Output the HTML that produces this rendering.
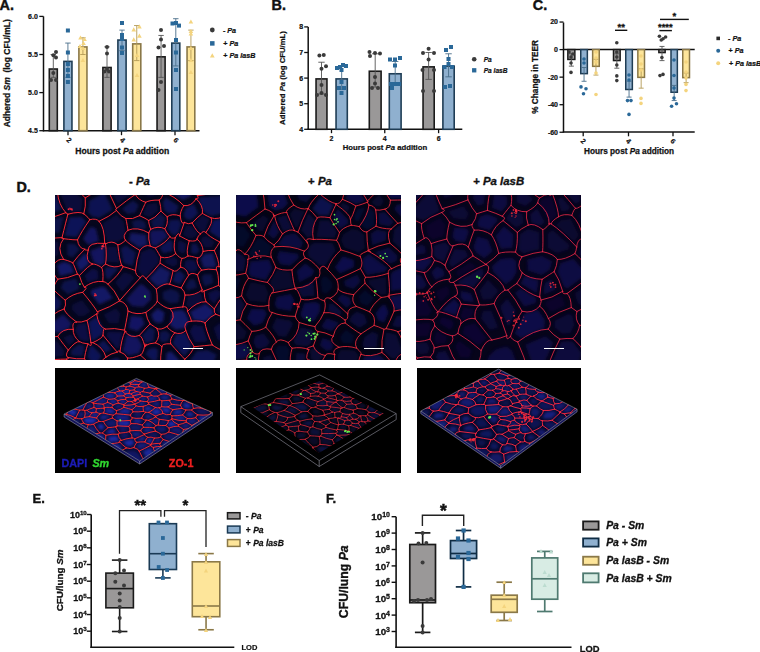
<!DOCTYPE html>
<html><head><meta charset="utf-8"><style>
html,body{margin:0;padding:0;background:#fff;}
svg{display:block;font-family:"Liberation Sans", sans-serif;filter:blur(0.3px);}
</style></head><body>
<svg width="760" height="652" viewBox="0 0 760 652">
<defs><filter id="blur" x="-10%" y="-10%" width="120%" height="120%"><feGaussianBlur stdDeviation="1.6"/></filter><filter id="blur2" x="-20%" y="-20%" width="140%" height="140%"><feGaussianBlur stdDeviation="0.7"/></filter></defs>
<rect width="760" height="652" fill="#fff"/>
<line x1="43.50" y1="16.40" x2="43.50" y2="131.30" stroke="#111" stroke-width="1.5"/>
<line x1="42.80" y1="130.80" x2="199.50" y2="130.80" stroke="#111" stroke-width="1.5"/>
<line x1="39.30" y1="16.40" x2="43.50" y2="16.40" stroke="#111" stroke-width="1.3"/>
<text x="37.80" y="18.90" font-size="7" text-anchor="end" font-weight="bold" fill="#111" stroke="#111" stroke-width="0.21" style="" >6.0</text>
<line x1="39.30" y1="54.50" x2="43.50" y2="54.50" stroke="#111" stroke-width="1.3"/>
<text x="37.80" y="57.00" font-size="7" text-anchor="end" font-weight="bold" fill="#111" stroke="#111" stroke-width="0.21" style="" >5.5</text>
<line x1="39.30" y1="92.60" x2="43.50" y2="92.60" stroke="#111" stroke-width="1.3"/>
<text x="37.80" y="95.10" font-size="7" text-anchor="end" font-weight="bold" fill="#111" stroke="#111" stroke-width="0.21" style="" >5.0</text>
<line x1="39.30" y1="130.70" x2="43.50" y2="130.70" stroke="#111" stroke-width="1.3"/>
<text x="37.80" y="133.20" font-size="7" text-anchor="end" font-weight="bold" fill="#111" stroke="#111" stroke-width="0.21" style="" >4.5</text>
<line x1="68.00" y1="130.80" x2="68.00" y2="135.20" stroke="#111" stroke-width="1.3"/>
<text x="67.50" y="142.00" font-size="7" text-anchor="middle" font-weight="bold" fill="#111" stroke="#111" stroke-width="0.21" transform="rotate(45 67.5 142.0)" style="" >2</text>
<line x1="121.50" y1="130.80" x2="121.50" y2="135.20" stroke="#111" stroke-width="1.3"/>
<text x="121.00" y="142.00" font-size="7" text-anchor="middle" font-weight="bold" fill="#111" stroke="#111" stroke-width="0.21" transform="rotate(45 121.0 142.0)" style="" >4</text>
<line x1="175.00" y1="130.80" x2="175.00" y2="135.20" stroke="#111" stroke-width="1.3"/>
<text x="174.50" y="142.00" font-size="7" text-anchor="middle" font-weight="bold" fill="#111" stroke="#111" stroke-width="0.21" transform="rotate(45 174.5 142.0)" style="" >6</text>
<text x="75.20" y="153.80" font-size="8.6" text-anchor="start" font-weight="bold" fill="#111" stroke="#111" stroke-width="0.26" style="" >Hours post <tspan font-style="italic">Pa</tspan> addition</text>
<text x="10.40" y="73.30" font-size="8.5" text-anchor="middle" font-weight="bold" fill="#111" stroke="#111" stroke-width="0.26" transform="rotate(-90 10.4 73.3)" style="white-space:pre" >Adhered <tspan font-style="italic">Sm</tspan>  (log CFU/mL)</text>
<rect x="49.30" y="69.02" width="8.00" height="61.68" fill="#9a9898" stroke="#1a1a1a" stroke-width="1.6"/>
<line x1="53.30" y1="54.50" x2="53.30" y2="77.36" stroke="#555" stroke-width="0.9"/>
<line x1="50.60" y1="54.50" x2="56.00" y2="54.50" stroke="#555" stroke-width="0.9"/>
<line x1="50.60" y1="77.36" x2="56.00" y2="77.36" stroke="#555" stroke-width="0.9"/>
<circle cx="53.40" cy="55.20" r="2.0" fill="#3a3a3a"/>
<circle cx="56.00" cy="51.90" r="2.0" fill="#3a3a3a"/>
<circle cx="56.00" cy="57.50" r="2.0" fill="#3a3a3a"/>
<circle cx="53.30" cy="73.00" r="2.0" fill="#3a3a3a"/>
<circle cx="51.00" cy="80.00" r="2.0" fill="#3a3a3a"/>
<circle cx="56.00" cy="80.00" r="2.0" fill="#3a3a3a"/>
<rect x="63.90" y="61.40" width="8.05" height="69.30" fill="#8fb0cf" stroke="#1f3d55" stroke-width="1.6"/>
<line x1="67.92" y1="43.07" x2="67.92" y2="77.36" stroke="#4a6e8a" stroke-width="0.9"/>
<line x1="65.22" y1="43.07" x2="70.62" y2="43.07" stroke="#4a6e8a" stroke-width="0.9"/>
<line x1="65.22" y1="77.36" x2="70.62" y2="77.36" stroke="#4a6e8a" stroke-width="0.9"/>
<rect x="65.90" y="28.50" width="4.0" height="4.0" fill="#2a6898"/>
<rect x="65.90" y="50.50" width="4.0" height="4.0" fill="#2a6898"/>
<rect x="65.90" y="62.00" width="4.0" height="4.0" fill="#2a6898"/>
<rect x="65.90" y="68.00" width="4.0" height="4.0" fill="#2a6898"/>
<rect x="65.90" y="74.00" width="4.0" height="4.0" fill="#2a6898"/>
<rect x="65.90" y="80.00" width="4.0" height="4.0" fill="#2a6898"/>
<rect x="78.90" y="46.92" width="8.05" height="83.78" fill="#fde59a" stroke="#8a7848" stroke-width="1.6"/>
<line x1="82.92" y1="37.74" x2="82.92" y2="54.50" stroke="#b39a55" stroke-width="0.9"/>
<line x1="80.22" y1="37.74" x2="85.62" y2="37.74" stroke="#b39a55" stroke-width="0.9"/>
<line x1="80.22" y1="54.50" x2="85.62" y2="54.50" stroke="#b39a55" stroke-width="0.9"/>
<polygon points="80.50,35.43 82.80,39.57 78.20,39.57" fill="#f4d47e" opacity="1"/>
<polygon points="84.50,36.93 86.80,41.07 82.20,41.07" fill="#f4d47e" opacity="1"/>
<polygon points="83.50,40.93 85.80,45.07 81.20,45.07" fill="#f4d47e" opacity="1"/>
<polygon points="80.00,43.93 82.30,48.07 77.70,48.07" fill="#f4d47e" opacity="1"/>
<polygon points="83.00,45.93 85.30,50.07 80.70,50.07" fill="#f4d47e" opacity="1"/>
<polygon points="82.90,57.93 85.20,62.07 80.60,62.07" fill="#f4d47e" opacity="1"/>
<rect x="102.90" y="67.49" width="8.20" height="63.21" fill="#9a9898" stroke="#1a1a1a" stroke-width="1.6"/>
<line x1="107.00" y1="46.88" x2="107.00" y2="77.36" stroke="#555" stroke-width="0.9"/>
<line x1="104.30" y1="46.88" x2="109.70" y2="46.88" stroke="#555" stroke-width="0.9"/>
<line x1="104.30" y1="77.36" x2="109.70" y2="77.36" stroke="#555" stroke-width="0.9"/>
<circle cx="107.00" cy="47.00" r="2.0" fill="#3a3a3a"/>
<circle cx="107.00" cy="53.50" r="2.0" fill="#3a3a3a"/>
<circle cx="107.00" cy="69.00" r="2.0" fill="#3a3a3a"/>
<circle cx="104.50" cy="71.50" r="2.0" fill="#3a3a3a"/>
<circle cx="109.00" cy="71.50" r="2.0" fill="#3a3a3a"/>
<rect x="117.90" y="40.06" width="8.20" height="90.64" fill="#8fb0cf" stroke="#1f3d55" stroke-width="1.6"/>
<line x1="122.00" y1="30.12" x2="122.00" y2="50.69" stroke="#4a6e8a" stroke-width="0.9"/>
<line x1="119.30" y1="30.12" x2="124.70" y2="30.12" stroke="#4a6e8a" stroke-width="0.9"/>
<line x1="119.30" y1="50.69" x2="124.70" y2="50.69" stroke="#4a6e8a" stroke-width="0.9"/>
<rect x="120.00" y="21.00" width="4.0" height="4.0" fill="#2a6898"/>
<rect x="120.00" y="33.00" width="4.0" height="4.0" fill="#2a6898"/>
<rect x="120.00" y="37.00" width="4.0" height="4.0" fill="#2a6898"/>
<rect x="120.00" y="45.50" width="4.0" height="4.0" fill="#2a6898"/>
<rect x="120.00" y="51.00" width="4.0" height="4.0" fill="#2a6898"/>
<rect x="132.70" y="43.87" width="8.10" height="86.83" fill="#fde59a" stroke="#8a7848" stroke-width="1.6"/>
<line x1="136.75" y1="25.54" x2="136.75" y2="60.60" stroke="#b39a55" stroke-width="0.9"/>
<line x1="134.05" y1="25.54" x2="139.45" y2="25.54" stroke="#b39a55" stroke-width="0.9"/>
<line x1="134.05" y1="60.60" x2="139.45" y2="60.60" stroke="#b39a55" stroke-width="0.9"/>
<polygon points="133.75,27.33 136.05,31.47 131.45,31.47" fill="#f4d47e" opacity="1"/>
<polygon points="139.40,24.33 141.70,28.47 137.10,28.47" fill="#f4d47e" opacity="1"/>
<polygon points="139.40,33.53 141.70,37.67 137.10,37.67" fill="#f4d47e" opacity="1"/>
<polygon points="133.75,37.33 136.05,41.47 131.45,41.47" fill="#f4d47e" opacity="1"/>
<polygon points="137.00,52.93 139.30,57.07 134.70,57.07" fill="#f4d47e" opacity="1"/>
<polygon points="137.00,72.93 139.30,77.07 134.70,77.07" fill="#f4d47e" opacity="1"/>
<rect x="157.05" y="56.82" width="8.05" height="73.88" fill="#9a9898" stroke="#1a1a1a" stroke-width="1.6"/>
<line x1="161.07" y1="35.45" x2="161.07" y2="77.36" stroke="#555" stroke-width="0.9"/>
<line x1="158.38" y1="35.45" x2="163.77" y2="35.45" stroke="#555" stroke-width="0.9"/>
<line x1="158.38" y1="77.36" x2="163.77" y2="77.36" stroke="#555" stroke-width="0.9"/>
<circle cx="161.00" cy="30.00" r="2.0" fill="#3a3a3a"/>
<circle cx="161.00" cy="39.40" r="2.0" fill="#3a3a3a"/>
<circle cx="158.50" cy="47.50" r="2.0" fill="#3a3a3a"/>
<circle cx="164.00" cy="46.00" r="2.0" fill="#3a3a3a"/>
<circle cx="161.00" cy="82.00" r="2.0" fill="#3a3a3a"/>
<circle cx="158.50" cy="90.00" r="2.0" fill="#3a3a3a"/>
<rect x="171.80" y="43.11" width="8.00" height="87.59" fill="#8fb0cf" stroke="#1f3d55" stroke-width="1.6"/>
<line x1="175.80" y1="18.69" x2="175.80" y2="65.93" stroke="#4a6e8a" stroke-width="0.9"/>
<line x1="173.10" y1="18.69" x2="178.50" y2="18.69" stroke="#4a6e8a" stroke-width="0.9"/>
<line x1="173.10" y1="65.93" x2="178.50" y2="65.93" stroke="#4a6e8a" stroke-width="0.9"/>
<rect x="170.50" y="21.50" width="4.0" height="4.0" fill="#2a6898"/>
<rect x="174.00" y="21.00" width="4.0" height="4.0" fill="#2a6898"/>
<rect x="177.00" y="23.60" width="4.0" height="4.0" fill="#2a6898"/>
<rect x="174.00" y="38.00" width="4.0" height="4.0" fill="#2a6898"/>
<rect x="174.00" y="50.50" width="4.0" height="4.0" fill="#2a6898"/>
<rect x="174.00" y="68.00" width="4.0" height="4.0" fill="#2a6898"/>
<rect x="174.00" y="87.00" width="4.0" height="4.0" fill="#2a6898"/>
<rect x="187.05" y="46.92" width="7.75" height="83.78" fill="#fde59a" stroke="#8a7848" stroke-width="1.6"/>
<line x1="190.93" y1="30.12" x2="190.93" y2="60.60" stroke="#b39a55" stroke-width="0.9"/>
<line x1="188.23" y1="30.12" x2="193.62" y2="30.12" stroke="#b39a55" stroke-width="0.9"/>
<line x1="188.23" y1="60.60" x2="193.62" y2="60.60" stroke="#b39a55" stroke-width="0.9"/>
<polygon points="190.90,19.43 193.20,23.57 188.60,23.57" fill="#f4d47e" opacity="1"/>
<polygon points="190.90,28.93 193.20,33.07 188.60,33.07" fill="#f4d47e" opacity="1"/>
<polygon points="190.90,31.43 193.20,35.57 188.60,35.57" fill="#f4d47e" opacity="1"/>
<polygon points="190.90,45.93 193.20,50.07 188.60,50.07" fill="#f4d47e" opacity="1"/>
<polygon points="190.90,57.93 193.20,62.07 188.60,62.07" fill="#f4d47e" opacity="1"/>
<polygon points="190.90,69.93 193.20,74.07 188.60,74.07" fill="#f4d47e" opacity="1"/>
<circle cx="212.30" cy="30.00" r="2.4" fill="#3a3a3a"/>
<text x="222.90" y="32.60" font-size="7.2" text-anchor="start" font-weight="bold" fill="#111" stroke="#111" stroke-width="0.22" style="" >- <tspan font-style="italic">Pa</tspan></text>
<rect x="210.05" y="41.15" width="4.5" height="4.5" fill="#2a6898"/>
<text x="223.30" y="46.00" font-size="7.2" text-anchor="start" font-weight="bold" fill="#111" stroke="#111" stroke-width="0.22" style="" >+ <tspan font-style="italic">Pa</tspan></text>
<polygon points="212.30,53.14 214.70,57.46 209.90,57.46" fill="#f4d47e" opacity="1"/>
<text x="223.30" y="58.00" font-size="7.2" text-anchor="start" font-weight="bold" fill="#111" stroke="#111" stroke-width="0.22" style="" >+ <tspan font-style="italic">Pa lasB</tspan></text>
<text x="-0.50" y="10.20" font-size="14.4" text-anchor="start" font-weight="bold" fill="#111" stroke="#111" stroke-width="0.43" style="" >A.</text>
<line x1="308.20" y1="26.90" x2="308.20" y2="129.70" stroke="#111" stroke-width="1.5"/>
<line x1="307.50" y1="129.20" x2="462.30" y2="129.20" stroke="#111" stroke-width="1.5"/>
<line x1="304.20" y1="26.90" x2="308.20" y2="26.90" stroke="#111" stroke-width="1.3"/>
<text x="303.20" y="29.30" font-size="7" text-anchor="end" font-weight="bold" fill="#111" stroke="#111" stroke-width="0.21" style="" >8</text>
<line x1="304.20" y1="52.50" x2="308.20" y2="52.50" stroke="#111" stroke-width="1.3"/>
<text x="303.20" y="54.90" font-size="7" text-anchor="end" font-weight="bold" fill="#111" stroke="#111" stroke-width="0.21" style="" >7</text>
<line x1="304.20" y1="78.10" x2="308.20" y2="78.10" stroke="#111" stroke-width="1.3"/>
<text x="303.20" y="80.50" font-size="7" text-anchor="end" font-weight="bold" fill="#111" stroke="#111" stroke-width="0.21" style="" >6</text>
<line x1="304.20" y1="103.70" x2="308.20" y2="103.70" stroke="#111" stroke-width="1.3"/>
<text x="303.20" y="106.10" font-size="7" text-anchor="end" font-weight="bold" fill="#111" stroke="#111" stroke-width="0.21" style="" >5</text>
<line x1="304.20" y1="129.30" x2="308.20" y2="129.30" stroke="#111" stroke-width="1.3"/>
<text x="303.20" y="131.70" font-size="7" text-anchor="end" font-weight="bold" fill="#111" stroke="#111" stroke-width="0.21" style="" >4</text>
<line x1="331.50" y1="129.20" x2="331.50" y2="133.20" stroke="#111" stroke-width="1.3"/>
<text x="331.50" y="140.50" font-size="7" text-anchor="middle" font-weight="bold" fill="#111" stroke="#111" stroke-width="0.21" style="" >2</text>
<line x1="384.75" y1="129.20" x2="384.75" y2="133.20" stroke="#111" stroke-width="1.3"/>
<text x="384.75" y="140.50" font-size="7" text-anchor="middle" font-weight="bold" fill="#111" stroke="#111" stroke-width="0.21" style="" >4</text>
<line x1="438.60" y1="129.20" x2="438.60" y2="133.20" stroke="#111" stroke-width="1.3"/>
<text x="438.60" y="140.50" font-size="7" text-anchor="middle" font-weight="bold" fill="#111" stroke="#111" stroke-width="0.21" style="" >6</text>
<text x="342.70" y="150.00" font-size="7.73" text-anchor="start" font-weight="bold" fill="#111" stroke="#111" stroke-width="0.23" style="" >Hours post <tspan font-style="italic">Pa</tspan> addition</text>
<text x="285.20" y="78.00" font-size="7.76" text-anchor="middle" font-weight="bold" fill="#111" stroke="#111" stroke-width="0.23" transform="rotate(-90 285.2 78)" style="" >Adhered <tspan font-style="italic">Pa</tspan> (log CFU/mL)</text>
<rect x="316.05" y="78.90" width="10.90" height="50.40" fill="#9a9898" stroke="#1a1a1a" stroke-width="1.6"/>
<line x1="321.50" y1="62.23" x2="321.50" y2="93.97" stroke="#555" stroke-width="0.9"/>
<line x1="318.30" y1="62.23" x2="324.70" y2="62.23" stroke="#555" stroke-width="0.9"/>
<line x1="318.30" y1="93.97" x2="324.70" y2="93.97" stroke="#555" stroke-width="0.9"/>
<circle cx="319.40" cy="55.60" r="2.0" fill="#3a3a3a"/>
<circle cx="323.75" cy="55.00" r="2.0" fill="#3a3a3a"/>
<circle cx="326.00" cy="66.25" r="2.0" fill="#3a3a3a"/>
<circle cx="321.50" cy="68.75" r="2.0" fill="#3a3a3a"/>
<circle cx="321.50" cy="85.00" r="2.0" fill="#3a3a3a"/>
<circle cx="321.50" cy="93.00" r="2.0" fill="#3a3a3a"/>
<circle cx="317.00" cy="95.00" r="2.0" fill="#3a3a3a"/>
<circle cx="326.00" cy="95.00" r="2.0" fill="#3a3a3a"/>
<rect x="336.05" y="78.90" width="11.25" height="50.40" fill="#8fb0cf" stroke="#1f3d55" stroke-width="1.6"/>
<line x1="341.68" y1="66.58" x2="341.68" y2="89.62" stroke="#4a6e8a" stroke-width="0.9"/>
<line x1="338.48" y1="66.58" x2="344.88" y2="66.58" stroke="#4a6e8a" stroke-width="0.9"/>
<line x1="338.48" y1="89.62" x2="344.88" y2="89.62" stroke="#4a6e8a" stroke-width="0.9"/>
<rect x="335.00" y="66.00" width="4.0" height="4.0" fill="#2a6898"/>
<rect x="338.00" y="65.00" width="4.0" height="4.0" fill="#2a6898"/>
<rect x="341.00" y="63.00" width="4.0" height="4.0" fill="#2a6898"/>
<rect x="344.00" y="64.00" width="4.0" height="4.0" fill="#2a6898"/>
<rect x="339.50" y="68.00" width="4.0" height="4.0" fill="#2a6898"/>
<rect x="339.50" y="80.00" width="4.0" height="4.0" fill="#2a6898"/>
<rect x="337.00" y="86.00" width="4.0" height="4.0" fill="#2a6898"/>
<rect x="342.00" y="86.00" width="4.0" height="4.0" fill="#2a6898"/>
<rect x="339.50" y="91.00" width="4.0" height="4.0" fill="#2a6898"/>
<rect x="369.30" y="71.22" width="11.80" height="58.08" fill="#9a9898" stroke="#1a1a1a" stroke-width="1.6"/>
<line x1="375.20" y1="53.78" x2="375.20" y2="87.06" stroke="#555" stroke-width="0.9"/>
<line x1="372.00" y1="53.78" x2="378.40" y2="53.78" stroke="#555" stroke-width="0.9"/>
<line x1="372.00" y1="87.06" x2="378.40" y2="87.06" stroke="#555" stroke-width="0.9"/>
<circle cx="369.50" cy="52.00" r="2.0" fill="#3a3a3a"/>
<circle cx="375.00" cy="53.00" r="2.0" fill="#3a3a3a"/>
<circle cx="380.00" cy="53.50" r="2.0" fill="#3a3a3a"/>
<circle cx="370.00" cy="56.00" r="2.0" fill="#3a3a3a"/>
<circle cx="375.00" cy="77.00" r="2.0" fill="#3a3a3a"/>
<circle cx="375.00" cy="83.50" r="2.0" fill="#3a3a3a"/>
<circle cx="372.00" cy="88.00" r="2.0" fill="#3a3a3a"/>
<circle cx="378.00" cy="88.00" r="2.0" fill="#3a3a3a"/>
<rect x="389.30" y="73.78" width="11.80" height="55.52" fill="#8fb0cf" stroke="#1f3d55" stroke-width="1.6"/>
<line x1="395.20" y1="61.46" x2="395.20" y2="84.50" stroke="#4a6e8a" stroke-width="0.9"/>
<line x1="392.00" y1="61.46" x2="398.40" y2="61.46" stroke="#4a6e8a" stroke-width="0.9"/>
<line x1="392.00" y1="84.50" x2="398.40" y2="84.50" stroke="#4a6e8a" stroke-width="0.9"/>
<rect x="388.00" y="57.50" width="4.0" height="4.0" fill="#2a6898"/>
<rect x="393.00" y="57.50" width="4.0" height="4.0" fill="#2a6898"/>
<rect x="398.00" y="56.00" width="4.0" height="4.0" fill="#2a6898"/>
<rect x="393.00" y="63.50" width="4.0" height="4.0" fill="#2a6898"/>
<rect x="389.00" y="82.00" width="4.0" height="4.0" fill="#2a6898"/>
<rect x="393.00" y="82.00" width="4.0" height="4.0" fill="#2a6898"/>
<rect x="397.00" y="82.00" width="4.0" height="4.0" fill="#2a6898"/>
<rect x="390.00" y="86.00" width="4.0" height="4.0" fill="#2a6898"/>
<rect x="423.05" y="66.87" width="11.15" height="62.43" fill="#9a9898" stroke="#1a1a1a" stroke-width="1.6"/>
<line x1="428.62" y1="52.50" x2="428.62" y2="79.38" stroke="#555" stroke-width="0.9"/>
<line x1="425.43" y1="52.50" x2="431.82" y2="52.50" stroke="#555" stroke-width="0.9"/>
<line x1="425.43" y1="79.38" x2="431.82" y2="79.38" stroke="#555" stroke-width="0.9"/>
<circle cx="428.60" cy="48.70" r="2.0" fill="#3a3a3a"/>
<circle cx="423.00" cy="53.00" r="2.0" fill="#3a3a3a"/>
<circle cx="434.00" cy="53.00" r="2.0" fill="#3a3a3a"/>
<circle cx="428.60" cy="59.50" r="2.0" fill="#3a3a3a"/>
<circle cx="422.50" cy="70.00" r="2.0" fill="#3a3a3a"/>
<circle cx="434.00" cy="70.00" r="2.0" fill="#3a3a3a"/>
<circle cx="423.00" cy="91.00" r="2.0" fill="#3a3a3a"/>
<circle cx="434.00" cy="91.00" r="2.0" fill="#3a3a3a"/>
<rect x="442.90" y="66.10" width="11.30" height="63.20" fill="#8fb0cf" stroke="#1f3d55" stroke-width="1.6"/>
<line x1="448.55" y1="53.78" x2="448.55" y2="76.82" stroke="#4a6e8a" stroke-width="0.9"/>
<line x1="445.35" y1="53.78" x2="451.75" y2="53.78" stroke="#4a6e8a" stroke-width="0.9"/>
<line x1="445.35" y1="76.82" x2="451.75" y2="76.82" stroke="#4a6e8a" stroke-width="0.9"/>
<rect x="444.00" y="48.00" width="4.0" height="4.0" fill="#2a6898"/>
<rect x="449.00" y="45.00" width="4.0" height="4.0" fill="#2a6898"/>
<rect x="446.50" y="57.00" width="4.0" height="4.0" fill="#2a6898"/>
<rect x="446.50" y="62.00" width="4.0" height="4.0" fill="#2a6898"/>
<rect x="442.50" y="65.00" width="4.0" height="4.0" fill="#2a6898"/>
<rect x="450.00" y="65.00" width="4.0" height="4.0" fill="#2a6898"/>
<rect x="443.00" y="85.00" width="4.0" height="4.0" fill="#2a6898"/>
<rect x="448.00" y="84.00" width="4.0" height="4.0" fill="#2a6898"/>
<circle cx="474.20" cy="59.20" r="2.3" fill="#3a3a3a"/>
<text x="483.70" y="61.60" font-size="6.6" text-anchor="start" font-weight="bold" fill="#111" stroke="#111" stroke-width="0.20" style="" ><tspan font-style="italic">Pa</tspan></text>
<rect x="472.05" y="68.15" width="4.3" height="4.3" fill="#2a6898"/>
<text x="483.70" y="72.70" font-size="6.6" text-anchor="start" font-weight="bold" fill="#111" stroke="#111" stroke-width="0.20" style="" ><tspan font-style="italic">Pa lasB</tspan></text>
<text x="271.60" y="10.20" font-size="14.4" text-anchor="start" font-weight="bold" fill="#111" stroke="#111" stroke-width="0.43" style="" >B.</text>
<line x1="563.50" y1="22.50" x2="563.50" y2="132.50" stroke="#111" stroke-width="1.5"/>
<line x1="562.80" y1="132.00" x2="694.70" y2="132.00" stroke="#111" stroke-width="1.5"/>
<line x1="563.50" y1="49.60" x2="694.70" y2="49.60" stroke="#111" stroke-width="1.5"/>
<line x1="559.50" y1="22.05" x2="563.50" y2="22.05" stroke="#111" stroke-width="1.3"/>
<text x="558.00" y="24.45" font-size="7" text-anchor="end" font-weight="bold" fill="#111" stroke="#111" stroke-width="0.21" style="" >20</text>
<line x1="559.50" y1="49.60" x2="563.50" y2="49.60" stroke="#111" stroke-width="1.3"/>
<text x="558.00" y="52.00" font-size="7" text-anchor="end" font-weight="bold" fill="#111" stroke="#111" stroke-width="0.21" style="" >0</text>
<line x1="559.50" y1="77.15" x2="563.50" y2="77.15" stroke="#111" stroke-width="1.3"/>
<text x="558.00" y="79.55" font-size="7" text-anchor="end" font-weight="bold" fill="#111" stroke="#111" stroke-width="0.21" style="" >-20</text>
<line x1="559.50" y1="104.70" x2="563.50" y2="104.70" stroke="#111" stroke-width="1.3"/>
<text x="558.00" y="107.10" font-size="7" text-anchor="end" font-weight="bold" fill="#111" stroke="#111" stroke-width="0.21" style="" >-40</text>
<line x1="559.50" y1="132.25" x2="563.50" y2="132.25" stroke="#111" stroke-width="1.3"/>
<text x="558.00" y="134.65" font-size="7" text-anchor="end" font-weight="bold" fill="#111" stroke="#111" stroke-width="0.21" style="" >-60</text>
<line x1="583.20" y1="132.00" x2="583.20" y2="136.30" stroke="#111" stroke-width="1.3"/>
<text x="581.70" y="143.00" font-size="7" text-anchor="middle" font-weight="bold" fill="#111" stroke="#111" stroke-width="0.21" transform="rotate(45 581.7 143.0)" style="" >2</text>
<line x1="628.50" y1="132.00" x2="628.50" y2="136.30" stroke="#111" stroke-width="1.3"/>
<text x="627.00" y="143.00" font-size="7" text-anchor="middle" font-weight="bold" fill="#111" stroke="#111" stroke-width="0.21" transform="rotate(45 627.0 143.0)" style="" >4</text>
<line x1="673.00" y1="132.00" x2="673.00" y2="136.30" stroke="#111" stroke-width="1.3"/>
<text x="671.50" y="143.00" font-size="7" text-anchor="middle" font-weight="bold" fill="#111" stroke="#111" stroke-width="0.21" transform="rotate(45 671.5 143.0)" style="" >6</text>
<text x="584.00" y="154.20" font-size="8.24" text-anchor="start" font-weight="bold" fill="#111" stroke="#111" stroke-width="0.25" style="" >Hours post <tspan font-style="italic">Pa</tspan> addition</text>
<text x="538.30" y="76.90" font-size="8.24" text-anchor="middle" font-weight="bold" fill="#111" stroke="#111" stroke-width="0.25" transform="rotate(-90 538.3 76.9)" style="" >% Change in TEER</text>
<rect x="567.85" y="49.60" width="7.00" height="9.86" fill="#9a9898" stroke="#1a1a1a" stroke-width="1.5"/>
<line x1="571.35" y1="53.73" x2="571.35" y2="66.13" stroke="#555" stroke-width="0.9"/>
<line x1="568.85" y1="53.73" x2="573.85" y2="53.73" stroke="#555" stroke-width="0.9"/>
<line x1="568.85" y1="66.13" x2="573.85" y2="66.13" stroke="#555" stroke-width="0.9"/>
<circle cx="569.00" cy="52.00" r="1.8" fill="#3a3a3a"/>
<circle cx="573.00" cy="54.00" r="1.8" fill="#3a3a3a"/>
<circle cx="571.00" cy="57.00" r="1.8" fill="#3a3a3a"/>
<circle cx="571.00" cy="63.00" r="1.8" fill="#3a3a3a"/>
<circle cx="571.00" cy="72.40" r="1.8" fill="#3a3a3a"/>
<rect x="580.75" y="49.60" width="6.60" height="24.04" fill="#8fb0cf" stroke="#1f3d55" stroke-width="1.5"/>
<line x1="584.05" y1="67.51" x2="584.05" y2="81.28" stroke="#4a6e8a" stroke-width="0.9"/>
<line x1="581.55" y1="67.51" x2="586.55" y2="67.51" stroke="#4a6e8a" stroke-width="0.9"/>
<line x1="581.55" y1="81.28" x2="586.55" y2="81.28" stroke="#4a6e8a" stroke-width="0.9"/>
<circle cx="584.00" cy="59.00" r="1.8" fill="#2a6898"/>
<circle cx="584.00" cy="63.00" r="1.8" fill="#2a6898"/>
<circle cx="581.00" cy="86.90" r="1.8" fill="#2a6898"/>
<circle cx="586.00" cy="88.75" r="1.8" fill="#2a6898"/>
<circle cx="583.50" cy="93.75" r="1.8" fill="#2a6898"/>
<rect x="592.65" y="49.60" width="6.60" height="16.74" fill="#fde59a" stroke="#8a7848" stroke-width="1.5"/>
<line x1="595.95" y1="59.24" x2="595.95" y2="75.08" stroke="#b39a55" stroke-width="0.9"/>
<line x1="593.45" y1="59.24" x2="598.45" y2="59.24" stroke="#b39a55" stroke-width="0.9"/>
<line x1="593.45" y1="75.08" x2="598.45" y2="75.08" stroke="#b39a55" stroke-width="0.9"/>
<circle cx="596.00" cy="52.00" r="1.8" fill="#f4d47e"/>
<circle cx="596.00" cy="58.00" r="1.8" fill="#f4d47e"/>
<circle cx="596.00" cy="62.00" r="1.8" fill="#f4d47e"/>
<circle cx="596.00" cy="73.00" r="1.8" fill="#f4d47e"/>
<circle cx="596.00" cy="94.50" r="1.8" fill="#f4d47e"/>
<rect x="613.50" y="49.60" width="6.65" height="10.96" fill="#9a9898" stroke="#1a1a1a" stroke-width="1.5"/>
<line x1="616.83" y1="53.73" x2="616.83" y2="68.20" stroke="#555" stroke-width="0.9"/>
<line x1="614.33" y1="53.73" x2="619.33" y2="53.73" stroke="#555" stroke-width="0.9"/>
<line x1="614.33" y1="68.20" x2="619.33" y2="68.20" stroke="#555" stroke-width="0.9"/>
<circle cx="616.80" cy="42.75" r="1.8" fill="#3a3a3a"/>
<circle cx="616.80" cy="52.00" r="1.8" fill="#3a3a3a"/>
<circle cx="616.80" cy="57.00" r="1.8" fill="#3a3a3a"/>
<circle cx="616.80" cy="65.00" r="1.8" fill="#3a3a3a"/>
<circle cx="616.80" cy="75.90" r="1.8" fill="#3a3a3a"/>
<circle cx="616.80" cy="80.60" r="1.8" fill="#3a3a3a"/>
<rect x="625.75" y="49.60" width="6.60" height="39.89" fill="#8fb0cf" stroke="#1f3d55" stroke-width="1.5"/>
<line x1="629.05" y1="81.28" x2="629.05" y2="97.12" stroke="#4a6e8a" stroke-width="0.9"/>
<line x1="626.55" y1="81.28" x2="631.55" y2="81.28" stroke="#4a6e8a" stroke-width="0.9"/>
<line x1="626.55" y1="97.12" x2="631.55" y2="97.12" stroke="#4a6e8a" stroke-width="0.9"/>
<circle cx="629.00" cy="75.00" r="1.8" fill="#2a6898"/>
<circle cx="629.00" cy="80.00" r="1.8" fill="#2a6898"/>
<circle cx="627.50" cy="100.60" r="1.8" fill="#2a6898"/>
<circle cx="631.00" cy="100.60" r="1.8" fill="#2a6898"/>
<circle cx="629.00" cy="114.40" r="1.8" fill="#2a6898"/>
<rect x="637.85" y="49.60" width="6.65" height="27.76" fill="#fde59a" stroke="#8a7848" stroke-width="1.5"/>
<line x1="641.17" y1="68.89" x2="641.17" y2="88.17" stroke="#b39a55" stroke-width="0.9"/>
<line x1="638.67" y1="68.89" x2="643.67" y2="68.89" stroke="#b39a55" stroke-width="0.9"/>
<line x1="638.67" y1="88.17" x2="643.67" y2="88.17" stroke="#b39a55" stroke-width="0.9"/>
<circle cx="641.00" cy="56.00" r="1.8" fill="#f4d47e"/>
<circle cx="641.00" cy="64.00" r="1.8" fill="#f4d47e"/>
<circle cx="641.00" cy="70.00" r="1.8" fill="#f4d47e"/>
<circle cx="641.00" cy="98.40" r="1.8" fill="#f4d47e"/>
<circle cx="641.00" cy="103.40" r="1.8" fill="#f4d47e"/>
<rect x="658.85" y="49.60" width="6.30" height="2.97" fill="#9a9898" stroke="#1a1a1a" stroke-width="1.5"/>
<line x1="662.00" y1="46.43" x2="662.00" y2="60.62" stroke="#555" stroke-width="0.9"/>
<line x1="659.50" y1="46.43" x2="664.50" y2="46.43" stroke="#555" stroke-width="0.9"/>
<line x1="659.50" y1="60.62" x2="664.50" y2="60.62" stroke="#555" stroke-width="0.9"/>
<circle cx="659.40" cy="36.25" r="1.8" fill="#3a3a3a"/>
<circle cx="663.10" cy="38.75" r="1.8" fill="#3a3a3a"/>
<circle cx="665.60" cy="37.00" r="1.8" fill="#3a3a3a"/>
<circle cx="661.25" cy="40.00" r="1.8" fill="#3a3a3a"/>
<circle cx="661.90" cy="57.50" r="1.8" fill="#3a3a3a"/>
<circle cx="660.00" cy="75.60" r="1.8" fill="#3a3a3a"/>
<circle cx="663.00" cy="74.40" r="1.8" fill="#3a3a3a"/>
<rect x="671.00" y="49.60" width="6.35" height="42.64" fill="#8fb0cf" stroke="#1f3d55" stroke-width="1.5"/>
<line x1="674.17" y1="85.41" x2="674.17" y2="100.57" stroke="#4a6e8a" stroke-width="0.9"/>
<line x1="671.67" y1="85.41" x2="676.67" y2="85.41" stroke="#4a6e8a" stroke-width="0.9"/>
<line x1="671.67" y1="100.57" x2="676.67" y2="100.57" stroke="#4a6e8a" stroke-width="0.9"/>
<circle cx="674.00" cy="60.00" r="1.8" fill="#2a6898"/>
<circle cx="674.00" cy="75.50" r="1.8" fill="#2a6898"/>
<circle cx="674.00" cy="88.00" r="1.8" fill="#2a6898"/>
<circle cx="674.00" cy="98.10" r="1.8" fill="#2a6898"/>
<circle cx="676.50" cy="103.75" r="1.8" fill="#2a6898"/>
<circle cx="671.60" cy="106.25" r="1.8" fill="#2a6898"/>
<rect x="682.75" y="49.60" width="6.75" height="28.04" fill="#fde59a" stroke="#8a7848" stroke-width="1.5"/>
<line x1="686.12" y1="73.02" x2="686.12" y2="82.66" stroke="#b39a55" stroke-width="0.9"/>
<line x1="683.62" y1="73.02" x2="688.62" y2="73.02" stroke="#b39a55" stroke-width="0.9"/>
<line x1="683.62" y1="82.66" x2="688.62" y2="82.66" stroke="#b39a55" stroke-width="0.9"/>
<circle cx="686.00" cy="62.00" r="1.8" fill="#f4d47e"/>
<circle cx="686.00" cy="72.00" r="1.8" fill="#f4d47e"/>
<circle cx="686.00" cy="78.00" r="1.8" fill="#f4d47e"/>
<circle cx="686.00" cy="84.40" r="1.8" fill="#f4d47e"/>
<circle cx="686.00" cy="90.60" r="1.8" fill="#f4d47e"/>
<text x="621.20" y="29.50" font-size="9.5" text-anchor="middle" font-weight="bold" fill="#111" stroke="#111" stroke-width="0.28" style="" >**</text>
<line x1="615.00" y1="30.30" x2="627.30" y2="30.30" stroke="#111" stroke-width="1.4"/>
<text x="665.30" y="30.00" font-size="9.3" text-anchor="middle" font-weight="bold" fill="#111" stroke="#111" stroke-width="0.28" style="" >****</text>
<line x1="659.40" y1="30.60" x2="671.90" y2="30.60" stroke="#111" stroke-width="1.4"/>
<text x="674.40" y="18.80" font-size="9.5" text-anchor="middle" font-weight="bold" fill="#111" stroke="#111" stroke-width="0.28" style="" >*</text>
<line x1="660.00" y1="19.40" x2="688.80" y2="19.40" stroke="#111" stroke-width="1.4"/>
<rect x="716.40" y="36.60" width="3.6" height="3.6" fill="#2a2a2a"/>
<text x="728.00" y="40.80" font-size="7.2" text-anchor="start" font-weight="bold" fill="#111" stroke="#111" stroke-width="0.22" style="" >- <tspan font-style="italic">Pa</tspan></text>
<circle cx="718.20" cy="50.65" r="2.0" fill="#2a6898"/>
<text x="728.50" y="53.10" font-size="7.2" text-anchor="start" font-weight="bold" fill="#111" stroke="#111" stroke-width="0.22" style="" >+ <tspan font-style="italic">Pa</tspan></text>
<circle cx="718.20" cy="63.30" r="2.0" fill="#f4d47e"/>
<text x="729.00" y="65.70" font-size="7.2" text-anchor="start" font-weight="bold" fill="#111" stroke="#111" stroke-width="0.22" style="" >+ <tspan font-style="italic">Pa lasB</tspan></text>
<text x="532.80" y="10.20" font-size="14.4" text-anchor="start" font-weight="bold" fill="#111" stroke="#111" stroke-width="0.43" style="" >C.</text>
<text x="16.40" y="192.40" font-size="14.4" text-anchor="start" font-weight="bold" fill="#111" stroke="#111" stroke-width="0.43" style="" >D.</text>
<text x="139.50" y="184.60" font-size="11.4" text-anchor="middle" font-weight="bold" fill="#111" stroke="#111" stroke-width="0.34" style="" >- <tspan font-style="italic">Pa</tspan></text>
<text x="320.00" y="184.60" font-size="11.4" text-anchor="middle" font-weight="bold" fill="#111" stroke="#111" stroke-width="0.34" style="" >+ <tspan font-style="italic">Pa</tspan></text>
<text x="498.70" y="184.60" font-size="11.4" text-anchor="middle" font-weight="bold" fill="#111" stroke="#111" stroke-width="0.34" style="" >+ <tspan font-style="italic">Pa lasB</tspan></text>
<clipPath id="clip55"><rect x="55" y="195" width="165" height="165"/></clipPath>
<g clip-path="url(#clip55)"><rect x="55" y="195" width="165" height="165" fill="#05061c"/>
<g filter="url(#blur)"><polygon points="140.6,376.6 131.2,377.3 132.0,362.8 139.3,361.1 146.5,367.5" fill="#1e26a8" opacity="0.38"/><polygon points="64.1,362.0 50.3,362.9 56.5,374.2 59.9,373.5 64.6,364.9" fill="#1e26a8" opacity="0.53"/><polygon points="90.1,251.0 103.9,245.4 104.5,245.8 104.5,262.6 101.2,265.5 93.8,262.6" fill="#1e26a8" opacity="0.48"/><polygon points="203.5,267.7 200.5,258.8 204.7,254.0 212.8,253.3 216.2,265.2 214.3,267.4" fill="#1e26a8" opacity="0.49"/><polygon points="141.9,88.2 184.1,68.8 150.7,170.9 139.5,171.2 131.5,164.6" fill="#1e26a8" opacity="0.20"/><polygon points="185.7,286.4 187.8,290.3 197.0,287.5 194.5,279.4 189.7,279.6" fill="#1e26a8" opacity="0.32"/><polygon points="105.4,352.3 98.4,344.5 103.8,340.6 111.4,349.6" fill="#1e26a8" opacity="0.41"/><polygon points="84.6,275.4 92.4,268.6 97.7,270.6 98.5,278.9 87.5,282.3" fill="#1e26a8" opacity="0.29"/><polygon points="58.4,254.7 58.4,242.3 57.5,241.6 40.8,240.8 40.3,241.1 46.5,255.6 52.6,257.7" fill="#1e26a8" opacity="0.23"/><polygon points="64.9,235.1 69.4,217.4 81.5,217.1 86.1,221.5 76.7,236.8 66.1,236.0" fill="#1e26a8" opacity="0.43"/><polygon points="197.7,233.5 195.1,237.2 189.5,238.4 182.7,235.0 186.1,225.4 191.7,225.7" fill="#1e26a8" opacity="0.20"/><polygon points="253.2,335.1 250.0,321.9 257.5,301.3 259.3,299.8 338.3,313.0 271.1,340.8" fill="#1e26a8" opacity="0.44"/><polygon points="144.9,229.2 133.4,227.7 132.2,221.3 139.9,219.6 145.0,222.3 146.0,227.2" fill="#1e26a8" opacity="0.33"/><polygon points="155.1,195.5 157.3,191.6 157.4,189.8 150.9,184.7 144.0,184.9 143.0,192.7 148.3,196.6" fill="#1e26a8" opacity="0.22"/><polygon points="163.0,342.5 159.3,340.3 160.0,331.9 166.0,330.8 170.4,334.5 168.1,340.8" fill="#1e26a8" opacity="0.34"/><polygon points="158.0,389.8 165.7,373.8 171.9,375.0 163.7,399.1" fill="#1e26a8" opacity="0.51"/><polygon points="9.5,296.1 -9.7,286.2 -82.8,275.2 -107.0,336.8 5.3,309.0" fill="#1e26a8" opacity="0.20"/><polygon points="110.1,181.7 109.5,186.9 117.6,203.9 132.4,192.8 134.1,180.8 126.5,174.5" fill="#1e26a8" opacity="0.21"/><polygon points="168.8,364.6 165.8,363.1 166.6,353.1 171.3,351.5 178.7,359.7 178.0,364.5 173.8,365.5" fill="#1e26a8" opacity="0.54"/><polygon points="152.5,227.4 151.0,220.7 160.4,213.5 165.1,217.9 163.3,227.0" fill="#1e26a8" opacity="0.31"/><polygon points="213.2,283.0 211.9,274.4 203.9,274.6 201.7,277.3 204.2,285.5 205.3,286.1" fill="#1e26a8" opacity="0.33"/><polygon points="144.5,324.0 137.8,331.1 129.0,328.6 128.6,327.8 130.9,316.1 141.8,316.9" fill="#1e26a8" opacity="0.51"/><polygon points="63.8,355.1 62.9,356.2 49.4,357.1 43.2,354.4 52.2,340.4 57.2,341.5 64.0,350.3" fill="#1e26a8" opacity="0.22"/><polygon points="184.3,356.2 192.0,346.0 185.1,332.7 176.0,334.5 172.7,343.6" fill="#1e26a8" opacity="0.41"/><polygon points="69.0,345.2 63.2,337.8 71.6,333.9 74.9,340.6" fill="#1e26a8" opacity="0.23"/><polygon points="59.9,114.4 -28.0,102.8 49.0,177.2 53.0,177.8 61.6,173.0 69.4,153.5" fill="#1e26a8" opacity="0.23"/><polygon points="230.5,454.7 226.0,375.4 230.1,365.7 241.8,359.6 261.6,366.0 235.5,480.0" fill="#1e26a8" opacity="0.41"/><polygon points="225.5,282.6 224.3,274.6 225.7,273.1 239.4,271.7 243.0,284.8 241.5,286.0 230.0,285.6" fill="#1e26a8" opacity="0.48"/><polygon points="170.0,324.9 175.9,329.8 184.5,328.2 188.8,320.8 185.8,313.2 182.1,309.8 172.4,311.1" fill="#1e26a8" opacity="0.52"/><polygon points="209.5,231.4 219.7,238.3 222.5,237.3 226.3,223.6 225.1,218.1 213.3,220.6" fill="#1e26a8" opacity="0.44"/><polygon points="84.4,315.8 89.9,312.1 90.3,310.9 82.1,300.1 72.4,304.5 71.8,309.4 78.7,316.6" fill="#1e26a8" opacity="0.20"/><polygon points="220.0,441.4 216.7,383.9 197.6,385.8" fill="#1e26a8" opacity="0.54"/><polygon points="74.0,272.4 70.7,264.3 64.0,261.7 56.9,265.3 59.9,276.1" fill="#1e26a8" opacity="0.53"/><polygon points="222.5,261.6 219.6,251.5 223.0,246.2 225.4,245.3 240.5,254.4 239.1,259.9" fill="#1e26a8" opacity="0.46"/><polygon points="173.3,158.9 185.9,149.5 205.3,79.3 187.6,89.2 166.6,153.7" fill="#1e26a8" opacity="0.25"/><polygon points="190.6,364.1 191.5,364.9 213.3,362.7 216.7,354.7 207.8,350.2 196.9,351.3 191.4,358.7" fill="#1e26a8" opacity="0.39"/><polygon points="167.7,228.4 169.4,220.2 178.5,219.6 181.3,224.1 178.0,233.5 175.0,234.7 171.3,233.9" fill="#1e26a8" opacity="0.37"/><polygon points="198.0,213.3 193.9,203.9 185.9,208.3 183.6,215.0 186.2,219.2 191.3,219.5" fill="#1e26a8" opacity="0.40"/><polygon points="203.9,212.1 198.6,199.9 199.7,197.2 233.1,195.1 224.6,212.9 211.2,215.9" fill="#1e26a8" opacity="0.36"/><polygon points="123.4,238.5 117.3,242.1 107.5,241.3 106.9,241.0 102.5,223.5 116.2,214.8 123.6,221.3 125.4,230.5" fill="#1e26a8" opacity="0.21"/><polygon points="164.0,209.6 162.9,202.6 165.6,197.6 178.5,206.1 176.2,212.7 167.9,213.2" fill="#1e26a8" opacity="0.39"/><polygon points="130.4,95.3 121.3,161.4 106.5,167.9 88.7,150.0 78.4,107.8" fill="#1e26a8" opacity="0.28"/><polygon points="79.3,270.0 76.3,262.8 84.0,254.0 86.2,254.6 89.0,263.5 80.5,270.9" fill="#1e26a8" opacity="0.53"/><polygon points="60.9,300.9 52.3,293.3 45.5,293.6 41.9,295.8 36.8,311.2 47.0,316.8 60.1,307.2" fill="#1e26a8" opacity="0.40"/><polygon points="103.9,315.0 108.5,322.9 118.5,323.4 120.4,313.5 116.0,308.2 104.3,313.9" fill="#1e26a8" opacity="0.21"/><polygon points="172.6,266.8 165.2,262.6 165.6,259.1 174.2,257.0 177.8,259.9 177.0,264.8" fill="#1e26a8" opacity="0.24"/><polygon points="227.7,293.5 246.6,294.2 236.9,320.9 217.7,312.8 216.6,308.4" fill="#1e26a8" opacity="0.19"/><polygon points="202.9,236.8 200.6,240.0 204.6,247.8 211.5,247.2 215.0,241.8 206.2,235.9" fill="#1e26a8" opacity="0.21"/><polygon points="158.2,210.8 156.9,202.8 147.2,204.4 142.7,214.1 149.3,217.6" fill="#1e26a8" opacity="0.21"/><polygon points="235.6,208.6 236.5,212.6 245.9,218.0 265.8,174.7 240.9,197.4" fill="#1e26a8" opacity="0.22"/><polygon points="85.5,165.8 78.5,183.3 87.3,191.1 99.8,184.6 100.3,180.6" fill="#1e26a8" opacity="0.40"/><polygon points="86.7,341.6 89.1,340.5 85.9,323.2 77.8,324.4 75.2,330.2 80.1,339.8" fill="#1e26a8" opacity="0.29"/><polygon points="190.5,196.1 183.1,200.1 171.0,192.2 171.1,190.1 185.5,179.3 191.2,194.2" fill="#1e26a8" opacity="0.49"/><polygon points="107.2,261.7 119.5,262.7 116.5,247.1 107.2,246.4" fill="#1e26a8" opacity="0.24"/><polygon points="167.7,282.7 157.3,286.6 149.2,278.5 160.3,266.2 170.4,272.0" fill="#1e26a8" opacity="0.49"/><polygon points="157.1,360.4 157.9,349.8 154.3,347.6 148.2,349.4 145.8,354.5 152.9,360.8" fill="#1e26a8" opacity="0.42"/><polygon points="181.9,253.6 178.3,250.8 178.0,241.8 180.5,240.8 185.9,243.5 185.3,252.1" fill="#1e26a8" opacity="0.28"/><polygon points="126.1,245.6 120.8,248.6 123.5,262.4 124.4,263.3 132.8,265.9 135.7,252.4" fill="#1e26a8" opacity="0.38"/><polygon points="47.8,213.9 47.4,202.4 51.9,195.2 55.9,195.8 61.5,209.5" fill="#1e26a8" opacity="0.39"/><polygon points="89.3,244.6 98.8,240.8 95.6,228.1 90.2,227.2 83.1,238.7 87.3,244.1" fill="#1e26a8" opacity="0.47"/><polygon points="99.3,304.6 112.6,298.2 112.6,297.9 105.6,288.1 102.5,286.5 91.5,289.9 90.5,293.0" fill="#1e26a8" opacity="0.52"/><polygon points="189.6,331.5 195.2,342.4 207.6,341.2 202.7,326.3 193.4,325.0" fill="#1e26a8" opacity="0.30"/><polygon points="154.9,384.9 148.2,379.1 154.1,370.1 158.2,369.7 161.4,371.3" fill="#1e26a8" opacity="0.37"/><polygon points="172.9,281.6 175.1,272.9 179.9,270.7 184.9,276.0 180.2,283.9" fill="#1e26a8" opacity="0.42"/><polygon points="51.9,285.1 45.5,285.4 41.6,271.3 45.3,265.7 52.1,268.0 54.9,278.0" fill="#1e26a8" opacity="0.21"/><polygon points="68.7,211.8 67.0,210.5 60.4,194.2 70.8,188.5 82.5,198.9 81.3,211.5" fill="#1e26a8" opacity="0.21"/><polygon points="122.7,350.7 126.7,334.5 137.9,337.7 142.2,346.0 138.8,353.2 128.6,355.5" fill="#1e26a8" opacity="0.48"/><polygon points="93.4,340.5 91.8,340.4 88.5,322.2 96.5,316.9 103.7,329.3 101.8,334.4" fill="#1e26a8" opacity="0.43"/><polygon points="138.7,205.0 132.9,200.6 122.5,208.4 122.4,209.5 127.6,214.1 135.3,212.4" fill="#1e26a8" opacity="0.35"/><polygon points="87.5,356.8 94.7,366.4 101.5,355.7 92.9,346.2 91.6,346.1 89.6,347.1" fill="#1e26a8" opacity="0.42"/><polygon points="21.3,340.9 12.5,354.6 -126.6,396.0 -106.4,356.8 9.9,328.0 18.8,332.9" fill="#1e26a8" opacity="0.43"/><polygon points="79.5,249.5 75.3,244.2 67.4,243.5 67.4,255.3 72.7,257.4" fill="#1e26a8" opacity="0.32"/><polygon points="71.0,355.3 82.4,356.2 84.7,345.9 78.9,344.3 71.2,350.2" fill="#1e26a8" opacity="0.35"/><polygon points="157.3,323.0 153.6,320.7 151.3,314.4 157.6,308.4 164.5,312.4 162.9,322.0" fill="#1e26a8" opacity="0.54"/><polygon points="146.0,234.8 130.7,232.8 128.9,240.2 139.5,247.7 147.1,244.4" fill="#1e26a8" opacity="0.49"/><polygon points="108.3,361.5 101.9,371.7 101.8,373.2 103.5,376.7 119.4,379.5 120.9,378.0 121.8,362.0 117.1,358.2 115.3,358.4" fill="#1e26a8" opacity="0.53"/><polygon points="92.2,380.0 77.0,379.8 72.3,384.1 64.2,447.2 94.4,384.4" fill="#1e26a8" opacity="0.54"/><polygon points="191.0,253.0 191.7,244.3 196.1,243.4 199.7,250.4 196.4,254.1" fill="#1e26a8" opacity="0.36"/><polygon points="159.8,247.5 163.2,253.3 172.7,251.1 172.4,241.0 169.0,240.2" fill="#1e26a8" opacity="0.41"/><polygon points="115.2,282.4 124.0,272.2 131.3,274.4 134.2,278.6 122.0,292.0" fill="#1e26a8" opacity="0.23"/><polygon points="36.9,289.6 15.9,278.8 36.3,273.6 40.2,287.6" fill="#1e26a8" opacity="0.42"/><polygon points="245.1,249.6 229.6,240.3 233.0,228.5 244.3,235.0 248.5,246.0" fill="#1e26a8" opacity="0.55"/><polygon points="189.4,271.9 195.1,271.6 197.8,268.5 195.1,260.7 189.0,259.4 185.3,261.1 184.3,266.6" fill="#1e26a8" opacity="0.30"/><polygon points="70.4,359.4 69.3,360.7 70.0,364.1 76.8,373.6 92.0,373.8 92.1,371.9 83.4,360.4" fill="#1e26a8" opacity="0.36"/><polygon points="216.8,289.5 208.1,292.9 209.3,299.3 214.2,303.5 222.0,293.0" fill="#1e26a8" opacity="0.29"/><polygon points="205.6,303.7 190.2,311.7 193.4,319.8 204.7,321.4 213.5,314.0 212.5,309.7" fill="#1e26a8" opacity="0.54"/><polygon points="116.8,348.3 118.9,348.2 122.5,333.3 122.1,332.3 108.2,331.6 106.5,336.0" fill="#1e26a8" opacity="0.29"/><polygon points="0.8,270.1 -88.9,256.7 -81.3,227.5 -39.5,230.8 20.1,239.9 27.8,258.1 23.8,264.3" fill="#1e26a8" opacity="0.27"/><polygon points="109.0,279.2 118.2,268.6 117.3,267.7 107.4,266.9 105.0,269.0 105.8,277.6" fill="#1e26a8" opacity="0.39"/><polygon points="59.5,232.7 63.3,217.7 61.9,216.7 48.8,220.8 41.8,231.8" fill="#1e26a8" opacity="0.32"/><polygon points="146.3,276.1 141.7,275.1 137.5,269.1 141.2,252.2 149.9,248.4 154.3,250.2 158.8,257.9 158.2,262.9" fill="#1e26a8" opacity="0.25"/><polygon points="202.8,301.0 189.6,308.0 186.2,304.8 187.9,296.3 200.0,292.6 201.4,293.4" fill="#1e26a8" opacity="0.21"/><polygon points="217.6,339.6 225.5,343.6 234.1,339.1 231.5,328.4 219.3,323.3 213.7,328.0" fill="#1e26a8" opacity="0.27"/><polygon points="149.9,233.5 151.1,244.6 155.6,246.3 167.9,236.6 163.5,230.0 151.6,230.4" fill="#1e26a8" opacity="0.45"/><polygon points="201.0,232.0 194.2,223.2 202.4,215.5 209.4,219.1 205.2,230.9" fill="#1e26a8" opacity="0.21"/><polygon points="154.8,330.1 153.8,340.8 145.9,343.2 141.9,335.4 149.9,326.9" fill="#1e26a8" opacity="0.35"/><polygon points="143.4,306.8 132.0,306.0 126.6,299.4 126.6,299.1 140.0,284.3 143.5,285.1 150.2,291.8 150.9,299.6" fill="#1e26a8" opacity="0.45"/><polygon points="29.6,231.3 36.3,220.9 35.9,210.5 -19.3,224.2 29.1,231.6" fill="#1e26a8" opacity="0.38"/><polygon points="170.5,289.1 162.6,292.1 163.2,299.2 170.8,303.6 178.3,302.5 179.7,295.5 177.3,291.3" fill="#1e26a8" opacity="0.33"/><polygon points="67.9,366.9 62.9,375.9 69.7,378.9 73.8,375.2" fill="#1e26a8" opacity="0.25"/><polygon points="78.1,289.5 79.2,286.5 76.2,279.6 75.0,278.7 63.4,281.7 60.8,288.0 67.8,294.3" fill="#1e26a8" opacity="0.34"/><polygon points="69.2,328.1 58.9,332.8 53.9,331.7 51.2,323.3 63.2,314.5 71.4,323.2" fill="#1e26a8" opacity="0.48"/><polygon points="92.5,216.6 99.3,217.8 111.8,209.9 111.9,208.5 104.4,192.8 89.3,200.8 88.2,212.3" fill="#1e26a8" opacity="0.39"/><polygon points="-44.2,212.8 28.9,194.6 34.3,185.9 -59.1,95.7 -87.3,88.8 -89.1,209.2" fill="#1e26a8" opacity="0.26"/></g><path d="M225.0 36.6Q210.8 104.2 187.8 170.8M225.0 36.6Q207.6 44.4 191.2 55.6M191.2 55.6Q172.5 117.3 150.9 178.8M187.8 170.8Q173.0 177.0 163.7 188.8M150.9 178.8Q155.9 182.1 163.7 188.8M228.9 222.0Q240.5 230.5 246.7 232.2M228.9 222.0Q228.4 232.2 223.6 240.5M223.6 240.5Q234.7 248.0 247.9 255.1M246.7 232.2Q252.3 246.2 253.4 249.6M253.4 249.6Q252.9 251.6 247.9 255.1M284.8 149.6Q265.9 189.7 246.7 232.2M-99.8 70.3Q-84.2 74.2 -64.7 79.0M-99.8 70.3Q-100.4 149.8 -102.0 220.1M-64.7 79.0Q-6.5 138.4 51.4 191.1M51.4 191.1Q52.5 196.8 44.7 202.0M44.7 202.0Q3.3 215.0 -46.1 224.5M-102.0 220.1Q-75.1 223.0 -46.1 224.5M127.7 171.2Q117.4 175.2 107.0 180.3M127.7 171.2Q133.5 125.5 140.4 79.0M107.0 180.3Q95.7 165.7 82.2 155.4M82.2 155.4Q75.0 122.1 67.8 96.4M67.8 96.4Q104.8 89.3 140.4 79.0M116.5 208.5Q111.8 198.4 106.3 186.9M116.5 208.5Q127.4 199.8 135.3 194.4M135.3 194.4Q135.8 188.1 137.4 179.2M137.4 179.2Q135.1 176.2 127.7 171.2M106.3 186.9Q113.0 183.4 107.0 180.3M191.2 55.6Q168.3 70.5 140.4 79.0M137.4 179.2Q143.8 177.0 150.9 178.8M106.3 186.9Q92.8 192.8 85.3 197.9M70.5 184.8Q80.7 192.0 85.3 197.9M70.5 184.8Q76.8 169.1 82.2 155.4M-64.7 79.0Q3.0 82.4 67.8 96.4M51.4 191.1Q55.0 191.7 57.4 192.0M57.4 192.0Q60.6 193.8 70.5 184.8M44.7 202.0Q41.5 207.8 45.3 219.1M57.4 192.0Q58.6 205.1 65.8 212.6M65.8 212.6Q53.3 217.5 45.3 219.1M85.3 197.9Q86.1 206.5 83.8 213.8M65.8 212.6Q63.6 211.9 67.9 214.2M83.8 213.8Q80.1 210.8 67.9 214.2M116.5 208.5Q114.4 209.1 116.4 210.5M116.4 210.5Q109.8 216.5 99.1 221.3M99.1 221.3Q96.3 217.8 89.8 219.7M83.8 213.8Q89.2 218.2 89.8 219.7M284.8 149.6Q257.0 175.2 237.2 193.0M228.9 222.0Q233.7 216.3 227.1 214.4M237.2 193.0Q232.3 207.2 227.1 214.4M187.8 170.8Q188.9 178.2 197.4 195.6M237.2 193.0Q214.1 192.9 197.4 195.6M163.7 188.8Q162.2 192.1 163.6 192.3M163.6 192.3Q174.4 195.8 183.8 205.6M183.8 205.6Q191.4 206.9 196.1 198.8M197.4 195.6Q199.7 199.7 196.1 198.8M116.4 210.5Q121.2 217.0 125.8 218.6M135.3 194.4Q138.1 200.2 145.7 202.3M125.8 218.6Q132.5 220.0 139.6 215.7M139.6 215.7Q143.9 206.2 145.7 202.3M163.6 192.3Q161.7 199.2 159.2 200.1M145.7 202.3Q149.7 199.8 159.2 200.1M374.2 309.9Q311.6 296.1 252.8 289.7M247.9 255.1Q249.2 262.9 245.7 264.0M252.8 289.7Q251.2 277.5 245.7 264.0M219.8 242.0Q216.9 246.9 214.3 250.5M219.8 242.0Q219.9 243.5 223.6 240.5M214.3 250.5Q219.2 261.0 218.9 266.7M245.7 264.0Q230.9 265.6 218.9 266.7M117.8 244.8Q119.3 259.5 121.6 265.3M117.8 244.8Q112.1 239.6 105.5 243.9M121.6 265.3Q114.6 269.3 105.5 264.0M105.5 243.9Q107.2 256.1 105.5 264.0M-102.0 220.1Q-107.0 234.6 -112.1 259.0M-183.5 421.7Q-172.1 387.6 -151.6 359.8M-112.1 259.0Q-132.2 310.2 -151.6 359.8M33.4 236.7Q40.3 247.9 43.7 260.9M33.4 236.7Q36.3 235.8 34.3 236.3M34.3 236.3Q46.4 239.1 62.0 237.6M43.7 260.9Q46.5 255.8 53.9 264.3M63.6 238.7Q60.2 238.4 62.0 237.6M63.6 238.7Q55.9 248.1 63.6 259.4M53.9 264.3Q57.9 258.3 63.6 259.4M-46.1 224.5Q-10.1 229.4 33.4 236.7M45.3 219.1Q38.4 230.8 34.3 236.3M67.9 214.2Q65.9 221.9 62.0 237.6M89.8 219.7Q81.5 231.5 77.5 239.8M77.5 239.8Q75.3 240.2 63.6 238.7M192.1 223.0Q197.2 233.1 200.6 233.9M192.1 223.0Q197.2 217.4 202.4 213.3M211.1 217.9Q203.2 214.3 202.4 213.3M211.1 217.9Q213.9 221.7 205.9 232.5M205.9 232.5Q203.3 229.7 200.6 233.9M184.3 222.5Q188.5 224.9 192.1 223.0M184.3 222.5Q181.3 231.0 179.6 235.9M189.2 240.8Q186.2 239.5 179.6 235.9M189.2 240.8Q197.4 241.9 197.0 239.1M197.0 239.1Q198.0 234.8 200.6 233.9M180.2 216.0Q179.9 212.0 183.8 205.6M180.2 216.0Q181.4 226.0 184.3 222.5M196.1 198.8Q203.8 205.5 202.4 213.3M227.1 214.4Q218.3 220.4 211.1 217.9M219.8 242.0Q208.1 236.1 205.9 232.5M197.0 239.1Q202.5 243.0 203.2 251.4M203.2 251.4Q207.6 250.1 214.3 250.5M139.6 215.7Q145.8 218.4 148.7 220.5M159.2 200.1Q161.1 207.1 161.0 211.1M148.7 220.5Q155.0 218.5 161.0 211.1M180.2 216.0Q171.9 212.8 167.2 216.8M167.2 216.8Q159.6 209.9 161.0 211.1M117.8 244.8Q120.3 245.2 125.5 240.3M121.6 265.3Q122.8 264.5 123.1 266.7M123.1 266.7Q126.6 267.3 135.5 270.5M135.5 270.5Q136.6 259.0 139.8 250.4M139.8 250.4Q129.1 244.2 125.5 240.3M99.1 221.3Q104.5 226.9 104.7 243.4M125.8 218.6Q126.3 219.1 128.0 230.2M105.5 243.9Q105.5 241.8 104.7 243.4M128.0 230.2Q121.5 235.5 125.5 240.3M55.2 377.7Q62.3 377.4 60.3 376.6M60.3 376.6Q68.1 378.7 70.2 381.1M70.2 381.1Q59.6 422.6 59.9 461.5M374.2 309.9Q321.5 327.7 270.9 352.7M238.3 323.7Q246.1 308.6 249.9 292.0M238.3 323.7Q239.5 336.0 243.4 343.9M252.8 289.7Q249.1 292.4 249.9 292.0M270.9 352.7Q254.8 349.7 243.4 343.9M189.2 240.8Q185.8 252.1 188.0 256.0M203.2 251.4Q201.0 258.3 197.5 258.0M197.5 258.0Q190.7 255.8 188.0 256.0M179.6 235.9Q179.5 230.0 175.2 237.8M175.2 237.8Q172.8 248.3 175.7 253.6M175.7 253.6Q180.1 258.5 182.1 258.5M188.0 256.0Q184.3 258.7 182.1 258.5M218.9 266.7Q215.8 264.8 216.3 269.7M197.5 258.0Q195.3 262.6 201.6 270.1M216.3 269.7Q207.6 268.3 201.6 270.1M104.7 243.4Q87.6 241.8 88.2 250.1M105.5 264.0Q102.2 266.4 101.6 267.5M101.6 267.5Q95.6 263.5 92.6 264.0M92.6 264.0Q84.6 262.1 88.2 250.1M77.5 239.8Q78.4 248.7 84.8 249.2M63.6 259.4Q72.1 261.8 72.8 262.9M72.8 262.9Q77.4 256.4 84.8 249.2M84.8 249.2Q83.6 250.3 88.2 250.1M-112.1 259.0Q-52.2 269.3 7.7 277.0M43.7 260.9Q43.4 269.4 38.3 269.2M38.3 269.2Q22.0 275.7 7.7 277.0M55.2 377.7Q48.5 366.9 45.7 360.6M-183.5 421.7Q-75.2 386.6 36.2 356.4M45.7 360.6Q43.4 360.8 36.2 356.4M123.1 266.7Q118.7 275.3 108.0 284.1M140.4 277.7Q130.8 287.7 119.7 300.6M140.4 277.7Q135.1 275.2 135.5 270.5M119.7 300.6Q114.5 289.5 108.0 284.1M101.6 267.5Q103.7 270.1 102.8 281.5M102.8 281.5Q105.0 281.2 108.0 284.1M-151.6 359.8Q-61.1 334.4 32.1 314.4M7.7 277.0Q25.8 286.5 39.2 293.2M32.1 314.4Q38.6 304.1 39.2 293.2M38.3 269.2Q37.9 278.8 44.1 290.2M44.1 290.2Q38.6 292.8 39.2 293.2M169.9 236.6Q165.6 243.1 155.4 248.0M169.9 236.6Q165.8 231.7 164.8 228.7M164.8 228.7Q158.2 225.4 150.7 229.3M155.4 248.0Q153.1 247.5 150.2 246.0M150.2 246.0Q148.0 238.4 148.7 232.9M150.7 229.3Q150.1 229.0 148.7 232.9M175.2 237.8Q170.5 239.1 169.9 236.6M175.7 253.6Q168.8 259.5 160.8 257.2M160.8 257.2Q155.6 248.1 155.4 248.0M167.2 216.8Q168.3 225.1 164.8 228.7M148.7 220.5Q147.8 221.1 150.7 229.3M139.8 250.4Q144.8 243.8 150.2 246.0M128.0 230.2Q137.4 226.1 148.7 232.9M140.4 277.7Q142.5 272.9 145.9 278.8M160.8 257.2Q159.7 263.9 160.1 263.2M160.1 263.2Q152.2 272.9 145.9 278.8M60.3 376.6Q62.2 367.7 67.5 363.5M70.2 381.1Q69.3 380.9 76.1 375.6M76.1 375.6Q71.6 373.5 67.5 363.5M45.7 360.6Q53.1 359.2 66.7 359.1M67.5 363.5Q67.2 364.7 66.7 359.1M205.0 323.0Q202.6 320.3 191.4 321.1M205.0 323.0Q205.7 329.5 212.3 344.9M212.3 344.9Q206.4 345.5 194.1 346.7M194.1 346.7Q188.2 338.4 185.8 330.6M191.4 321.1Q182.1 321.4 185.8 330.6M238.3 323.7Q229.2 319.8 215.6 314.1M215.6 314.1Q210.5 315.9 205.0 323.0M243.4 343.9Q236.6 352.5 227.2 352.4M227.2 352.4Q216.5 348.5 212.3 344.9M221.5 365.8Q202.0 368.4 185.0 369.5M221.5 365.8Q224.6 420.3 227.8 475.8M185.0 369.5Q204.1 422.5 227.8 475.8M270.9 352.7Q251.1 431.3 234.7 510.8M227.2 352.4Q224.1 360.6 221.5 365.8M234.7 510.8Q229.7 492.4 227.8 475.8M204.1 291.0Q213.9 287.5 218.6 285.3M204.1 291.0Q204.3 298.4 206.0 301.7M214.3 308.9Q210.7 305.4 206.0 301.7M214.3 308.9Q221.3 296.8 227.4 291.2M227.4 291.2Q224.0 291.4 218.6 285.3M216.3 269.7Q218.8 273.5 218.6 285.3M197.5 274.9Q200.2 270.1 201.6 270.1M197.5 274.9Q199.2 282.6 202.2 289.9M202.2 289.9Q200.0 293.7 204.1 291.0M185.1 295.1Q183.7 302.9 182.8 306.9M185.1 295.1Q195.1 295.8 202.2 289.9M187.5 311.4Q188.0 305.4 182.8 306.9M187.5 311.4Q196.8 301.1 206.0 301.7M215.6 314.1Q213.7 313.2 214.3 308.9M187.5 311.4Q191.6 319.4 191.4 321.1M249.9 292.0Q237.6 292.3 227.4 291.2M157.3 301.3Q163.9 308.1 170.2 308.7M157.3 301.3Q155.4 305.9 145.8 312.4M170.2 308.7Q178.0 317.4 167.1 326.4M145.8 312.4Q146.9 319.6 150.1 323.9M150.1 323.9Q155.3 327.4 156.8 328.3M167.1 326.4Q160.2 330.9 156.8 328.3M128.1 311.1Q137.0 315.6 145.8 312.4M128.1 311.1Q127.3 302.8 119.7 300.9M119.7 300.9Q117.2 298.2 119.7 300.6M145.9 278.8Q151.6 284.1 156.3 289.2M156.3 289.2Q157.4 293.2 157.3 301.3M174.8 332.8Q181.3 335.2 185.8 330.6M174.8 332.8Q167.5 329.0 167.1 326.4M182.8 306.9Q177.1 307.4 170.2 308.7M128.1 311.1Q125.7 325.0 124.5 330.1M124.5 330.1Q127.9 332.8 125.0 331.4M125.0 331.4Q130.2 339.0 139.3 335.5M139.3 335.5Q145.6 328.2 150.1 323.9M155.5 342.8Q149.2 343.1 144.7 346.0M155.5 342.8Q161.4 336.0 156.8 328.3M144.7 346.0Q142.1 335.3 139.3 335.5M36.2 356.4Q45.0 342.9 50.1 334.8M32.1 314.4Q36.3 319.7 46.2 322.1M46.2 322.1Q46.0 330.5 50.1 334.8M92.6 264.0Q88.8 265.3 79.4 275.6M102.8 281.5Q93.2 280.3 84.3 287.2M84.3 287.2Q81.7 283.6 79.4 275.6M53.9 264.3Q52.4 276.2 57.9 279.2M72.8 262.9Q74.3 265.5 77.4 274.1M57.9 279.2Q67.3 278.6 77.4 274.1M44.1 290.2Q45.3 289.9 53.5 289.7M57.9 279.2Q52.2 287.4 53.5 289.7M79.4 275.6Q78.8 273.7 77.4 274.1M180.6 267.1Q187.1 267.9 188.6 275.4M180.6 267.1Q175.8 273.4 173.1 270.5M173.1 270.5Q171.0 280.7 169.6 284.2M188.6 275.4Q185.3 279.8 181.2 287.9M181.2 287.9Q174.7 286.2 169.6 284.2M182.1 258.5Q180.3 260.7 180.6 267.1M197.5 274.9Q191.1 271.4 188.6 275.4M160.1 263.2Q166.8 267.8 173.1 270.5M156.3 289.2Q164.7 282.2 169.6 284.2M185.1 295.1Q185.1 291.4 181.2 287.9M174.8 332.8Q169.1 338.5 170.7 343.8M194.1 346.7Q191.4 354.2 184.7 359.2M170.7 343.8Q179.5 353.8 184.7 359.2M155.5 342.8Q160.9 344.6 161.9 346.7M170.7 343.8Q161.1 343.3 161.9 346.7M185.0 369.5Q185.1 367.6 183.5 368.2M184.7 359.2Q185.8 365.6 183.5 368.2M140.4 355.1Q142.6 355.2 144.7 346.0M140.4 355.1Q131.5 358.8 127.5 358.0M125.0 331.4Q121.3 339.6 120.0 351.9M127.5 358.0Q125.2 353.3 120.0 351.9M59.9 461.5Q81.2 418.5 98.3 381.4M123.6 385.9Q111.0 381.5 98.3 381.4M76.1 375.6Q85.2 374.8 95.6 375.8M98.3 381.4Q94.1 380.2 95.6 375.8M46.2 322.1Q52.0 313.0 64.2 308.9M53.5 289.7Q61.6 297.4 65.3 300.2M64.2 308.9Q66.4 305.4 65.3 300.2M84.3 287.2Q89.1 286.7 82.6 292.3M65.3 300.2Q72.1 293.7 82.6 292.3M119.7 300.9Q110.7 307.0 97.4 311.8M82.6 292.3Q92.8 304.4 97.4 311.8M124.5 330.1Q114.3 327.5 105.3 329.1M105.3 329.1Q98.5 327.0 96.6 313.9M97.4 311.8Q99.4 314.3 96.6 313.9M140.4 355.1Q145.8 360.1 153.0 366.3M161.9 346.7Q160.3 355.3 160.5 365.6M153.0 366.3Q150.7 365.7 160.5 365.6M127.5 358.0Q125.8 371.5 126.0 383.6M126.0 383.6Q134.8 385.0 142.7 382.3M153.0 366.3Q147.8 376.3 142.7 382.3M64.2 308.9Q63.9 312.7 76.5 322.0M96.6 313.9Q96.0 314.1 86.9 320.4M76.5 322.0Q81.0 322.9 86.9 320.4M50.1 334.8Q51.7 337.4 57.7 336.4M57.7 336.4Q61.9 328.1 73.2 329.3M76.5 322.0Q71.5 321.5 73.2 329.3M175.5 370.2Q170.7 368.4 166.1 368.3M175.5 370.2Q170.1 385.8 163.1 406.6M166.1 368.3Q166.6 380.2 154.5 392.6M163.1 406.6Q158.7 400.7 154.5 392.6M183.5 368.2Q178.9 367.6 175.5 370.2M160.5 365.6Q163.5 369.2 166.1 368.3M142.7 382.3Q150.2 389.8 154.5 392.6M123.6 385.9Q123.4 382.8 126.0 383.6M103.0 335.2Q102.9 338.2 92.8 342.6M103.0 335.2Q111.3 345.5 117.2 352.1M92.8 342.6Q102.9 346.5 106.0 357.1M117.2 352.1Q110.4 353.5 106.0 357.1M105.3 329.1Q103.4 326.1 103.0 335.2M86.9 320.4Q88.6 324.2 90.9 342.5M90.9 342.5Q92.6 343.8 92.8 342.6M120.0 351.9Q120.1 349.0 117.2 352.1M95.6 375.8Q98.0 372.4 95.7 373.4M95.7 373.4Q97.7 362.8 106.0 357.1M79.4 341.6Q81.5 343.2 87.9 343.9M79.4 341.6Q75.9 340.6 68.3 350.1M87.9 343.9Q84.8 353.6 84.5 358.8M84.5 358.8Q76.8 359.4 68.0 357.5M68.3 350.1Q64.4 356.2 68.0 357.5M73.2 329.3Q72.4 335.9 79.4 341.6M90.9 342.5Q92.8 347.9 87.9 343.9M57.7 336.4Q64.3 345.5 68.3 350.1M95.7 373.4Q88.6 364.9 84.5 358.8M66.7 359.1Q70.2 358.3 68.0 357.5" stroke="#ff2a36" stroke-width="0.95" fill="none" stroke-linecap="round" opacity="1.0"/><g filter="url(#blur2)"><circle cx="69.8" cy="208.2" r="0.76" fill="#ff2a3a" opacity="0.8"/><circle cx="70.8" cy="209.0" r="0.93" fill="#ff2a3a" opacity="0.8"/><circle cx="72.1" cy="210.2" r="0.60" fill="#ff2a3a" opacity="0.8"/><circle cx="68.5" cy="209.2" r="0.88" fill="#ff2a3a" opacity="0.8"/><circle cx="71.8" cy="209.2" r="1.07" fill="#ff2a3a" opacity="0.8"/><circle cx="68.8" cy="209.5" r="0.76" fill="#ff2a3a" opacity="0.8"/><circle cx="102.7" cy="245.9" r="1.04" fill="#ff2a3a" opacity="0.8"/><circle cx="103.6" cy="244.8" r="0.68" fill="#ff2a3a" opacity="0.8"/><circle cx="102.9" cy="246.5" r="0.79" fill="#ff2a3a" opacity="0.8"/><circle cx="102.3" cy="246.5" r="1.03" fill="#ff2a3a" opacity="0.8"/><circle cx="103.9" cy="246.7" r="0.76" fill="#ff2a3a" opacity="0.8"/><circle cx="101.8" cy="248.7" r="0.90" fill="#ff2a3a" opacity="0.8"/><circle cx="144.8" cy="345.5" r="0.86" fill="#ff2a3a" opacity="0.8"/><circle cx="146.2" cy="344.5" r="0.78" fill="#ff2a3a" opacity="0.8"/><circle cx="144.7" cy="344.0" r="0.59" fill="#ff2a3a" opacity="0.8"/><circle cx="145.1" cy="346.2" r="0.82" fill="#ff2a3a" opacity="0.8"/><circle cx="145.5" cy="345.8" r="0.54" fill="#ff2a3a" opacity="0.8"/><circle cx="145.0" cy="344.1" r="0.62" fill="#ff2a3a" opacity="0.8"/><circle cx="95.1" cy="295.5" r="0.81" fill="#ff2a3a" opacity="0.8"/><circle cx="95.0" cy="293.9" r="0.90" fill="#ff2a3a" opacity="0.8"/><circle cx="94.5" cy="295.8" r="0.73" fill="#ff2a3a" opacity="0.8"/><circle cx="95.9" cy="295.3" r="1.07" fill="#ff2a3a" opacity="0.8"/></g><circle cx="79.9" cy="284.1" r="0.87" fill="#66f050" opacity="0.95"/><circle cx="144.9" cy="296.3" r="1.01" fill="#66f050" opacity="0.95"/><circle cx="145.2" cy="297.3" r="0.61" fill="#66f050" opacity="0.95"/>
<line x1="183" y1="348.5" x2="203" y2="348.5" stroke="#ffffff" stroke-width="1"/>
</g>
<clipPath id="clip236"><rect x="236" y="195" width="165" height="165"/></clipPath>
<g clip-path="url(#clip236)"><rect x="236" y="195" width="165" height="165" fill="#040414"/>
<g filter="url(#blur)"><polygon points="340.6,349.6 355.0,350.3 358.4,355.2 357.0,364.5 345.9,369.0 339.8,368.6 337.2,355.4" fill="#1a20a0" opacity="0.19"/><polygon points="389.4,226.2 378.7,224.2 378.6,212.8 385.0,212.3 393.9,222.1" fill="#1a20a0" opacity="0.31"/><polygon points="278.2,345.2 274.6,350.4 280.6,367.9 288.4,361.1 289.5,349.6 286.8,345.6" fill="#1a20a0" opacity="0.17"/><polygon points="158.3,467.2 68.8,485.3 139.5,360.0 194.8,360.3" fill="#1a20a0" opacity="0.30"/><polygon points="387.6,268.1 384.8,271.8 366.9,274.9 363.0,268.1 362.8,258.6 368.9,254.0" fill="#1a20a0" opacity="0.35"/><polygon points="273.9,239.1 267.7,233.9 273.9,221.0 274.3,221.1 279.1,232.2" fill="#1a20a0" opacity="0.33"/><polygon points="268.9,259.6 272.5,267.9 265.8,279.9 250.6,276.6 248.4,272.6 250.1,261.5" fill="#1a20a0" opacity="0.37"/><polygon points="321.6,292.2 320.4,281.0 322.6,276.5 326.9,276.4 332.0,282.1 332.9,287.4 328.4,292.5 325.4,294.1" fill="#1a20a0" opacity="0.15"/><polygon points="341.9,388.0 347.3,388.3 368.8,443.9 378.5,503.9 339.0,486.0 338.1,391.7" fill="#1a20a0" opacity="0.20"/><polygon points="235.2,214.5 233.2,204.0 236.3,194.5 240.8,190.1 256.4,191.2 258.5,207.1 245.6,216.6" fill="#1a20a0" opacity="0.39"/><polygon points="347.4,155.2 334.4,151.9 324.9,135.6 363.0,120.2 358.2,151.6" fill="#1a20a0" opacity="0.21"/><polygon points="212.6,278.2 197.4,269.1 179.1,295.0 193.9,296.5 212.1,283.9" fill="#1a20a0" opacity="0.31"/><polygon points="310.9,364.3 315.7,366.3 317.0,370.9 310.5,374.9 307.1,367.9" fill="#1a20a0" opacity="0.24"/><polygon points="359.9,279.5 359.6,282.7 353.5,289.0 345.0,285.9 344.1,280.7 357.2,274.7" fill="#1a20a0" opacity="0.31"/><polygon points="316.2,237.4 334.6,238.1 336.9,231.9 329.4,220.2 319.3,220.3" fill="#1a20a0" opacity="0.24"/><polygon points="217.7,224.3 198.0,232.0 185.1,222.5 179.5,208.4 219.3,210.2 221.1,219.6" fill="#1a20a0" opacity="0.28"/><polygon points="363.7,207.3 364.7,208.9 359.0,221.3 354.4,220.5 354.0,217.1 357.1,209.4" fill="#1a20a0" opacity="0.20"/><polygon points="309.9,165.3 316.5,155.7 307.3,139.8 281.8,119.4 283.4,168.5 290.5,171.3" fill="#1a20a0" opacity="0.26"/><polygon points="400.9,216.6 394.2,209.1 397.1,204.4 408.9,204.2 413.2,206.3 413.2,213.8" fill="#1a20a0" opacity="0.34"/><polygon points="262.5,357.4 268.0,372.2 273.5,378.4 276.9,371.7 271.0,354.5" fill="#1a20a0" opacity="0.22"/><polygon points="322.3,337.9 319.9,345.6 326.2,350.7 331.2,350.1 333.4,346.3 330.4,340.4" fill="#1a20a0" opacity="0.34"/><polygon points="345.9,329.6 354.6,335.6 352.3,343.4 342.6,343.0 339.4,336.9" fill="#1a20a0" opacity="0.17"/><polygon points="239.4,277.4 225.6,278.0 225.1,278.3 224.7,282.9 230.0,289.5 237.2,289.6 240.9,280.1" fill="#1a20a0" opacity="0.16"/><polygon points="323.4,355.5 318.0,362.5 310.7,359.3 310.0,350.6 313.6,347.6" fill="#1a20a0" opacity="0.21"/><polygon points="276.9,308.6 290.8,310.9 294.4,300.5 290.8,294.0 276.7,296.7 274.8,304.2" fill="#1a20a0" opacity="0.36"/><polygon points="223.2,231.6 200.7,240.4 201.3,242.3 223.9,252.5 230.3,248.5" fill="#1a20a0" opacity="0.19"/><polygon points="287.9,203.5 282.6,188.8 275.1,185.8 267.1,191.2 269.1,206.1 275.0,210.5 275.4,210.5 283.3,208.4" fill="#1a20a0" opacity="0.37"/><polygon points="397.6,255.7 388.9,247.6 375.3,252.1 375.1,252.5 390.0,263.8 396.6,261.1" fill="#1a20a0" opacity="0.32"/><polygon points="337.2,299.3 346.6,307.7 351.3,303.7 349.7,297.4 341.5,294.4" fill="#1a20a0" opacity="0.33"/><polygon points="365.0,200.0 351.6,181.5 345.7,198.8 356.0,203.9 364.9,201.1" fill="#1a20a0" opacity="0.35"/><polygon points="300.8,230.2 308.2,212.9 308.4,212.9 315.0,219.7 312.1,235.7 307.7,238.1" fill="#1a20a0" opacity="0.24"/><polygon points="306.8,202.2 306.9,202.2 312.7,194.3 311.6,183.5 295.1,188.6 299.3,200.3" fill="#1a20a0" opacity="0.27"/><polygon points="365.1,247.9 363.9,234.0 358.1,229.9 352.0,228.8 343.0,234.3 340.8,240.4 344.2,247.7 358.9,252.8 364.9,248.3" fill="#1a20a0" opacity="0.19"/><polygon points="406.5,316.1 408.4,323.5 398.9,327.6 391.9,325.9 396.7,315.4" fill="#1a20a0" opacity="0.28"/><polygon points="249.9,351.9 245.4,358.2 234.2,360.5 229.6,346.4 246.5,343.6" fill="#1a20a0" opacity="0.37"/><polygon points="343.0,178.7 342.1,170.7 330.9,167.9 325.1,176.4 326.3,187.7 335.4,193.2 338.8,190.9" fill="#1a20a0" opacity="0.19"/><polygon points="221.6,469.2 267.8,470.0 270.5,391.1 264.3,384.2 251.0,378.0" fill="#1a20a0" opacity="0.31"/><polygon points="319.0,215.3 328.6,215.2 333.2,205.2 333.2,204.7 320.6,197.0 312.3,208.4" fill="#1a20a0" opacity="0.40"/><polygon points="410.6,305.7 408.7,310.6 395.0,309.6 390.0,297.3 390.8,296.5 402.1,294.8" fill="#1a20a0" opacity="0.36"/><polygon points="310.1,245.0 314.7,242.5 332.7,243.1 336.0,250.5 325.5,265.5 319.6,265.6 308.4,256.8 307.8,251.4" fill="#1a20a0" opacity="0.24"/><polygon points="297.5,228.1 304.8,211.2 294.4,208.5 289.3,214.0 295.1,227.2" fill="#1a20a0" opacity="0.19"/><polygon points="178.5,462.9 174.1,463.5 212.3,351.5 213.7,350.7 220.9,355.8 225.5,370.0" fill="#1a20a0" opacity="0.34"/><polygon points="297.6,288.9 297.7,288.8 313.1,280.7 314.8,295.8 302.0,297.0" fill="#1a20a0" opacity="0.26"/><polygon points="276.2,317.9 272.0,327.2 278.7,336.5 286.3,336.8 293.2,324.2 290.6,320.4" fill="#1a20a0" opacity="0.25"/><polygon points="185.0,253.6 184.6,252.2 174.2,244.5 156.0,275.2 161.1,287.3 171.4,283.5 185.5,263.4" fill="#1a20a0" opacity="0.36"/><polygon points="172.9,197.5 216.5,199.4 219.6,190.0 149.0,163.5" fill="#1a20a0" opacity="0.24"/><polygon points="428.6,302.9 436.4,304.0 441.5,318.5 426.9,326.1 417.6,321.3 415.4,312.6 417.0,308.6" fill="#1a20a0" opacity="0.33"/><polygon points="312.0,275.8 299.0,282.6 296.9,270.9 305.3,263.4 314.5,270.6" fill="#1a20a0" opacity="0.36"/><polygon points="404.0,251.9 426.0,233.0 418.1,220.8 399.1,225.1 393.8,229.8 392.6,241.4" fill="#1a20a0" opacity="0.24"/><polygon points="338.1,322.2 326.6,318.3 321.7,325.9 323.4,328.5 331.7,331.1 338.3,323.8" fill="#1a20a0" opacity="0.34"/><polygon points="273.7,291.2 269.8,282.2 276.9,269.6 290.5,271.7 293.4,287.3 293.3,287.5" fill="#1a20a0" opacity="0.18"/><polygon points="379.5,355.0 363.8,356.4 362.5,365.0 369.5,374.2 385.8,361.3" fill="#1a20a0" opacity="0.35"/><polygon points="179.8,471.5 230.3,371.7 242.4,369.3 244.9,374.5 214.0,470.7" fill="#1a20a0" opacity="0.17"/><polygon points="204.0,319.0 205.5,321.7 203.9,329.9 203.0,330.5 162.7,330.3 167.9,314.0 178.5,310.0 190.4,311.1" fill="#1a20a0" opacity="0.40"/><polygon points="371.7,201.5 379.3,194.1 384.1,201.1 381.1,205.9 376.1,206.4 372.5,203.7 371.6,202.2" fill="#1a20a0" opacity="0.19"/><polygon points="312.0,330.1 300.9,327.1 293.3,341.2 295.9,345.2 307.7,346.2 310.8,343.6 314.1,333.4" fill="#1a20a0" opacity="0.26"/><polygon points="386.1,276.7 386.7,293.3 386.0,294.1 380.8,295.1 368.4,284.1 368.7,279.7" fill="#1a20a0" opacity="0.19"/><polygon points="374.8,225.1 374.6,211.8 369.0,207.8 361.0,225.4 367.3,229.9" fill="#1a20a0" opacity="0.20"/><polygon points="257.3,238.2 263.4,239.3 271.2,245.7 271.5,247.0 269.0,255.0 251.1,256.8 248.6,252.7" fill="#1a20a0" opacity="0.16"/><polygon points="230.8,229.7 237.4,245.4 243.2,247.8 250.7,235.2 244.3,226.8 234.4,224.7" fill="#1a20a0" opacity="0.15"/><polygon points="417.1,290.3 408.3,292.1 407.0,293.9 413.2,302.0 423.5,297.0" fill="#1a20a0" opacity="0.22"/><polygon points="292.1,228.9 286.2,215.2 277.0,217.7 283.0,231.3" fill="#1a20a0" opacity="0.26"/><polygon points="414.5,256.9 428.5,244.9 447.4,254.6 442.7,260.0 422.6,265.9 415.0,262.6 413.7,261.3" fill="#1a20a0" opacity="0.40"/><polygon points="421.9,286.7 421.8,275.2 453.1,266.1 439.5,296.8 430.4,295.6" fill="#1a20a0" opacity="0.38"/><polygon points="332.1,359.1 334.0,368.7 331.0,371.7 324.1,369.7 322.7,364.8 326.6,359.7" fill="#1a20a0" opacity="0.24"/><polygon points="365.1,289.7 358.5,296.4 360.2,303.3 367.7,306.3 374.5,298.0" fill="#1a20a0" opacity="0.17"/><polygon points="304.9,353.6 296.3,352.9 295.6,361.1 301.7,362.6 305.3,359.1" fill="#1a20a0" opacity="0.27"/><polygon points="288.5,383.0 282.6,388.2 280.0,393.5 278.1,448.4 279.7,448.8 298.5,391.7 295.0,384.6" fill="#1a20a0" opacity="0.19"/><polygon points="243.1,255.6 245.7,259.8 243.9,270.9 223.7,271.8 229.1,257.2 236.2,252.7" fill="#1a20a0" opacity="0.27"/><polygon points="318.1,395.0 311.3,399.2 291.7,458.5 325.4,470.0 324.7,396.8" fill="#1a20a0" opacity="0.31"/><polygon points="270.0,342.1 267.0,346.4 259.8,348.9 255.9,348.0 253.3,341.5 255.4,335.8 263.7,333.3" fill="#1a20a0" opacity="0.28"/><polygon points="351.4,316.1 349.7,319.7 349.8,321.4 359.3,328.0 367.3,322.9 364.5,314.8 356.7,311.6" fill="#1a20a0" opacity="0.27"/><polygon points="366.7,381.7 371.4,431.8 350.1,376.8 360.0,372.8" fill="#1a20a0" opacity="0.28"/><polygon points="298.2,253.8 298.7,258.1 290.2,265.7 279.9,264.2 277.0,257.6 279.1,251.0" fill="#1a20a0" opacity="0.35"/><polygon points="266.2,102.4 187.9,-14.6 240.5,172.1 258.4,173.4 268.3,166.7" fill="#1a20a0" opacity="0.19"/><polygon points="253.7,356.1 250.5,360.7 252.2,364.2 261.6,368.5 257.3,357.0" fill="#1a20a0" opacity="0.17"/><polygon points="386.5,171.2 409.6,198.1 390.8,198.4 383.2,187.5" fill="#1a20a0" opacity="0.38"/><polygon points="353.9,260.1 342.7,256.2 334.8,267.4 340.2,273.4 354.0,267.0" fill="#1a20a0" opacity="0.39"/><polygon points="328.7,304.6 328.3,311.2 340.3,315.4 342.0,311.9 331.9,302.9" fill="#1a20a0" opacity="0.27"/><polygon points="300.3,314.6 303.0,318.7 313.6,321.5 319.7,312.1 320.2,304.3 315.7,302.0 304.3,303.0" fill="#1a20a0" opacity="0.38"/><polygon points="350.1,206.2 347.4,213.1 340.0,205.4 340.0,205.1 343.3,202.8" fill="#1a20a0" opacity="0.22"/><polygon points="217.9,270.8 222.7,257.8 200.2,247.7 200.9,261.3 217.3,271.1" fill="#1a20a0" opacity="0.16"/><polygon points="372.3,331.7 364.6,336.7 362.2,345.0 364.6,348.6 376.9,347.5 378.0,334.0" fill="#1a20a0" opacity="0.26"/><polygon points="367.8,195.7 379.1,184.7 382.3,169.1 381.8,166.2 366.2,159.9 352.4,164.5 353.8,176.3" fill="#1a20a0" opacity="0.34"/><polygon points="401.1,333.0 407.1,349.7 421.0,346.9 424.3,333.1 413.7,327.5" fill="#1a20a0" opacity="0.34"/><polygon points="400.9,268.0 402.7,269.9 403.0,287.3 401.3,289.6 391.1,291.1 390.6,274.8 393.1,271.3" fill="#1a20a0" opacity="0.36"/><polygon points="393.5,168.9 413.8,192.5 419.7,195.4 462.5,135.1 393.1,166.3" fill="#1a20a0" opacity="0.33"/><polygon points="252.2,223.2 263.4,214.9 268.9,218.9 262.8,231.6 258.0,230.8" fill="#1a20a0" opacity="0.18"/><polygon points="266.1,302.4 249.6,301.3 245.4,295.1 250.6,281.7 265.1,284.9 268.6,293.0" fill="#1a20a0" opacity="0.18"/><polygon points="217.9,286.4 195.2,302.1 216.3,314.2 225.9,296.3" fill="#1a20a0" opacity="0.30"/><polygon points="266.7,314.1 262.6,323.1 254.0,325.7 247.0,318.6 251.2,308.7 264.5,309.6" fill="#1a20a0" opacity="0.38"/><polygon points="415.9,283.8 415.9,275.9 407.8,272.5 408.0,285.4" fill="#1a20a0" opacity="0.27"/><polygon points="385.4,304.7 381.8,305.4 375.6,313.0 378.0,320.2 383.2,322.3 384.4,322.0 388.6,312.6" fill="#1a20a0" opacity="0.39"/><polygon points="347.8,219.5 337.6,209.0 333.3,218.3 340.0,228.7 348.3,223.6" fill="#1a20a0" opacity="0.35"/><polygon points="394.4,394.6 397.6,395.7 450.9,531.5 393.2,495.9 385.2,446.6 381.3,405.0" fill="#1a20a0" opacity="0.35"/><polygon points="296.2,234.2 303.1,242.2 300.9,248.4 278.6,245.2 278.3,243.9 284.6,235.5 293.7,233.2" fill="#1a20a0" opacity="0.31"/><polygon points="229.1,297.8 219.4,316.0 221.8,320.2 239.0,318.0 244.6,304.7 240.1,298.0" fill="#1a20a0" opacity="0.25"/><polygon points="385.8,240.6 386.7,231.5 376.9,229.7 370.9,233.5 371.9,245.2" fill="#1a20a0" opacity="0.32"/><polygon points="387.2,332.2 385.5,332.7 383.9,351.0 390.6,357.7 394.9,359.1 402.5,351.3 396.5,334.6" fill="#1a20a0" opacity="0.23"/><polygon points="244.4,338.8 228.0,341.5 221.1,336.6 223.4,325.2 238.6,323.3 247.0,331.8" fill="#1a20a0" opacity="0.19"/></g><path d="M42.5 510.0Q89.7 423.4 139.2 338.6M138.9 284.3Q140.5 303.7 148.9 308.0M139.2 338.6Q143.5 328.0 148.9 308.0M274.3 485.2Q289.7 433.1 309.0 380.1M274.3 485.2Q299.2 494.2 334.0 505.6M334.0 505.6Q336.4 437.0 332.8 376.0M309.0 380.1Q318.3 377.4 321.1 372.6M332.8 376.0Q323.8 372.8 321.1 372.6M334.0 505.6Q359.8 517.7 388.3 530.1M388.3 530.1Q380.1 486.4 375.0 447.7M375.0 447.7Q359.4 406.4 345.5 371.3M345.5 371.3Q337.9 371.0 338.0 370.9M332.8 376.0Q338.0 368.9 338.0 370.9M359.2 365.8Q363.9 370.1 368.5 378.2M359.2 365.8Q357.2 362.7 360.9 354.4M360.9 354.4Q369.9 357.9 381.9 352.5M368.5 378.2Q377.1 370.7 390.3 360.9M390.3 360.9Q385.4 354.4 381.9 352.5M375.0 447.7Q373.6 412.5 368.5 378.2M345.5 371.3Q354.2 368.4 359.2 365.8M484.7 589.5Q436.9 475.8 395.7 362.7M484.7 589.5Q436.6 562.7 388.3 530.1M395.7 362.7Q390.3 361.7 390.3 360.9M42.5 510.0Q98.5 499.5 164.9 485.2M139.2 338.6Q173.8 333.4 214.8 339.0M214.8 339.0Q189.7 415.4 164.9 485.2M395.7 362.7Q396.0 354.5 405.4 352.8M423.0 349.3Q412.0 347.7 405.4 352.8M292.1 348.2Q301.6 346.5 308.9 349.6M292.1 348.2Q289.2 357.9 290.6 364.2M302.6 367.1Q303.9 365.0 309.7 360.3M302.6 367.1Q293.7 362.0 290.6 364.2M309.7 360.3Q303.8 360.5 308.9 349.6M309.0 380.1Q304.8 374.3 302.6 367.1M321.1 372.6Q319.8 368.9 318.6 364.2M318.6 364.2Q314.3 367.9 309.7 360.3M274.3 485.2Q269.7 480.2 271.4 484.5M271.4 484.5Q270.1 429.9 274.8 383.4M279.7 373.8Q279.5 381.0 274.8 383.4M279.7 373.8Q282.2 364.8 290.6 364.2M318.6 364.2Q320.9 364.0 325.3 355.6M308.9 349.6Q302.6 349.3 313.3 345.9M313.3 345.9Q316.1 353.9 325.3 355.6M338.0 370.9Q333.1 361.9 334.7 354.5M325.3 355.6Q325.5 352.1 334.7 354.5M360.9 354.4Q363.0 353.8 356.7 348.2M356.7 348.2Q346.7 345.2 339.0 347.3M334.7 354.5Q331.1 349.8 339.0 347.3M423.0 349.3Q425.0 340.3 427.2 331.8M448.3 320.8Q437.4 322.9 427.2 331.8M249.8 366.5Q248.1 363.2 246.7 360.1M249.8 366.5Q234.9 430.6 212.2 483.5M246.7 360.1Q239.0 359.3 232.0 363.1M232.0 363.1Q201.1 422.0 170.6 484.5M212.2 483.5Q189.2 483.8 170.6 484.5M271.4 484.5Q238.7 485.8 212.2 483.5M274.8 383.4Q270.6 379.7 267.0 374.5M267.0 374.5Q257.8 368.3 249.8 366.5M214.8 339.0Q212.9 337.8 216.6 338.0M216.6 338.0Q219.6 342.0 226.0 344.6M164.9 485.2Q167.7 480.8 170.6 484.5M226.0 344.6Q229.2 349.8 232.0 363.1M381.9 352.5Q381.1 340.0 383.9 329.3M356.7 348.2Q352.6 341.3 360.9 333.9M360.9 333.9Q368.0 329.1 374.1 325.4M383.9 329.3Q377.7 326.2 374.1 325.4M233.1 191.1Q227.9 197.1 228.6 204.7M233.1 191.1Q180.3 172.1 130.8 152.6M228.6 204.7Q193.4 204.0 165.4 201.9M130.8 152.6Q148.6 176.8 165.4 201.9M174.4 -47.0Q205.6 70.5 239.5 184.6M239.5 184.6Q231.3 189.2 233.1 191.1M138.9 284.3Q157.4 255.1 174.4 224.3M174.4 224.3Q171.0 211.1 165.4 201.9M168.9 300.4Q158.1 306.1 148.9 308.0M168.9 300.4Q181.3 302.2 191.2 302.7M216.6 338.0Q213.6 331.8 219.6 322.5M219.6 322.5Q221.7 322.9 216.8 317.3M191.2 302.7Q204.7 305.3 216.8 317.3M279.7 373.8Q278.3 361.1 271.3 349.2M267.0 374.5Q255.5 365.1 259.2 353.4M271.3 349.2Q260.8 347.4 259.2 353.4M226.0 344.6Q235.2 346.6 248.2 340.9M219.6 322.5Q228.9 322.0 240.3 319.8M240.3 319.8Q251.3 330.4 251.8 331.4M251.8 331.4Q249.7 335.4 248.2 340.9M246.7 360.1Q245.9 353.9 252.6 351.9M248.2 340.9Q251.7 347.6 252.6 351.9M259.2 353.4Q256.2 355.6 252.6 351.9M271.3 349.2Q271.5 345.4 276.3 342.0M251.8 331.4Q261.0 331.0 265.8 327.2M265.8 327.2Q274.2 335.8 276.3 342.0M292.1 348.2Q289.3 346.4 288.3 342.5M288.3 342.5Q279.3 337.3 276.3 342.0M323.9 312.7Q321.2 319.5 314.9 326.6M323.9 312.7Q335.3 311.3 344.9 320.0M333.2 336.2Q324.5 332.0 318.0 331.4M333.2 336.2Q336.5 322.8 345.1 322.9M318.0 331.4Q315.4 331.7 314.9 326.6M345.1 322.9Q346.1 319.6 344.9 320.0M313.3 345.9Q315.6 340.9 318.0 331.4M339.0 347.3Q327.8 341.4 333.2 336.2M360.9 333.9Q354.6 330.4 345.1 322.9M299.2 322.5Q298.8 335.9 288.3 342.5M299.2 322.5Q308.0 325.5 314.9 326.6M405.4 352.8Q404.0 340.6 397.8 331.7M427.2 331.8Q420.4 331.0 413.8 324.7M413.8 324.7Q411.7 327.7 397.8 331.7M383.9 329.3Q384.8 329.6 386.1 328.7M397.8 331.7Q396.0 330.1 386.1 328.7M369.6 311.8Q376.3 315.7 374.1 325.4M369.6 311.8Q362.5 308.6 356.5 306.5M344.9 320.0Q348.6 320.1 347.7 313.9M356.5 306.5Q347.6 307.5 347.7 313.9M174.4 -47.0Q223.9 23.6 271.5 98.2M239.5 184.6Q246.1 188.5 261.8 186.2M261.8 186.2Q269.4 183.6 274.1 178.0M274.1 178.0Q271.4 141.2 271.5 98.2M373.2 107.1Q342.3 122.5 312.9 131.4M271.5 98.2Q289.5 112.2 312.9 131.4M168.9 300.4Q183.3 278.7 196.5 261.2M174.4 224.3Q186.6 232.6 194.8 239.4M194.8 239.4Q192.3 240.9 195.5 242.0M196.5 261.2Q194.9 254.3 195.5 242.0M240.3 319.8Q241.8 310.5 247.1 303.8M247.1 303.8Q248.0 306.5 241.6 295.8M216.8 317.3Q228.6 306.6 228.5 295.6M241.6 295.8Q235.7 300.3 228.5 295.6M191.2 302.7Q204.6 290.2 218.8 283.5M228.5 295.6Q224.0 290.9 218.8 283.5M196.5 261.2Q205.5 263.1 219.6 275.0M218.8 283.5Q214.9 281.3 219.6 275.0M227.1 256.2Q221.5 264.9 220.4 274.4M227.1 256.2Q211.9 251.0 195.5 242.0M219.6 275.0Q219.0 276.2 220.4 274.4M241.6 295.8Q242.4 285.9 248.5 278.2M220.4 274.4Q230.0 277.3 245.7 273.3M248.5 278.2Q247.0 273.5 245.7 273.3M329.9 217.7Q333.6 224.4 339.5 232.5M329.9 217.7Q335.1 206.2 336.0 204.4M339.5 232.5Q342.2 227.7 351.2 225.2M336.0 204.4Q350.9 214.7 350.5 219.3M351.2 225.2Q350.5 224.4 350.5 219.3M274.1 178.0Q286.1 179.5 285.7 182.5M312.9 131.4Q319.3 147.9 327.9 157.2M327.9 157.2Q324.1 167.0 317.2 172.8M285.7 182.5Q299.9 183.4 317.2 172.8M248.5 278.2Q263.1 282.0 267.4 282.4M245.7 273.3Q248.8 260.3 247.8 259.5M275.8 267.4Q273.5 274.3 267.4 282.4M275.8 267.4Q274.8 264.4 271.2 257.2M247.8 259.5Q258.5 253.3 271.2 257.2M336.6 279.6Q338.5 282.1 338.2 289.1M336.6 279.6Q331.0 272.6 327.4 269.3M327.4 269.3Q322.5 262.5 319.7 269.4M338.2 289.1Q337.8 294.5 330.1 298.3M319.7 269.4Q321.1 279.5 315.8 277.6M315.8 277.6Q316.9 282.2 317.9 297.7M330.1 298.3Q324.7 296.1 324.6 301.1M324.6 301.1Q319.8 299.6 317.9 297.7M353.7 294.7Q339.9 292.9 338.2 289.1M353.7 294.7Q350.6 301.5 356.5 306.5M347.7 313.9Q338.6 305.2 330.1 298.3M305.2 258.0Q298.3 262.3 291.9 269.9M305.2 258.0Q310.6 258.7 319.7 269.4M291.9 269.9Q293.5 284.6 295.3 288.3M295.3 288.3Q311.5 286.9 315.8 277.6M323.9 312.7Q326.4 304.9 324.6 301.1M390.4 200.2Q405.9 199.9 412.8 199.9M390.4 200.2Q385.8 192.9 381.5 187.3M412.8 199.9Q399.4 182.6 385.4 168.0M381.5 187.3Q383.2 174.4 385.4 168.0M373.2 107.1Q368.2 138.7 365.5 156.6M327.9 157.2Q338.0 159.0 348.5 162.3M365.5 156.6Q358.6 161.6 348.5 162.3M478.8 122.2Q428.5 142.7 384.8 164.4M365.5 156.6Q377.9 161.3 384.8 164.4M478.8 122.2Q450.2 167.7 420.9 203.8M420.9 203.8Q414.8 202.1 412.8 199.9M384.8 164.4Q383.5 170.7 385.4 168.0M329.9 217.7Q317.7 215.8 317.2 217.9M336.0 204.4Q334.5 206.0 336.1 203.7M336.1 203.7Q329.5 202.8 319.4 193.5M319.4 193.5Q309.1 203.3 308.3 208.6M308.3 208.6Q311.9 211.2 317.2 217.9M336.6 240.3Q339.6 233.6 339.5 232.5M336.6 240.3Q318.7 238.8 313.3 239.5M317.2 217.9Q310.8 226.8 313.3 239.5M261.8 186.2Q264.5 198.6 265.0 209.0M265.0 209.0Q274.2 211.8 274.0 215.7M285.7 182.5Q285.1 191.5 293.7 205.0M274.0 215.7Q271.5 212.1 274.6 215.8M274.6 215.8Q281.9 212.2 286.7 212.5M286.7 212.5Q284.3 210.9 293.7 205.0M319.4 193.5Q318.0 184.2 317.2 172.8M308.3 208.6Q308.5 210.5 308.0 208.6M293.7 205.0Q301.0 210.5 308.0 208.6M282.5 233.9Q279.5 240.7 274.0 245.1M282.5 233.9Q289.8 227.9 294.6 230.7M274.5 246.8Q273.8 245.2 274.0 245.1M274.5 246.8Q290.1 244.9 304.4 251.1M304.4 251.1Q310.8 247.3 307.4 242.8M307.4 242.8Q299.0 232.3 298.0 232.1M294.6 230.7Q295.5 231.1 298.0 232.1M274.0 215.7Q266.8 226.5 263.9 236.7M274.6 215.8Q276.6 226.5 282.5 233.9M263.9 236.7Q266.8 240.8 274.0 245.1M286.7 212.5Q293.6 229.3 294.6 230.7M305.2 258.0Q301.8 253.2 304.4 251.1M291.9 269.9Q281.3 271.0 275.8 267.4M271.2 257.2Q269.4 250.5 274.5 246.8M341.0 249.9Q338.7 242.2 336.6 240.3M341.0 249.9Q331.3 258.2 327.4 269.3M313.3 239.5Q304.0 236.8 307.4 242.8M308.0 208.6Q301.8 220.8 298.0 232.1M301.1 299.2Q297.6 288.5 295.2 288.5M301.1 299.2Q296.7 310.2 295.2 316.4M295.2 288.5Q285.3 290.5 272.0 293.0M295.2 316.4Q281.1 316.3 272.3 312.5M272.0 293.0Q268.6 295.6 268.8 305.3M268.8 305.3Q268.1 313.2 272.3 312.5M295.3 288.3Q295.9 291.9 295.2 288.5M317.9 297.7Q308.1 301.2 301.1 299.2M299.2 322.5Q295.4 319.0 295.2 316.4M267.4 282.4Q277.2 290.0 272.0 293.0M265.8 327.2Q267.5 319.6 272.3 312.5M247.1 303.8Q258.9 308.1 268.8 305.3M236.0 250.6Q238.9 247.2 244.7 254.2M236.0 250.6Q230.2 238.9 226.1 227.1M244.7 254.2Q250.7 248.7 256.0 235.4M256.0 235.4Q252.2 231.5 246.4 222.7M246.4 222.7Q235.6 223.8 231.5 219.6M231.5 219.6Q235.0 225.7 226.1 227.1M227.1 256.2Q232.3 253.9 236.0 250.6M247.8 259.5Q251.6 254.1 244.7 254.2M194.8 239.4Q210.1 234.6 226.1 227.1M263.9 236.7Q262.2 234.7 256.0 235.4M265.0 209.0Q256.6 215.0 246.4 222.7M228.6 204.7Q230.4 211.8 231.5 219.6M369.6 311.8Q372.0 304.6 381.2 297.5M353.7 294.7Q362.0 286.0 365.0 283.2M381.2 297.5Q372.4 292.3 365.0 283.2M448.3 320.8Q441.4 310.8 440.9 299.8M466.9 251.4Q459.2 260.0 457.8 261.9M440.9 299.8Q456.3 286.9 457.8 261.9M413.8 324.7Q411.5 320.7 410.6 312.3M386.1 328.7Q390.4 320.2 394.1 311.1M394.1 311.1Q407.0 307.7 410.6 312.3M381.2 297.5Q387.8 296.7 388.0 296.3M394.1 311.1Q395.3 304.3 388.0 296.3M342.4 199.3Q344.3 188.9 350.1 176.9M342.4 199.3Q351.3 202.7 355.8 205.9M350.1 176.9Q360.3 187.3 367.5 200.9M355.8 205.9Q355.1 206.8 367.3 202.3M367.3 202.3Q369.5 202.1 367.5 200.9M336.1 203.7Q339.4 204.6 342.4 199.3M348.5 162.3Q347.9 167.5 350.1 176.9M350.5 219.3Q352.6 216.2 355.8 205.9M381.5 187.3Q370.3 197.7 367.5 200.9M369.0 205.1Q366.2 200.4 367.3 202.3M369.0 205.1Q367.8 215.6 359.2 226.6M359.2 226.6Q351.3 224.8 351.2 225.2M390.4 200.2Q390.5 208.3 384.9 209.2M375.7 210.0Q379.1 210.8 384.9 209.2M375.7 210.0Q374.5 205.6 369.0 205.1M336.6 279.6Q349.6 274.0 360.5 268.6M365.0 283.2Q363.6 278.8 365.4 277.3M360.5 268.6Q363.1 273.1 365.4 277.3M341.0 249.9Q348.9 252.0 360.3 256.6M360.5 268.6Q363.7 263.3 360.3 256.6M388.0 296.3Q391.2 299.4 389.0 295.3M389.0 295.3Q390.4 291.2 388.2 273.4M365.4 277.3Q374.3 277.8 388.2 273.4M404.8 290.2Q411.0 294.3 419.2 287.3M404.8 290.2Q408.8 285.8 402.6 293.2M402.6 293.2Q404.8 301.8 412.8 306.4M412.8 306.4Q423.6 304.5 429.7 298.3M429.7 298.3Q424.2 294.1 419.2 287.3M404.5 266.9Q406.6 278.3 404.8 290.2M404.5 266.9Q414.8 263.2 419.1 273.1M419.1 273.1Q421.0 277.1 419.2 287.3M389.0 295.3Q398.7 293.5 402.6 293.2M410.6 312.3Q409.0 310.4 412.8 306.4M440.9 299.8Q432.6 296.3 429.7 298.3M457.8 261.9Q433.7 267.4 419.1 273.1M375.7 210.0Q377.4 221.2 376.0 226.2M359.2 226.6Q362.6 232.5 366.8 232.0M366.8 232.0Q371.5 228.8 376.0 226.2M420.9 203.8Q422.6 214.1 420.9 218.0M384.9 209.2Q390.3 215.5 397.7 223.3M420.9 218.0Q408.8 220.9 397.7 223.3M466.9 251.4Q446.0 245.2 430.4 232.8M420.9 218.0Q424.4 226.8 430.4 232.8M376.0 226.2Q381.1 228.7 391.2 229.0M397.7 223.3Q395.6 224.9 391.2 229.0M368.0 250.8Q385.9 260.9 391.7 268.7M368.0 250.8Q373.5 253.3 368.3 250.2M368.3 250.2Q377.1 245.5 389.8 243.1M389.8 243.1Q398.0 249.7 403.7 255.9M391.7 268.7Q397.0 265.7 402.0 264.3M402.0 264.3Q397.4 259.4 403.7 255.9M360.3 256.6Q357.5 254.8 368.0 250.8M388.2 273.4Q387.8 268.9 391.7 268.7M366.8 232.0Q366.9 241.9 368.3 250.2M391.2 229.0Q386.2 230.8 389.8 243.1M430.4 232.8Q413.8 238.2 403.7 255.9M404.5 266.9Q400.3 270.4 402.0 264.3" stroke="#f02a3c" stroke-width="0.95" fill="none" stroke-linecap="round" opacity="0.9"/><g filter="url(#blur2)"><circle cx="253.9" cy="256.3" r="0.84" fill="#ff2a3a" opacity="0.8"/><circle cx="256.6" cy="254.4" r="0.88" fill="#ff2a3a" opacity="0.8"/><circle cx="257.1" cy="258.4" r="0.73" fill="#ff2a3a" opacity="0.8"/><circle cx="256.2" cy="253.1" r="0.84" fill="#ff2a3a" opacity="0.8"/><circle cx="255.5" cy="256.6" r="0.65" fill="#ff2a3a" opacity="0.8"/><circle cx="259.4" cy="251.1" r="0.75" fill="#ff2a3a" opacity="0.8"/><circle cx="257.7" cy="254.3" r="0.61" fill="#ff2a3a" opacity="0.8"/><circle cx="255.5" cy="252.3" r="0.81" fill="#ff2a3a" opacity="0.8"/><circle cx="260.8" cy="257.2" r="0.78" fill="#ff2a3a" opacity="0.8"/><circle cx="294.6" cy="304.4" r="0.69" fill="#ff2a3a" opacity="0.8"/><circle cx="294.7" cy="303.9" r="1.06" fill="#ff2a3a" opacity="0.8"/><circle cx="297.3" cy="304.4" r="1.10" fill="#ff2a3a" opacity="0.8"/><circle cx="293.6" cy="303.9" r="0.80" fill="#ff2a3a" opacity="0.8"/><circle cx="297.2" cy="304.0" r="0.61" fill="#ff2a3a" opacity="0.8"/><circle cx="298.9" cy="306.8" r="0.86" fill="#ff2a3a" opacity="0.8"/><circle cx="297.4" cy="306.8" r="0.70" fill="#ff2a3a" opacity="0.8"/><circle cx="274.5" cy="204.8" r="0.72" fill="#ff2a3a" opacity="0.8"/><circle cx="278.3" cy="201.2" r="1.02" fill="#ff2a3a" opacity="0.8"/><circle cx="275.6" cy="204.6" r="0.97" fill="#ff2a3a" opacity="0.8"/><circle cx="276.4" cy="204.7" r="0.55" fill="#ff2a3a" opacity="0.8"/><circle cx="272.7" cy="205.0" r="0.77" fill="#ff2a3a" opacity="0.8"/><circle cx="276.2" cy="205.3" r="0.68" fill="#ff2a3a" opacity="0.8"/><circle cx="275.0" cy="206.2" r="1.01" fill="#ff2a3a" opacity="0.8"/></g><circle cx="252.2" cy="230.1" r="1.19" fill="#66f050" opacity="0.95"/><circle cx="250.4" cy="226.2" r="0.66" fill="#66f050" opacity="0.95"/><circle cx="255.5" cy="226.0" r="1.07" fill="#66f050" opacity="0.95"/><circle cx="252.5" cy="225.0" r="1.03" fill="#66f050" opacity="0.95"/><circle cx="255.4" cy="224.6" r="0.79" fill="#66f050" opacity="0.95"/><circle cx="251.0" cy="225.4" r="1.16" fill="#66f050" opacity="0.95"/><circle cx="336.1" cy="223.6" r="0.82" fill="#66f050" opacity="0.95"/><circle cx="338.0" cy="221.8" r="0.91" fill="#66f050" opacity="0.95"/><circle cx="336.3" cy="220.0" r="0.77" fill="#66f050" opacity="0.95"/><circle cx="333.7" cy="224.4" r="1.13" fill="#66f050" opacity="0.95"/><circle cx="334.6" cy="219.5" r="0.86" fill="#66f050" opacity="0.95"/><circle cx="337.0" cy="218.9" r="0.95" fill="#66f050" opacity="0.95"/><circle cx="334.5" cy="214.7" r="0.84" fill="#66f050" opacity="0.95"/><circle cx="380.4" cy="255.9" r="1.02" fill="#66f050" opacity="0.95"/><circle cx="385.2" cy="253.6" r="0.89" fill="#66f050" opacity="0.95"/><circle cx="387.2" cy="256.6" r="0.68" fill="#66f050" opacity="0.95"/><circle cx="383.1" cy="257.9" r="1.11" fill="#66f050" opacity="0.95"/><circle cx="386.3" cy="256.3" r="0.65" fill="#66f050" opacity="0.95"/><circle cx="375.3" cy="291.2" r="1.18" fill="#66f050" opacity="0.95"/><circle cx="374.6" cy="290.7" r="0.68" fill="#66f050" opacity="0.95"/><circle cx="374.6" cy="295.2" r="0.67" fill="#66f050" opacity="0.95"/><circle cx="309.3" cy="333.6" r="0.84" fill="#66f050" opacity="0.95"/><circle cx="314.6" cy="338.8" r="1.08" fill="#66f050" opacity="0.95"/><circle cx="313.3" cy="333.7" r="0.90" fill="#66f050" opacity="0.95"/><circle cx="311.5" cy="339.2" r="0.91" fill="#66f050" opacity="0.95"/><circle cx="311.2" cy="335.5" r="0.76" fill="#66f050" opacity="0.95"/><circle cx="317.3" cy="334.6" r="1.16" fill="#66f050" opacity="0.95"/><circle cx="307.9" cy="332.3" r="0.65" fill="#66f050" opacity="0.95"/><circle cx="306.4" cy="335.6" r="1.14" fill="#66f050" opacity="0.95"/><circle cx="313.8" cy="333.7" r="0.75" fill="#66f050" opacity="0.95"/><circle cx="315.3" cy="336.7" r="1.18" fill="#66f050" opacity="0.95"/><circle cx="314.7" cy="333.5" r="1.02" fill="#66f050" opacity="0.95"/><circle cx="252.2" cy="356.1" r="1.03" fill="#66f050" opacity="0.95"/><circle cx="249.3" cy="357.2" r="0.82" fill="#66f050" opacity="0.95"/><circle cx="255.9" cy="359.1" r="0.68" fill="#66f050" opacity="0.95"/><circle cx="250.6" cy="356.8" r="0.94" fill="#66f050" opacity="0.95"/><circle cx="252.1" cy="351.4" r="0.77" fill="#66f050" opacity="0.95"/><circle cx="244.2" cy="349.9" r="0.68" fill="#66f050" opacity="0.95"/><circle cx="254.9" cy="357.5" r="0.61" fill="#66f050" opacity="0.95"/><circle cx="250.5" cy="350.1" r="1.00" fill="#66f050" opacity="0.95"/><circle cx="250.3" cy="356.0" r="0.90" fill="#66f050" opacity="0.95"/><circle cx="250.5" cy="353.4" r="1.04" fill="#66f050" opacity="0.95"/><circle cx="247.8" cy="347.6" r="0.63" fill="#66f050" opacity="0.95"/><circle cx="310.3" cy="318.4" r="0.67" fill="#66f050" opacity="0.95"/><circle cx="309.2" cy="320.3" r="1.16" fill="#66f050" opacity="0.95"/><circle cx="306.8" cy="317.4" r="0.93" fill="#66f050" opacity="0.95"/><circle cx="309.2" cy="320.1" r="1.04" fill="#66f050" opacity="0.95"/><circle cx="310.1" cy="320.5" r="1.02" fill="#66f050" opacity="0.95"/>
<line x1="364" y1="348.5" x2="384" y2="348.5" stroke="#ffffff" stroke-width="1"/>
</g>
<clipPath id="clip416"><rect x="416" y="195" width="165" height="165"/></clipPath>
<g clip-path="url(#clip416)"><rect x="416" y="195" width="165" height="165" fill="#06041a"/>
<g filter="url(#blur)"><polygon points="421.7,275.8 426.5,284.7 423.8,288.5 417.1,289.1 407.8,275.4 409.6,272.7" fill="#201a90" opacity="0.33"/><polygon points="420.4,362.7 415.5,372.0 417.1,378.2 432.9,378.7 435.8,372.0 428.4,362.1" fill="#201a90" opacity="0.18"/><polygon points="428.5,180.1 392.7,194.0 404.2,212.2 404.5,212.2 428.6,185.7" fill="#201a90" opacity="0.32"/><polygon points="459.0,283.7 457.7,281.5 482.3,267.9 483.7,273.9 473.6,286.9" fill="#201a90" opacity="0.29"/><polygon points="539.5,232.3 528.2,228.8 519.7,234.4 518.3,249.7 523.3,253.3 539.3,249.4" fill="#201a90" opacity="0.26"/><polygon points="414.8,336.9 414.1,323.3 430.0,322.7 431.3,326.7 428.1,336.2" fill="#201a90" opacity="0.16"/><polygon points="541.9,255.9 527.4,259.4 527.7,270.6 541.5,275.0 549.9,269.7 552.1,261.3" fill="#201a90" opacity="0.35"/><polygon points="573.3,258.7 587.1,273.9 567.4,288.5 564.1,286.9 557.8,272.2 560.2,263.2" fill="#201a90" opacity="0.35"/><polygon points="492.0,266.3 492.0,266.3 500.7,258.8 512.0,258.0 516.3,261.1 516.5,272.0 512.8,279.1 506.9,283.5 504.9,283.6 493.2,271.6" fill="#201a90" opacity="0.37"/><polygon points="473.4,302.0 464.0,301.1 460.5,296.9 460.8,290.9 471.0,293.2 473.8,301.4" fill="#201a90" opacity="0.37"/><polygon points="433.7,339.1 436.6,330.6 447.8,337.1 445.2,343.1 436.4,344.6" fill="#201a90" opacity="0.16"/><polygon points="564.6,191.3 575.3,203.7 580.1,201.5 580.1,171.9" fill="#201a90" opacity="0.26"/><polygon points="480.2,216.5 487.2,214.3 496.8,218.0 497.3,220.9 489.7,230.2 478.6,227.1 477.2,223.5" fill="#201a90" opacity="0.36"/><polygon points="477.7,205.8 483.7,204.0 485.5,192.4 479.9,186.8 474.6,189.7 472.9,198.2" fill="#201a90" opacity="0.30"/><polygon points="544.9,222.3 537.4,208.5 530.2,214.2 531.3,222.8 540.7,225.7" fill="#201a90" opacity="0.28"/><polygon points="578.3,215.9 580.7,211.2 585.2,209.0 602.7,213.2 605.2,216.4 604.2,222.4 585.8,231.0" fill="#201a90" opacity="0.17"/><polygon points="382.1,201.8 373.0,196.3 342.4,235.7 344.8,236.5 381.7,230.4 391.8,217.0" fill="#201a90" opacity="0.36"/><polygon points="458.9,276.8 477.1,266.8 477.1,266.7 469.9,262.0 456.4,270.8 456.7,274.9" fill="#201a90" opacity="0.14"/><polygon points="610.4,301.2 588.4,312.5 589.8,319.7 615.4,320.7" fill="#201a90" opacity="0.26"/><polygon points="437.7,171.4 437.5,170.5 451.2,129.1 486.2,149.3 477.3,176.6 469.2,180.9" fill="#201a90" opacity="0.15"/><polygon points="433.0,389.6 451.2,429.3 338.5,493.1 412.0,388.9" fill="#201a90" opacity="0.28"/><polygon points="482.8,311.4 481.0,318.5 490.0,330.0 498.1,327.6 491.2,310.2 483.2,310.9" fill="#201a90" opacity="0.25"/><polygon points="420.8,175.7 395.4,185.6 387.8,181.0 384.7,161.9 421.3,173.4 421.4,174.0" fill="#201a90" opacity="0.33"/><polygon points="574.6,293.5 577.5,303.1 581.3,305.9 610.3,291.0 610.5,286.7 592.7,280.0" fill="#201a90" opacity="0.21"/><polygon points="454.1,227.4 452.5,237.3 456.2,241.3 465.2,242.1 468.7,232.0 467.3,228.8" fill="#201a90" opacity="0.37"/><polygon points="439.0,208.7 431.6,189.0 408.7,214.2 423.1,220.2 438.6,211.5" fill="#201a90" opacity="0.25"/><polygon points="506.8,196.3 507.2,204.4 501.6,211.4 492.1,207.7 494.2,194.1" fill="#201a90" opacity="0.33"/><polygon points="549.1,221.6 539.5,203.6 540.9,199.6 549.8,196.0 551.8,196.2 557.0,215.3 550.7,221.3" fill="#201a90" opacity="0.16"/><polygon points="560.9,211.6 557.5,198.9 561.9,197.3 570.2,206.9 568.2,210.8" fill="#201a90" opacity="0.23"/><polygon points="412.1,134.7 368.8,121.1 237.2,-116.5 396.4,41.1 423.1,101.4" fill="#201a90" opacity="0.16"/><polygon points="451.6,319.9 453.9,323.0 452.3,328.1 449.5,329.5 440.3,324.1 439.3,321.1 441.8,316.9 442.1,316.8" fill="#201a90" opacity="0.20"/><polygon points="488.9,356.1 495.7,349.4 505.2,346.7 507.5,347.0 512.1,350.7 519.0,370.2 504.1,403.1 503.1,402.8 485.5,365.7" fill="#201a90" opacity="0.33"/><polygon points="440.1,217.4 425.7,225.4 427.5,236.0 432.5,239.7 443.7,236.4 445.6,224.4" fill="#201a90" opacity="0.15"/><polygon points="460.1,376.8 451.9,381.0 449.6,386.5 460.7,410.7 483.7,407.6 469.4,377.5" fill="#201a90" opacity="0.26"/><polygon points="581.0,248.6 586.1,241.1 608.1,230.9 629.1,263.2 615.4,278.2 594.5,270.3 579.6,253.9" fill="#201a90" opacity="0.38"/><polygon points="492.5,251.2 484.3,258.2 476.3,252.8 473.4,247.3 477.1,236.6 487.9,239.6" fill="#201a90" opacity="0.37"/><polygon points="551.9,190.8 541.1,159.6 579.2,164.5 578.4,166.2 560.5,188.5 554.0,191.0" fill="#201a90" opacity="0.25"/><polygon points="401.4,260.6 400.1,253.8 387.6,241.2 346.2,248.0 380.1,276.8 398.3,268.9 400.6,265.5" fill="#201a90" opacity="0.23"/><polygon points="435.8,357.3 442.2,365.9 451.0,361.3 445.7,350.9 438.0,352.2" fill="#201a90" opacity="0.29"/><polygon points="551.3,279.3 555.8,289.7 544.3,294.3 543.5,292.8 544.8,283.3" fill="#201a90" opacity="0.31"/><polygon points="537.9,310.0 544.7,319.7 544.5,328.0 520.6,338.1 514.9,333.6 524.1,314.1" fill="#201a90" opacity="0.38"/><polygon points="425.3,298.5 418.2,299.1 407.7,311.1 413.8,316.6 428.7,316.1 431.9,310.6" fill="#201a90" opacity="0.17"/><polygon points="429.7,257.9 408.4,261.5 407.5,266.8 423.4,271.0 431.9,261.0" fill="#201a90" opacity="0.37"/><polygon points="576.0,373.2 581.5,353.0 572.2,341.2 561.2,341.6 550.8,364.9" fill="#201a90" opacity="0.29"/><polygon points="575.7,154.2 575.8,154.1 587.2,85.9 546.2,98.2 528.5,141.4 531.3,145.2 541.7,149.8" fill="#201a90" opacity="0.24"/><polygon points="449.3,210.8 463.8,205.9 468.7,213.7 466.1,219.8 453.4,218.4 449.0,212.9" fill="#201a90" opacity="0.22"/><polygon points="608.8,175.2 703.3,165.9 617.7,209.4 614.9,205.8" fill="#201a90" opacity="0.22"/><polygon points="445.2,242.3 433.6,245.7 434.0,255.3 436.1,258.2 443.8,261.7 449.8,247.3" fill="#201a90" opacity="0.27"/><polygon points="407.7,348.3 399.8,350.4 396.3,360.7 408.3,367.2 413.4,357.6" fill="#201a90" opacity="0.39"/><polygon points="516.5,195.4 521.5,189.7 532.7,198.4 531.7,201.1 525.5,206.1 516.8,202.5" fill="#201a90" opacity="0.27"/><polygon points="508.0,182.3 513.0,176.6 514.7,158.4 512.6,155.5 497.2,156.7 491.3,174.8 497.0,180.4" fill="#201a90" opacity="0.38"/><polygon points="506.4,217.0 506.8,219.9 516.4,227.9 523.7,223.0 522.7,214.0 512.2,209.7" fill="#201a90" opacity="0.23"/><polygon points="507.8,299.3 515.8,311.3 509.3,325.2 507.2,324.9 500.1,306.9 506.2,299.4" fill="#201a90" opacity="0.29"/><polygon points="474.2,308.7 472.1,317.1 462.9,320.0 460.1,316.3 463.1,307.6" fill="#201a90" opacity="0.17"/><polygon points="444.4,198.4 439.4,185.2 439.4,181.7 439.9,180.1 459.0,185.9 457.5,193.8" fill="#201a90" opacity="0.24"/><polygon points="454.4,249.1 465.1,250.1 468.4,256.3 451.5,267.4 448.7,262.8" fill="#201a90" opacity="0.27"/><polygon points="584.3,165.1 584.4,165.1 598.0,172.2 604.6,205.4 583.5,200.4 583.5,166.7" fill="#201a90" opacity="0.38"/><polygon points="383.4,307.9 380.7,284.4 400.6,275.8 413.1,294.1 399.9,309.3" fill="#201a90" opacity="0.35"/><polygon points="524.2,180.3 526.3,158.5 535.8,162.6 544.6,187.9 537.5,190.7" fill="#201a90" opacity="0.28"/><polygon points="572.7,316.1 569.1,313.5 554.5,320.6 554.4,327.4 561.8,333.7 570.2,333.4 574.5,324.9" fill="#201a90" opacity="0.24"/><polygon points="436.7,266.3 431.3,272.6 435.4,280.0 444.3,276.0 444.1,272.1 442.1,268.8" fill="#201a90" opacity="0.35"/><polygon points="404.0,337.5 396.9,339.3 380.9,325.6 387.5,318.1 399.2,319.0 404.6,323.9 405.1,335.4" fill="#201a90" opacity="0.15"/><polygon points="545.0,361.2 532.6,365.1 525.3,344.7 545.5,336.2 553.3,342.8" fill="#201a90" opacity="0.33"/><polygon points="551.7,230.2 547.5,233.7 547.4,248.1 557.1,253.2 568.5,249.4 569.7,245.1 553.0,229.9" fill="#201a90" opacity="0.23"/><polygon points="555.7,225.0 561.2,219.8 570.8,218.8 579.0,235.1 574.4,241.9" fill="#201a90" opacity="0.18"/><polygon points="425.4,247.0 421.8,244.3 411.6,251.2 412.5,255.7 425.7,253.5" fill="#201a90" opacity="0.29"/><polygon points="500.8,248.7 495.7,236.0 503.7,226.3 513.5,234.4 512.3,247.9" fill="#201a90" opacity="0.37"/><polygon points="515.0,292.8 524.2,306.6 535.5,303.3 536.4,299.3 535.5,297.5 520.7,288.7" fill="#201a90" opacity="0.34"/><polygon points="449.2,294.8 440.8,302.5 440.5,302.6 435.4,293.2 437.7,290.1 446.5,286.1 448.5,287.8 449.4,289.2" fill="#201a90" opacity="0.15"/><polygon points="474.7,323.0 486.5,338.1 478.9,345.5 462.4,333.4 464.5,326.3" fill="#201a90" opacity="0.20"/><polygon points="459.9,341.0 472.1,349.9 469.3,357.9 459.9,357.2 454.9,347.3 457.1,342.3" fill="#201a90" opacity="0.17"/><polygon points="482.7,300.1 491.9,299.3 498.8,290.8 487.8,279.6 479.4,290.4" fill="#201a90" opacity="0.23"/><polygon points="524.6,276.0 538.5,280.5 536.8,293.0 520.8,283.5" fill="#201a90" opacity="0.37"/><polygon points="404.4,221.2 416.2,226.1 417.8,235.4 405.1,243.9 394.9,233.6 404.2,221.2" fill="#201a90" opacity="0.19"/><polygon points="488.6,134.8 508.1,133.3 525.0,92.0 431.7,55.6 459.4,118.0" fill="#201a90" opacity="0.14"/><polygon points="413.8,345.3 419.3,354.2 427.3,353.7 429.9,347.9 427.1,342.3 415.0,343.0" fill="#201a90" opacity="0.22"/><polygon points="559.9,295.5 546.1,301.1 545.3,305.0 550.9,312.8 565.4,305.8 562.7,296.9" fill="#201a90" opacity="0.15"/><polygon points="619.9,330.2 625.3,340.0 589.0,347.8 581.3,338.1 586.0,328.9" fill="#201a90" opacity="0.30"/><polygon points="454.3,298.9 441.6,310.6 455.6,315.2 459.2,304.8" fill="#201a90" opacity="0.39"/></g><path d="M175.2 -198.7Q285.7 -82.8 410.2 33.9M410.2 33.9Q474.4 61.4 543.0 85.8M598.7 69.1Q570.4 82.3 543.0 85.8M458.9 430.0Q394.7 469.9 325.8 505.3M458.9 430.0Q481.7 427.0 503.5 424.1M505.2 424.6Q505.2 427.6 503.5 424.1M572.9 338.6Q567.7 338.0 559.8 339.1M572.9 338.6Q581.7 346.1 584.1 352.6M559.8 339.1Q553.4 351.0 547.4 366.9M584.1 352.6Q579.4 363.1 577.5 376.7M547.4 366.9Q555.5 374.3 577.5 376.7M528.6 372.8Q524.6 356.9 517.7 342.0M528.6 372.8Q540.6 371.0 547.4 366.9M548.2 329.1Q533.9 329.4 517.7 342.0M548.2 329.1Q553.4 335.4 559.8 339.1M636.4 341.3Q614.3 351.5 584.1 352.6M528.6 372.8Q520.4 395.8 505.2 424.6M636.3 265.1Q617.8 246.5 610.2 225.0M725.4 158.2Q668.6 189.6 611.7 216.1M610.2 225.0Q610.6 221.1 611.7 216.1M579.6 325.3Q574.5 319.5 576.9 311.5M579.6 325.3Q602.9 327.1 628.5 327.2M576.9 311.5Q599.1 300.5 618.9 290.0M628.5 327.2Q624.5 308.5 618.9 290.0M571.3 307.5Q576.0 310.8 576.9 311.5M571.3 307.5Q558.5 311.5 548.4 318.5M548.4 318.5Q552.7 323.6 548.2 329.1M572.9 338.6Q578.8 332.9 579.6 325.3M636.4 341.3Q631.0 332.4 628.5 327.2M619.3 283.7Q619.4 287.5 618.9 290.0M619.3 283.7Q629.3 271.2 636.3 265.1M725.4 158.2Q661.1 164.2 599.8 170.6M611.7 216.1Q613.8 207.8 607.9 211.4M607.9 211.4Q605.0 189.6 599.8 170.6M598.7 69.1Q592.0 114.2 583.2 161.9M599.8 170.6Q592.4 170.1 583.2 161.9M175.2 -198.7Q273.1 -22.3 369.4 151.9M329.6 243.4Q353.1 212.4 374.7 185.2M369.4 151.9Q373.4 168.0 374.7 185.2M410.2 33.9Q427.8 78.2 449.6 122.7M543.0 85.8Q530.4 117.0 518.9 144.5M518.9 144.5Q504.9 144.3 491.2 146.7M449.6 122.7Q474.0 137.2 491.2 146.7M369.4 151.9Q404.5 163.4 433.3 172.0M449.6 122.7Q441.2 146.3 433.3 172.0M458.9 430.0Q447.5 409.0 437.4 383.1M325.8 505.3Q369.5 440.1 412.6 382.3M412.6 382.3Q424.9 379.2 437.4 383.1M548.4 318.5Q544.5 309.3 539.7 306.2M517.7 342.0Q510.9 339.4 510.5 336.3M510.5 336.3Q516.1 319.6 522.1 311.3M522.1 311.3Q532.8 314.2 539.7 306.2M401.6 271.9Q385.9 281.7 377.6 282.3M401.6 271.9Q407.5 281.8 416.8 294.1M377.6 282.3Q378.8 292.9 380.9 310.7M416.8 294.1Q412.0 304.5 400.8 312.4M400.8 312.4Q389.0 310.9 380.9 310.7M329.6 243.4Q327.6 243.0 333.2 244.4M377.6 282.3Q357.8 259.1 333.2 244.4M369.6 323.7Q374.2 317.6 380.9 310.7M475.7 365.7Q481.0 361.5 481.1 350.5M475.7 365.7Q465.6 363.2 457.8 364.4M481.1 350.5Q470.6 341.0 457.9 333.4M457.8 364.4Q452.3 357.7 448.3 345.6M448.3 345.6Q454.6 341.5 452.4 336.0M452.4 336.0Q454.6 336.1 457.9 333.4M503.5 424.1Q484.9 394.9 475.7 365.7M510.5 336.3Q506.0 342.0 506.8 335.7M506.8 335.7Q501.2 338.2 491.9 340.0M491.9 340.0Q486.0 339.0 481.1 350.5M437.4 383.1Q441.5 381.9 442.0 372.6M442.0 372.6Q448.1 370.2 457.8 364.4M571.3 307.5Q571.0 296.6 567.1 293.5M619.3 283.7Q608.7 282.2 593.4 273.9M593.4 273.9Q580.8 283.6 567.1 293.5M539.7 306.2Q542.3 299.3 541.0 300.1M541.0 300.1Q552.1 298.3 562.7 291.3M567.1 293.5Q561.8 294.9 562.7 291.3M541.0 300.1Q539.3 293.4 539.6 297.2M539.6 297.2Q540.6 285.8 542.1 279.3M562.7 291.3Q559.2 278.5 554.2 271.6M542.1 279.3Q550.8 273.6 554.2 271.6M522.1 311.3Q515.9 299.2 507.9 290.0M539.6 297.2Q527.4 293.3 516.8 283.5M516.8 283.5Q512.9 285.8 507.9 290.0M542.1 279.3Q529.0 279.0 522.2 272.9M516.8 283.5Q521.3 277.4 522.2 272.9M506.8 335.7Q501.1 317.0 494.1 303.5M494.1 303.5Q497.0 294.7 505.0 290.1M505.0 290.1Q507.4 290.8 507.9 290.0M536.9 155.9Q541.6 176.7 550.0 193.8M536.9 155.9Q562.0 159.3 583.1 161.9M582.1 163.9Q585.2 162.2 583.1 161.9M582.1 163.9Q571.0 178.6 560.5 191.0M560.5 191.0Q556.4 194.5 552.5 194.0M552.5 194.0Q548.1 197.5 550.0 193.8M518.9 144.5Q518.8 146.7 522.7 149.8M583.2 161.9Q579.7 163.4 583.1 161.9M522.7 149.8Q533.0 155.5 536.9 155.9M582.1 205.2Q597.1 204.4 607.9 211.4M582.1 205.2Q580.1 183.4 582.1 163.9M582.1 205.2Q576.4 209.6 575.4 208.3M575.4 208.3Q568.4 199.6 560.5 191.0M491.4 234.8Q496.3 241.7 498.8 253.4M491.4 234.8Q494.9 225.5 503.0 220.6M503.0 220.6Q511.4 227.4 517.3 232.4M517.3 232.4Q517.8 245.0 515.5 252.1M515.5 252.1Q503.8 251.4 498.8 253.4M474.2 230.1Q483.2 229.1 491.4 234.8M474.2 230.1Q469.9 241.2 468.3 247.2M468.3 247.2Q473.4 254.2 473.0 255.9M473.0 255.9Q479.5 259.6 485.8 264.4M485.8 264.4Q495.0 258.0 498.8 253.4M522.7 149.8Q521.9 169.4 519.5 182.5M550.0 193.8Q543.8 194.4 539.5 198.1M539.5 198.1Q529.4 191.8 519.5 182.5M387.6 235.5Q397.0 244.2 404.0 252.0M387.6 235.5Q396.4 221.7 402.5 215.8M404.0 252.0Q411.9 245.6 424.2 238.4M421.6 223.6Q420.6 227.7 424.2 238.4M421.6 223.6Q409.2 217.4 402.8 215.8M402.5 215.8Q402.2 213.3 402.8 215.8M333.2 244.4Q361.0 244.2 387.6 235.5M374.7 185.2Q381.1 192.5 388.1 193.3M402.5 215.8Q396.0 201.8 388.1 193.3M491.2 146.7Q485.2 160.5 480.5 179.2M433.3 172.0Q435.3 169.6 433.5 173.0M480.5 179.2Q479.0 183.2 470.9 184.3M470.9 184.3Q447.2 180.6 433.5 173.0M402.8 215.8Q421.6 197.4 432.6 183.0M388.1 193.3Q412.8 180.2 432.5 176.1M432.6 183.0Q433.2 175.4 432.5 176.1M433.5 173.0Q434.2 170.1 432.5 176.1M522.2 272.9Q515.4 265.9 521.9 256.8M505.0 290.1Q502.0 279.8 487.6 272.4M485.8 264.4Q487.9 264.7 485.8 264.5M521.9 256.8Q517.9 256.0 515.5 252.1M487.6 272.4Q490.8 265.4 485.8 264.5M416.8 294.1Q423.6 294.5 427.5 293.1M400.8 312.4Q401.9 320.6 410.0 320.8M410.0 320.8Q426.2 318.0 432.7 320.0M432.7 320.0Q439.5 316.0 437.7 311.7M437.7 311.7Q432.2 306.2 427.5 293.1M448.9 271.7Q461.5 264.6 473.0 255.9M448.9 271.7Q452.9 278.6 449.4 279.1M485.8 264.5Q471.8 269.9 453.4 282.4M449.4 279.1Q447.5 283.5 453.4 282.4M401.6 271.9Q400.8 270.1 404.6 267.5M404.0 252.0Q402.2 256.0 405.7 261.0M404.6 267.5Q402.0 268.3 405.7 261.0M427.5 293.1Q427.2 289.7 431.9 286.9M431.9 286.9Q427.5 282.8 424.1 272.6M404.6 267.5Q410.8 270.0 424.1 272.6M445.0 265.2Q448.5 256.8 453.1 245.8M445.0 265.2Q440.9 261.6 434.5 260.4M434.5 260.4Q433.8 257.6 431.8 256.6M431.8 256.6Q432.7 249.9 431.2 243.6M431.2 243.6Q437.4 241.3 446.8 239.0M453.1 245.8Q450.8 248.1 446.8 239.0M448.9 271.7Q445.7 269.2 445.0 265.2M468.3 247.2Q464.3 241.3 453.1 245.8M431.9 286.9Q436.3 280.0 449.4 279.1M424.1 272.6Q429.0 272.6 434.5 260.4M405.7 261.0Q419.8 261.8 431.8 256.6M424.2 238.4Q427.2 234.9 431.2 243.6M610.2 225.0Q590.8 233.9 583.0 237.7M575.4 208.3Q574.1 208.6 571.8 215.3M583.0 237.7Q580.2 222.7 571.8 215.3M552.5 194.0Q558.4 209.0 558.6 216.7M571.8 215.3Q563.3 213.3 558.6 216.7M511.0 205.3Q512.8 196.3 510.4 192.7M511.0 205.3Q508.8 207.7 502.3 216.2M502.3 216.2Q496.9 213.5 487.4 210.4M487.4 210.4Q488.0 197.6 490.7 189.3M490.7 189.3Q501.2 186.3 510.4 192.7M539.5 198.1Q537.9 199.5 537.7 202.8M519.5 182.5Q516.7 184.5 510.4 192.7M537.7 202.8Q536.4 206.5 526.6 211.8M526.6 211.8Q515.9 212.0 511.0 205.3M503.0 220.6Q506.8 217.9 502.3 216.2M517.3 232.4Q520.5 228.8 528.2 225.1M526.6 211.8Q525.6 217.7 528.2 225.1M480.5 179.2Q489.5 185.2 490.7 189.3M467.9 199.9Q455.4 205.2 442.2 208.7M467.9 199.9Q472.1 208.9 476.6 213.8M472.0 224.6Q476.5 218.3 476.6 213.8M472.0 224.6Q461.0 229.4 449.5 222.2M449.5 222.2Q446.7 216.8 441.8 212.4M441.8 212.4Q447.1 210.6 442.2 208.7M470.9 184.3Q466.7 193.8 467.9 199.9M432.6 183.0Q435.2 194.6 442.2 208.7M487.4 210.4Q482.9 211.8 476.6 213.8M474.2 230.1Q471.2 226.0 472.0 224.6M446.8 239.0Q446.7 233.5 449.5 222.2M421.6 223.6Q429.9 216.6 441.8 212.4M369.6 323.7Q388.4 334.0 397.0 347.1M397.0 347.1Q398.0 358.2 391.7 362.6M412.6 382.3Q410.9 373.9 410.0 372.6M391.7 362.6Q401.9 369.3 410.0 372.6M434.3 348.0Q434.8 352.7 430.4 357.1M434.3 348.0Q435.2 347.1 430.0 339.2M430.0 339.2Q417.8 343.3 410.9 340.3M430.4 357.1Q424.5 356.1 417.7 358.0M417.7 358.0Q412.6 355.6 409.1 343.9M410.9 340.3Q412.5 337.6 409.1 343.9M442.0 372.6Q436.4 364.5 430.4 357.1M448.3 345.6Q440.9 345.5 434.3 348.0M452.4 336.0Q439.9 333.0 434.7 325.7M434.7 325.7Q430.0 331.5 430.0 339.2M410.0 320.8Q409.0 328.7 410.9 340.3M434.7 325.7Q435.5 323.8 432.7 320.0M410.0 372.6Q412.2 362.9 417.7 358.0M397.0 347.1Q401.9 347.9 409.1 343.9M491.9 340.0Q483.9 330.0 475.2 318.8M457.9 333.4Q458.5 327.8 460.9 323.5M460.9 323.5Q468.6 316.5 475.2 318.8M557.4 259.5Q554.1 253.7 542.6 251.7M557.4 259.5Q564.8 259.9 574.9 253.6M574.9 253.6Q576.4 250.4 576.7 247.0M576.7 247.0Q562.5 231.5 551.1 223.9M542.6 251.7Q543.2 243.7 542.8 229.6M542.8 229.6Q543.8 230.4 549.2 224.3M551.1 223.9Q547.4 222.2 549.2 224.3M554.2 271.6Q557.1 265.6 557.4 259.5M521.9 256.8Q534.0 252.4 542.6 251.7M593.4 273.9Q581.6 259.1 574.9 253.6M583.0 237.7Q576.8 239.7 576.7 247.0M558.6 216.7Q551.3 221.1 551.1 223.9M528.2 225.1Q533.8 222.4 542.8 229.6M537.7 202.8Q549.7 211.5 549.2 224.3M437.7 311.7Q434.8 314.7 438.2 311.6M460.9 323.5Q461.6 317.7 456.5 317.6M438.2 311.6Q443.7 312.1 456.5 317.6M461.3 304.1Q460.8 299.4 454.8 296.3M461.3 304.1Q467.9 304.8 478.6 305.7M474.3 289.5Q467.8 283.9 455.2 285.2M474.3 289.5Q475.9 293.6 479.5 304.8M455.2 285.2Q460.4 295.3 454.8 296.3M479.5 304.8Q481.4 304.9 478.6 305.7M438.2 311.6Q448.1 298.7 454.8 296.3M456.5 317.6Q459.6 307.5 461.3 304.1M475.2 318.8Q473.6 310.5 478.6 305.7M487.6 272.4Q480.1 282.4 474.3 289.5M453.4 282.4Q456.0 284.5 455.2 285.2M494.1 303.5Q484.4 305.8 479.5 304.8" stroke="#f0284a" stroke-width="0.95" fill="none" stroke-linecap="round" opacity="0.85"/><g filter="url(#blur2)"><circle cx="513.4" cy="325.4" r="0.98" fill="#ff2a3a" opacity="0.8"/><circle cx="501.4" cy="317.8" r="1.09" fill="#ff2a3a" opacity="0.8"/><circle cx="516.1" cy="319.1" r="0.74" fill="#ff2a3a" opacity="0.8"/><circle cx="516.3" cy="322.1" r="0.75" fill="#ff2a3a" opacity="0.8"/><circle cx="514.3" cy="320.9" r="0.74" fill="#ff2a3a" opacity="0.8"/><circle cx="508.9" cy="320.6" r="0.77" fill="#ff2a3a" opacity="0.8"/><circle cx="516.9" cy="322.2" r="0.81" fill="#ff2a3a" opacity="0.8"/><circle cx="525.8" cy="321.2" r="1.07" fill="#ff2a3a" opacity="0.8"/><circle cx="522.9" cy="320.2" r="0.81" fill="#ff2a3a" opacity="0.8"/><circle cx="518.8" cy="327.7" r="0.91" fill="#ff2a3a" opacity="0.8"/><circle cx="515.7" cy="320.4" r="0.91" fill="#ff2a3a" opacity="0.8"/><circle cx="519.1" cy="318.9" r="0.94" fill="#ff2a3a" opacity="0.8"/><circle cx="513.3" cy="312.1" r="0.69" fill="#ff2a3a" opacity="0.8"/><circle cx="514.1" cy="315.8" r="1.07" fill="#ff2a3a" opacity="0.8"/><circle cx="507.3" cy="321.2" r="0.69" fill="#ff2a3a" opacity="0.8"/><circle cx="520.7" cy="324.2" r="0.90" fill="#ff2a3a" opacity="0.8"/><circle cx="514.4" cy="319.8" r="0.65" fill="#ff2a3a" opacity="0.8"/><circle cx="518.7" cy="317.1" r="0.76" fill="#ff2a3a" opacity="0.8"/><circle cx="513.6" cy="321.1" r="0.68" fill="#ff2a3a" opacity="0.8"/><circle cx="523.8" cy="317.1" r="0.53" fill="#ff2a3a" opacity="0.8"/><circle cx="515.3" cy="322.8" r="0.51" fill="#ff2a3a" opacity="0.8"/><circle cx="428.1" cy="299.8" r="0.95" fill="#ff2a3a" opacity="0.8"/><circle cx="426.8" cy="292.6" r="0.66" fill="#ff2a3a" opacity="0.8"/><circle cx="422.9" cy="293.5" r="0.95" fill="#ff2a3a" opacity="0.8"/><circle cx="431.3" cy="298.5" r="0.83" fill="#ff2a3a" opacity="0.8"/><circle cx="431.3" cy="293.6" r="1.02" fill="#ff2a3a" opacity="0.8"/><circle cx="425.4" cy="295.7" r="0.54" fill="#ff2a3a" opacity="0.8"/><circle cx="433.7" cy="292.3" r="0.71" fill="#ff2a3a" opacity="0.8"/><circle cx="431.8" cy="299.4" r="0.91" fill="#ff2a3a" opacity="0.8"/><circle cx="434.6" cy="296.9" r="0.75" fill="#ff2a3a" opacity="0.8"/><circle cx="427.2" cy="292.2" r="0.92" fill="#ff2a3a" opacity="0.8"/><circle cx="426.4" cy="297.7" r="0.52" fill="#ff2a3a" opacity="0.8"/><circle cx="423.3" cy="300.9" r="0.84" fill="#ff2a3a" opacity="0.8"/><circle cx="429.6" cy="291.5" r="0.75" fill="#ff2a3a" opacity="0.8"/><circle cx="424.1" cy="296.8" r="0.75" fill="#ff2a3a" opacity="0.8"/><circle cx="419.7" cy="293.0" r="0.95" fill="#ff2a3a" opacity="0.8"/><circle cx="515.7" cy="209.9" r="0.94" fill="#ff2a3a" opacity="0.8"/><circle cx="511.8" cy="213.2" r="1.06" fill="#ff2a3a" opacity="0.8"/><circle cx="511.9" cy="216.0" r="0.83" fill="#ff2a3a" opacity="0.8"/><circle cx="516.0" cy="211.3" r="1.05" fill="#ff2a3a" opacity="0.8"/><circle cx="513.5" cy="210.0" r="0.91" fill="#ff2a3a" opacity="0.8"/><circle cx="514.3" cy="212.5" r="0.62" fill="#ff2a3a" opacity="0.8"/><circle cx="516.0" cy="216.0" r="0.79" fill="#ff2a3a" opacity="0.8"/><circle cx="515.9" cy="210.4" r="0.98" fill="#ff2a3a" opacity="0.8"/><circle cx="516.6" cy="211.7" r="0.96" fill="#ff2a3a" opacity="0.8"/><circle cx="515.1" cy="217.5" r="0.57" fill="#ff2a3a" opacity="0.8"/><circle cx="516.4" cy="213.3" r="0.70" fill="#ff2a3a" opacity="0.8"/><circle cx="515.4" cy="213.3" r="0.72" fill="#ff2a3a" opacity="0.8"/><circle cx="555.5" cy="287.1" r="0.91" fill="#ff2a3a" opacity="0.8"/><circle cx="550.8" cy="287.0" r="0.89" fill="#ff2a3a" opacity="0.8"/><circle cx="552.9" cy="282.6" r="0.95" fill="#ff2a3a" opacity="0.8"/><circle cx="550.5" cy="283.5" r="1.01" fill="#ff2a3a" opacity="0.8"/><circle cx="555.4" cy="284.8" r="0.95" fill="#ff2a3a" opacity="0.8"/><circle cx="553.7" cy="284.8" r="0.76" fill="#ff2a3a" opacity="0.8"/><circle cx="549.9" cy="285.3" r="0.54" fill="#ff2a3a" opacity="0.8"/></g><circle cx="479.3" cy="277.9" r="1.09" fill="#66f050" opacity="0.95"/><circle cx="477.1" cy="276.8" r="1.19" fill="#66f050" opacity="0.95"/>
<line x1="544" y1="348.5" x2="564" y2="348.5" stroke="#ffffff" stroke-width="1"/>
</g>
<rect x="55" y="368" width="165" height="105" fill="#000"/>
<polygon points="64.1,414.0 139.7,461.0 212.4,412.5 212.4,415.5 139.7,464.0 64.1,417.0" stroke="none" fill="#14145a"/>
<clipPath id="q55"><polygon points="64.1,414.0 136.4,378.4 212.4,412.5 139.7,461.0"/></clipPath>
<g clip-path="url(#q55)">
<polygon points="64.1,414.0 136.4,378.4 212.4,412.5 139.7,461.0" fill="#0a0c38"/>
<g filter="url(#blur)"><polygon points="171.4,400.9 173.1,400.0 180.2,401.0 178.5,404.0 172.9,403.3" fill="#2232c8" opacity="0.39"/><polygon points="121.9,383.8 121.0,383.7 118.4,384.7 118.3,385.9 122.2,385.5" fill="#2232c8" opacity="0.59"/><polygon points="200.1,439.4 202.3,436.9 210.3,434.4 214.0,434.6 214.2,434.7 214.0,450.1 206.3,446.1" fill="#2232c8" opacity="0.80"/><polygon points="93.2,401.6 101.3,397.4 100.6,395.4 95.7,394.3 87.4,400.3 89.1,401.0" fill="#2232c8" opacity="0.57"/><polygon points="207.9,390.2 222.2,394.7 242.4,396.8 223.8,368.3 205.6,386.3" fill="#2232c8" opacity="0.42"/><polygon points="134.2,442.3 132.2,445.8 127.3,446.0 123.2,442.3 124.1,441.1 131.1,439.4 132.8,440.1" fill="#2232c8" opacity="0.74"/><polygon points="152.8,376.7 165.1,363.0 176.8,362.6 172.1,374.4 152.9,376.8" fill="#2232c8" opacity="0.38"/><polygon points="184.5,402.5 182.9,405.5 183.8,407.4 186.2,408.3 189.5,408.3 190.8,407.5 190.2,404.6 185.3,402.3" fill="#2232c8" opacity="0.72"/><polygon points="83.2,412.0 83.0,416.3 81.2,417.1 77.7,416.6 77.7,416.6 80.1,411.9 82.0,411.7" fill="#2232c8" opacity="0.48"/><polygon points="172.7,382.3 167.5,384.3 162.6,383.7 162.0,382.4 172.0,381.6" fill="#2232c8" opacity="0.76"/><polygon points="151.4,426.2 152.5,425.1 148.4,422.2 147.1,422.2 145.0,424.7 145.9,425.9" fill="#2232c8" opacity="0.67"/><polygon points="77.0,391.2 58.6,387.2 58.3,385.0 72.8,384.1 83.3,389.1 83.3,389.4" fill="#2232c8" opacity="0.44"/><polygon points="115.0,426.2 108.8,426.9 104.9,421.9 112.3,418.9 116.2,421.3 116.3,425.4" fill="#2232c8" opacity="0.36"/><polygon points="169.5,406.9 173.4,409.1 180.4,408.0 179.2,405.7 172.3,404.8" fill="#2232c8" opacity="0.42"/><polygon points="107.0,399.8 103.0,398.0 94.6,402.4 95.3,402.9 102.6,403.6 106.2,402.1" fill="#2232c8" opacity="0.48"/><polygon points="131.2,386.0 135.0,387.3 137.8,386.5 137.7,384.9 132.2,384.7" fill="#2232c8" opacity="0.75"/><polygon points="152.1,404.1 155.8,405.9 157.8,406.0 159.1,405.5 159.3,402.4 158.1,401.9 152.0,403.2" fill="#2232c8" opacity="0.51"/><polygon points="135.1,406.1 131.6,409.1 125.3,407.2 125.3,405.6 134.0,404.7" fill="#2232c8" opacity="0.44"/><polygon points="74.5,416.1 77.4,410.7 70.7,409.2 69.2,410.0 68.1,413.6" fill="#2232c8" opacity="0.80"/><polygon points="132.3,395.8 130.5,394.3 128.9,394.0 126.2,394.3 124.9,395.7 126.8,397.1 131.8,396.7" fill="#2232c8" opacity="0.80"/><polygon points="190.6,396.1 198.6,394.3 196.7,401.5 192.6,402.3 187.1,399.7" fill="#2232c8" opacity="0.67"/><polygon points="138.1,403.9 138.1,404.0 138.9,404.9 142.4,405.1 145.2,403.9 145.1,403.0 144.6,402.7 141.2,402.3" fill="#2232c8" opacity="0.82"/><polygon points="147.1,386.5 145.6,382.5 142.4,383.1 140.5,384.7 140.7,386.2 144.0,387.1" fill="#2232c8" opacity="0.59"/><polygon points="83.9,373.1 73.7,375.2 55.7,376.3 42.0,368.1 73.8,339.2 94.8,353.8 95.0,364.0" fill="#2232c8" opacity="0.47"/><polygon points="118.1,381.3 112.8,381.8 116.9,384.4 120.8,382.8" fill="#2232c8" opacity="0.66"/><polygon points="130.8,400.8 128.4,400.8 126.7,399.3 127.3,398.2 131.9,397.8 133.2,398.9" fill="#2232c8" opacity="0.38"/><polygon points="124.4,374.1 123.0,371.4 136.0,371.0 136.0,371.3 128.3,374.5" fill="#2232c8" opacity="0.65"/><polygon points="49.1,423.7 41.9,434.4 20.9,442.7 3.8,441.2 43.6,417.8 47.6,419.5" fill="#2232c8" opacity="0.61"/><polygon points="163.4,445.5 164.3,446.1 171.4,444.9 171.0,443.3 164.3,441.3 162.5,443.6" fill="#2232c8" opacity="0.64"/><polygon points="164.0,415.2 159.9,416.7 159.9,417.1 162.0,418.4 167.1,419.1 168.7,418.4 169.0,418.1 169.0,416.5 168.0,415.8" fill="#2232c8" opacity="0.42"/><polygon points="53.4,421.7 62.1,421.8 60.4,417.3 52.1,418.2" fill="#2232c8" opacity="0.65"/><polygon points="131.1,430.3 139.9,430.1 142.4,427.3 141.2,425.4 131.9,424.2 129.9,426.5" fill="#2232c8" opacity="0.32"/><polygon points="162.8,401.4 168.6,401.0 170.5,404.1 167.7,406.3 162.5,406.1" fill="#2232c8" opacity="0.52"/><polygon points="91.5,407.0 91.3,404.8 90.9,404.5 88.1,404.1 85.8,408.2 86.8,408.5 87.9,408.4" fill="#2232c8" opacity="0.52"/><polygon points="107.6,403.2 104.4,404.6 105.3,407.3 111.0,407.0 111.6,405.1" fill="#2232c8" opacity="0.50"/><polygon points="199.9,416.3 198.6,418.1 200.9,420.4 202.3,420.7 207.3,420.1 208.6,418.6 207.2,416.2" fill="#2232c8" opacity="0.75"/><polygon points="127.6,381.5 127.5,379.6 129.8,378.9 131.9,379.1 133.2,380.5 130.3,382.0" fill="#2232c8" opacity="0.83"/><polygon points="120.3,374.0 119.2,371.9 112.0,369.6 114.0,375.3 118.1,375.3" fill="#2232c8" opacity="0.35"/><polygon points="108.7,445.0 117.8,444.0 122.0,447.8 114.3,453.4 104.5,448.7" fill="#2232c8" opacity="0.70"/><polygon points="153.8,442.7 159.4,442.2 161.2,439.9 159.7,438.2 155.8,439.0" fill="#2232c8" opacity="0.43"/><polygon points="162.9,407.6 167.3,407.8 170.8,409.7 168.8,413.1 163.8,412.4 161.1,408.3" fill="#2232c8" opacity="0.75"/><polygon points="184.3,435.9 192.8,437.8 195.3,435.0 190.8,429.5 185.0,430.9 183.8,435.4" fill="#2232c8" opacity="0.63"/><polygon points="125.6,378.4 127.8,377.8 126.6,375.9 123.4,375.5 121.1,376.9 122.6,378.1" fill="#2232c8" opacity="0.66"/><polygon points="181.1,379.4 182.5,380.0 198.4,382.6 217.6,364.3 218.3,355.0 182.5,363.3 178.4,374.5 180.0,378.4" fill="#2232c8" opacity="0.34"/><polygon points="154.2,447.6 156.0,451.7 162.1,450.1 162.5,447.6 161.2,446.8" fill="#2232c8" opacity="0.54"/><polygon points="202.4,407.5 203.5,405.2 211.2,404.7 208.9,409.3" fill="#2232c8" opacity="0.57"/><polygon points="103.8,379.5 92.4,377.0 104.4,366.6 107.7,368.9 110.1,376.2 105.1,379.3" fill="#2232c8" opacity="0.56"/><polygon points="148.3,444.8 148.3,445.4 140.2,449.4 136.4,447.0 138.5,443.2 144.2,442.9" fill="#2232c8" opacity="0.46"/><polygon points="170.0,379.9 168.9,376.8 154.9,378.6 154.9,379.1 159.1,380.7" fill="#2232c8" opacity="0.58"/><polygon points="128.4,385.4 126.6,385.8 125.3,385.4 124.9,383.7 126.6,383.2 128.9,383.7 129.2,384.3" fill="#2232c8" opacity="0.32"/><polygon points="143.2,392.2 141.5,392.8 141.2,394.2 143.0,395.6 146.9,396.3 149.7,395.1 148.6,393.4" fill="#2232c8" opacity="0.38"/><polygon points="67.0,422.1 65.5,421.6 63.6,416.9 67.0,415.5 73.6,418.2 73.6,418.2" fill="#2232c8" opacity="0.81"/><polygon points="141.9,407.0 142.2,410.9 134.0,411.2 133.1,409.5 136.5,406.6" fill="#2232c8" opacity="0.36"/><polygon points="139.0,395.1 134.6,396.3 134.2,397.1 135.5,398.1 137.3,398.3 140.5,396.3" fill="#2232c8" opacity="0.60"/><polygon points="135.2,402.8 138.9,400.9 136.9,399.7 135.2,399.5 133.0,401.2" fill="#2232c8" opacity="0.50"/><polygon points="120.4,378.8 118.4,377.2 112.5,377.1 107.1,380.6 112.4,381.2 117.7,380.8" fill="#2232c8" opacity="0.38"/><polygon points="158.6,408.4 161.6,413.1 155.8,415.2 150.3,412.2 155.6,408.3" fill="#2232c8" opacity="0.73"/><polygon points="97.2,460.1 84.6,461.4 73.0,470.7 81.7,512.8 116.6,490.7 105.7,464.4" fill="#2232c8" opacity="0.50"/><polygon points="194.2,428.3 198.7,433.6 207.6,430.8 203.3,428.6 194.6,427.7" fill="#2232c8" opacity="0.80"/><polygon points="100.0,424.0 102.2,424.1 104.5,427.2 101.7,429.8 100.4,429.8 97.2,425.5" fill="#2232c8" opacity="0.79"/><polygon points="220.5,417.4 221.7,419.5 240.8,424.2 260.8,423.9 220.9,417.0" fill="#2232c8" opacity="0.46"/><polygon points="145.4,398.0 145.2,400.3 141.9,400.0 140.3,399.0 142.8,397.5" fill="#2232c8" opacity="0.83"/><polygon points="148.3,397.3 148.0,401.2 148.9,401.8 158.4,399.8 156.7,396.5 151.5,396.0" fill="#2232c8" opacity="0.54"/><polygon points="167.1,421.1 165.0,424.8 159.4,424.5 160.2,420.2" fill="#2232c8" opacity="0.33"/><polygon points="132.5,368.3 138.8,361.6 108.4,353.7 109.3,364.0 112.4,366.0 120.6,368.7" fill="#2232c8" opacity="0.49"/><polygon points="198.9,422.4 200.5,422.9 202.8,427.1 194.1,426.1 193.8,425.2" fill="#2232c8" opacity="0.47"/><polygon points="95.3,407.3 95.1,404.1 102.0,404.9 102.9,407.6 102.8,407.7 97.2,408.1" fill="#2232c8" opacity="0.56"/><polygon points="102.0,393.2 97.7,392.2 95.8,390.8 95.8,390.4 102.9,386.8 106.6,388.6 106.3,391.6" fill="#2232c8" opacity="0.57"/><polygon points="163.0,399.5 167.5,399.2 169.1,398.4 168.2,396.2 165.5,395.2 162.7,395.3 160.3,396.6 161.6,399.0" fill="#2232c8" opacity="0.58"/><polygon points="174.0,418.5 184.6,420.0 185.6,418.4 181.9,415.7 174.0,416.4" fill="#2232c8" opacity="0.65"/><polygon points="62.5,425.1 61.3,424.7 54.4,424.6 49.9,431.6 54.7,430.8 62.6,426.0" fill="#2232c8" opacity="0.66"/><polygon points="134.3,419.1 139.6,419.3 142.3,420.6 140.0,423.2 133.8,422.4 133.2,420.6" fill="#2232c8" opacity="0.66"/><polygon points="105.1,412.5 112.5,414.1 114.5,413.0 114.9,410.6 111.7,408.4 105.6,408.7 105.5,408.8" fill="#2232c8" opacity="0.65"/><polygon points="-4.3,451.3 -64.0,453.0 -81.5,455.8 -14.5,613.6 49.8,530.8 43.1,470.2 12.1,452.9" fill="#2232c8" opacity="0.52"/><polygon points="123.1,395.4 124.5,393.9 121.8,391.4 119.8,391.3 115.4,392.9 117.9,395.7" fill="#2232c8" opacity="0.79"/><polygon points="131.6,432.4 133.5,436.6 135.3,437.4 141.9,434.4 141.9,434.1 139.4,431.7 132.2,431.8" fill="#2232c8" opacity="0.46"/><polygon points="95.8,412.5 99.5,413.8 96.2,417.4 90.2,416.2 92.6,413.1" fill="#2232c8" opacity="0.62"/><polygon points="70.2,423.1 75.2,420.0 78.4,420.5 79.6,422.8 74.1,425.2 70.3,424.0" fill="#2232c8" opacity="0.52"/><polygon points="86.5,398.6 92.4,394.4 90.9,393.2 84.4,395.1 85.8,398.6" fill="#2232c8" opacity="0.57"/><polygon points="3.3,434.5 -39.6,435.7 26.4,409.9 31.2,414.4 31.6,418.2" fill="#2232c8" opacity="0.38"/><polygon points="156.6,389.0 157.1,388.8 164.7,389.0 166.3,390.1 164.8,393.0 161.4,393.2 156.6,389.0" fill="#2232c8" opacity="0.47"/><polygon points="167.0,393.6 170.5,394.9 178.2,392.7 175.2,390.2 168.5,390.4" fill="#2232c8" opacity="0.68"/><polygon points="132.9,403.9 132.8,404.0 126.1,404.7 125.8,404.3 128.4,402.2 130.6,402.2" fill="#2232c8" opacity="0.46"/><polygon points="152.6,389.0 149.2,388.3 146.6,388.9 145.7,390.7 149.7,391.5 152.6,389.0" fill="#2232c8" opacity="0.49"/><polygon points="155.2,390.1 159.6,393.9 156.8,395.3 152.5,394.8 151.5,393.2" fill="#2232c8" opacity="0.31"/><polygon points="89.3,426.0 87.2,430.0 92.3,433.0 97.4,431.8 93.0,425.7" fill="#2232c8" opacity="0.41"/><polygon points="35.2,445.2 57.5,456.8 68.9,448.4 69.2,445.7 65.1,439.9 54.3,438.6 49.2,439.4" fill="#2232c8" opacity="0.38"/><polygon points="152.3,430.8 145.7,432.6 143.5,430.5 145.2,428.4 151.4,428.8" fill="#2232c8" opacity="0.63"/><polygon points="148.7,374.4 157.9,364.5 146.8,364.1 141.6,370.0 141.7,370.3 143.6,372.5" fill="#2232c8" opacity="0.67"/><polygon points="186.2,423.3 190.0,425.6 190.3,426.5 189.9,427.1 184.4,428.4 180.8,426.1 181.0,425.2" fill="#2232c8" opacity="0.49"/><polygon points="129.3,390.6 125.9,389.8 122.8,391.1 125.5,393.6 128.6,393.2" fill="#2232c8" opacity="0.81"/><polygon points="183.4,439.7 190.3,441.3 196.0,447.7 180.9,446.8 179.0,444.8 178.6,443.3" fill="#2232c8" opacity="0.56"/><polygon points="155.5,418.3 150.6,420.7 155.9,424.3 157.3,424.0 158.2,420.0" fill="#2232c8" opacity="0.49"/><polygon points="150.3,443.3 146.7,441.6 148.6,438.7 152.8,439.3 150.7,443.0" fill="#2232c8" opacity="0.83"/><polygon points="171.7,420.7 176.6,424.5 176.4,425.5 169.9,426.8 167.5,425.1 169.5,421.6" fill="#2232c8" opacity="0.81"/><polygon points="93.6,408.5 89.2,410.3 92.5,411.9 94.9,411.4 95.2,409.3" fill="#2232c8" opacity="0.66"/><polygon points="119.1,440.0 118.1,441.3 108.8,442.2 108.4,436.4 116.9,435.7" fill="#2232c8" opacity="0.74"/><polygon points="76.9,427.4 77.7,430.1 83.5,429.1 85.3,425.8 82.6,424.9" fill="#2232c8" opacity="0.32"/><polygon points="139.2,394.1 134.1,395.5 132.2,393.8 136.3,391.9 139.4,392.6" fill="#2232c8" opacity="0.79"/><polygon points="87.2,411.8 86.1,411.9 86.0,415.5 88.4,415.1 89.9,413.1" fill="#2232c8" opacity="0.78"/><polygon points="157.3,430.3 161.2,432.4 166.2,430.8 166.4,428.2 164.1,426.5 159.1,426.3 157.7,426.6 156.3,428.1" fill="#2232c8" opacity="0.34"/><polygon points="118.8,427.8 121.2,431.5 126.9,430.6 127.4,430.1 126.5,427.5 119.7,427.2" fill="#2232c8" opacity="0.39"/><polygon points="182.7,391.9 189.6,393.3 197.3,391.6 198.9,391.0 196.9,387.3 182.4,384.9 180.3,389.8" fill="#2232c8" opacity="0.85"/><polygon points="150.0,447.7 142.7,451.4 147.3,459.3 153.1,452.1 151.8,449.0" fill="#2232c8" opacity="0.68"/><polygon points="195.0,407.3 194.3,404.5 197.9,403.8 200.1,404.9 199.1,407.0" fill="#2232c8" opacity="0.37"/><polygon points="118.4,425.5 118.3,421.3 129.4,420.8 130.1,423.6 128.1,425.9" fill="#2232c8" opacity="0.79"/><polygon points="166.2,449.9 171.8,452.5 174.5,449.2 172.6,447.3 166.5,448.4" fill="#2232c8" opacity="0.44"/><polygon points="85.2,402.8 83.6,402.1 82.8,402.0 74.8,403.4 73.3,407.1 79.9,408.5 82.0,408.3" fill="#2232c8" opacity="0.71"/><polygon points="197.2,409.7 201.3,409.3 207.3,411.0 207.7,411.7 207.4,413.0 206.8,413.5 199.8,413.6 195.9,410.6" fill="#2232c8" opacity="0.33"/><polygon points="67.1,427.4 58.5,432.7 69.9,434.0 72.1,431.6 71.3,428.8" fill="#2232c8" opacity="0.61"/><polygon points="138.3,453.8 144.1,464.0 145.4,491.2 136.0,495.1 118.6,458.0 127.9,451.2 134.0,451.0" fill="#2232c8" opacity="0.31"/><polygon points="154.7,387.5 155.2,387.3 157.2,384.5 156.3,382.5 151.0,380.5 148.4,381.9 150.2,386.6" fill="#2232c8" opacity="0.63"/><polygon points="76.8,398.5 69.7,399.6 53.5,391.8 53.9,389.9 75.4,394.5" fill="#2232c8" opacity="0.55"/><polygon points="53.0,415.6 50.5,414.6 49.9,411.4 62.2,411.3 61.4,414.0 58.9,415.0" fill="#2232c8" opacity="0.57"/><polygon points="133.2,389.6 133.9,388.1 129.7,386.6 127.1,387.2 126.8,389.2 129.9,389.9" fill="#2232c8" opacity="0.47"/><polygon points="116.7,400.9 117.0,402.6 113.2,403.9 109.3,402.0 109.9,400.0 114.2,399.6" fill="#2232c8" opacity="0.67"/><polygon points="148.8,414.3 152.5,416.4 152.4,416.8 148.6,418.7 147.4,418.7 144.8,417.5 147.2,414.3" fill="#2232c8" opacity="0.53"/><polygon points="97.9,409.6 102.5,409.3 102.2,412.3 100.3,412.6 97.6,411.7" fill="#2232c8" opacity="0.43"/><polygon points="224.5,413.5 268.5,412.3 300.3,424.8 278.9,424.5 224.2,415.1" fill="#2232c8" opacity="0.32"/><polygon points="129.8,410.2 124.5,408.6 119.3,410.8 119.0,412.9 128.7,413.8 130.6,411.6" fill="#2232c8" opacity="0.70"/><polygon points="141.0,412.7 135.0,412.9 133.5,414.8 134.6,416.4 139.9,416.6 142.4,413.2" fill="#2232c8" opacity="0.32"/><polygon points="168.7,389.3 175.2,389.1 177.8,383.3 176.4,382.7 168.6,385.7 167.1,388.2" fill="#2232c8" opacity="0.77"/><polygon points="185.9,454.9 182.9,458.8 183.5,482.0 231.5,479.7 210.7,460.2 202.7,455.9" fill="#2232c8" opacity="0.77"/><polygon points="114.2,391.6 111.0,391.3 111.2,388.7 115.5,388.2 117.2,390.6" fill="#2232c8" opacity="0.41"/><polygon points="180.3,434.5 181.7,429.7 177.7,427.1 170.8,428.5 170.7,431.5" fill="#2232c8" opacity="0.37"/><polygon points="123.6,398.8 119.1,399.6 116.9,398.5 118.7,396.8 122.6,396.6 124.2,397.8" fill="#2232c8" opacity="0.66"/><polygon points="149.8,436.4 147.7,434.8 147.7,434.6 154.3,432.8 157.8,434.7 157.4,436.2 153.7,436.9" fill="#2232c8" opacity="0.30"/><polygon points="101.7,381.6 89.3,378.7 76.8,381.4 93.1,389.0 101.7,384.7" fill="#2232c8" opacity="0.48"/><polygon points="143.6,440.7 138.8,440.9 137.6,438.9 143.3,436.3 145.4,437.9" fill="#2232c8" opacity="0.58"/><polygon points="84.3,431.4 76.2,432.8 73.3,436.1 79.3,444.1 90.0,434.9" fill="#2232c8" opacity="0.53"/><polygon points="124.5,400.1 126.2,401.6 123.4,403.8 119.8,402.7 119.5,401.0" fill="#2232c8" opacity="0.73"/><polygon points="115.7,386.5 109.5,387.1 104.9,384.9 104.9,381.7 106.3,381.4 111.8,382.0 115.8,384.7 115.7,386.5" fill="#2232c8" opacity="0.64"/><polygon points="204.0,393.0 219.5,398.0 212.1,402.7 203.0,403.2 200.1,401.9 202.1,393.7" fill="#2232c8" opacity="0.43"/><polygon points="174.2,396.1 179.6,394.6 185.4,395.8 182.4,398.8 181.7,399.0 175.1,398.2" fill="#2232c8" opacity="0.36"/><polygon points="118.7,404.4 121.8,405.3 122.1,405.7 122.0,406.9 117.5,408.8 114.9,407.1 115.4,405.5" fill="#2232c8" opacity="0.43"/><polygon points="104.0,443.0 103.6,436.4 100.9,434.6 99.0,434.5 93.1,435.9 82.6,445.2 82.3,449.0 99.1,447.3" fill="#2232c8" opacity="0.82"/><polygon points="152.4,444.8 152.4,445.3 153.9,446.4 158.4,445.9 157.6,444.2 152.8,444.6" fill="#2232c8" opacity="0.66"/><polygon points="67.9,407.4 69.8,402.8 47.4,392.0 39.0,402.3 46.1,408.4 66.1,408.3" fill="#2232c8" opacity="0.81"/><polygon points="214.3,423.1 218.8,429.3 219.0,429.3 236.6,427.1 215.5,421.8" fill="#2232c8" opacity="0.62"/><polygon points="163.7,435.0 169.2,433.2 178.8,436.2 179.2,436.7 173.1,441.2 165.1,438.8 163.2,436.9" fill="#2232c8" opacity="0.31"/><polygon points="190.8,412.0 187.9,412.0 186.1,414.7 188.7,416.5 193.0,416.1 194.1,414.6" fill="#2232c8" opacity="0.70"/><polygon points="148.2,405.7 144.5,407.3 144.8,410.6 146.4,411.3 148.4,411.3 152.9,408.0" fill="#2232c8" opacity="0.67"/><polygon points="175.1,419.9 182.7,420.9 182.9,421.6 178.7,423.1 174.9,420.2" fill="#2232c8" opacity="0.41"/><polygon points="214.7,409.5 217.3,404.2 224.5,399.6 246.5,401.9 262.7,409.1 215.3,410.4" fill="#2232c8" opacity="0.51"/><polygon points="204.0,423.6 206.2,427.6 210.5,429.7 214.5,430.0 209.4,422.9" fill="#2232c8" opacity="0.72"/><polygon points="18.0,396.0 11.9,402.6 -45.7,424.0 -56.4,425.6 -107.0,412.0 8.5,384.6 18.7,391.9 18.6,394.3" fill="#2232c8" opacity="0.36"/><polygon points="113.1,397.8 109.0,398.2 105.5,396.7 104.9,394.9 109.2,393.3 113.0,393.7 115.0,396.0" fill="#2232c8" opacity="0.66"/><polygon points="145.6,380.3 147.7,379.1 147.7,378.6 147.6,378.5 142.2,376.4 137.0,378.7 138.3,380.0 142.5,380.9" fill="#2232c8" opacity="0.58"/><polygon points="125.4,381.9 125.4,379.7 121.8,379.3 119.4,381.1 121.9,382.4 123.0,382.6" fill="#2232c8" opacity="0.78"/><polygon points="158.4,387.7 159.9,385.4 165.3,386.1 164.2,387.9" fill="#2232c8" opacity="0.70"/><polygon points="102.0,415.1 99.7,417.7 101.2,419.6 103.6,419.7 108.9,417.6 109.4,416.0 103.8,414.8" fill="#2232c8" opacity="0.56"/><polygon points="187.5,421.8 191.7,424.3 197.4,421.3 194.6,418.5 188.4,419.1 187.3,420.8" fill="#2232c8" opacity="0.47"/><polygon points="124.6,389.1 121.9,390.2 120.2,390.2 118.0,387.3 118.0,387.3 123.1,386.8 124.8,387.3" fill="#2232c8" opacity="0.45"/><polygon points="129.2,417.7 127.9,415.7 117.5,414.7 115.6,415.7 115.0,417.8 118.4,419.9 127.8,419.5" fill="#2232c8" opacity="0.57"/><polygon points="161.7,456.2 168.6,459.5 168.0,483.9 152.6,486.9 151.1,465.1 156.9,457.5" fill="#2232c8" opacity="0.37"/><polygon points="172.9,413.7 174.1,414.6 180.7,414.0 182.9,410.8 180.4,409.8 174.6,410.6" fill="#2232c8" opacity="0.73"/><polygon points="113.8,428.9 109.6,429.4 106.4,432.4 108.4,433.7 115.2,433.1 116.1,432.5" fill="#2232c8" opacity="0.73"/><polygon points="84.9,422.5 88.6,423.8 92.6,423.4 97.1,421.2 95.1,418.5 89.3,417.4 85.6,418.0 83.2,419.2" fill="#2232c8" opacity="0.81"/><polygon points="142.6,388.7 139.1,387.7 136.3,388.5 135.6,389.9 137.2,390.9 139.9,391.5 141.5,391.0" fill="#2232c8" opacity="0.58"/><polygon points="134.9,391.6 131.4,393.2 130.0,392.9 130.6,390.8 133.5,390.6" fill="#2232c8" opacity="0.60"/><polygon points="131.9,383.9 131.4,383.0 135.0,381.1 140.6,382.2 138.3,384.2" fill="#2232c8" opacity="0.61"/><polygon points="139.1,375.0 136.9,372.3 129.7,375.3 131.0,377.4 133.2,377.6" fill="#2232c8" opacity="0.73"/><polygon points="127.3,433.1 128.9,436.9 122.4,438.4 120.4,434.7 121.4,434.0" fill="#2232c8" opacity="0.31"/></g><path d="M73.6 329.9Q52.1 348.2 26.8 370.3M-192.7 420.2Q-74.8 394.0 26.8 370.3M-23.4 706.0Q-18.5 686.0 -16.2 674.2M-16.2 674.2Q-70.6 528.9 -99.7 449.2M-192.7 420.2Q-147.2 433.7 -99.7 449.2M318.1 427.7Q296.0 417.0 272.4 410.1M251.2 400.8Q260.5 405.5 272.4 410.1M251.2 400.8Q236.4 380.3 224.9 362.1M225.4 350.4Q226.1 356.2 224.9 362.1M73.6 329.9Q87.8 339.0 103.5 349.6M26.8 370.3Q37.8 376.0 46.4 382.7M46.4 382.7Q59.9 381.1 73.3 381.1M103.5 349.6Q103.0 356.7 104.5 364.2M73.3 381.1Q79.2 378.8 88.6 377.8M104.5 364.2Q97.6 370.3 88.6 377.8M-77.5 445.8Q-14.9 422.2 36.0 402.1M-77.5 445.8Q-37.8 444.1 -2.8 443.6M36.0 402.1Q40.0 405.1 44.3 409.3M44.3 409.3Q46.2 413.1 45.3 415.5M45.3 415.5Q20.0 429.5 -2.8 443.6M57.9 467.1Q70.4 459.9 78.5 451.3M57.9 467.1Q35.6 456.3 17.9 445.6M78.5 451.3Q81.9 450.7 78.9 446.4M78.9 446.4Q74.1 441.7 71.3 436.2M52.2 434.0Q62.1 434.3 71.3 436.2M52.2 434.0Q48.6 434.7 43.3 435.4M43.3 435.4Q30.8 440.8 17.9 445.6M-16.2 674.2Q36.8 600.2 70.8 548.0M-99.7 449.2Q-89.4 447.3 -77.5 445.8M70.8 548.0Q65.2 503.6 57.9 467.1M17.9 445.6Q8.1 444.7 -2.8 443.6M136.4 503.4Q108.3 521.0 70.8 548.0M136.4 503.4Q141.7 502.0 148.3 498.3M253.0 489.6Q213.8 492.2 172.9 493.5M148.3 498.3Q162.7 495.1 172.9 493.5M318.1 427.7Q303.5 427.9 287.5 427.3M253.0 489.6Q234.9 472.3 217.6 457.5M217.6 457.5Q218.1 444.8 217.6 431.7M217.6 431.7Q231.7 429.2 248.4 427.8M287.5 427.3Q267.9 426.9 248.4 427.8M103.5 349.6Q124.7 355.3 146.9 360.7M104.5 364.2Q106.1 365.9 108.9 367.1M108.9 367.1Q113.1 368.9 120.9 371.1M146.9 360.7Q144.1 365.9 138.1 370.5M120.9 371.1Q129.8 371.5 138.1 370.5M108.9 367.1Q112.5 371.9 112.0 376.7M112.0 376.7Q114.4 376.9 119.1 376.8M120.9 371.1Q123.1 372.2 122.8 374.6M119.1 376.8Q121.6 376.0 122.8 374.6M138.1 371.0Q138.2 370.3 138.1 370.5M138.1 371.0Q133.5 373.4 127.8 375.2M127.8 375.2Q125.1 374.6 122.8 374.6M78.9 446.4Q88.1 440.2 92.4 434.7M75.1 432.1Q72.6 434.0 71.3 436.2M75.1 432.1Q79.3 429.4 85.3 430.3M92.4 434.7Q88.6 432.1 85.3 430.3M46.4 382.7Q46.7 385.4 46.8 386.9M36.0 402.1Q43.6 397.0 46.0 390.0M46.8 386.9Q46.6 388.7 46.0 390.0M44.3 409.3Q55.6 410.4 67.9 409.2M72.3 402.8Q58.6 396.5 46.0 390.0M72.3 402.8Q73.6 405.3 70.1 408.1M67.9 409.2Q70.7 409.0 70.1 408.1M225.4 350.4Q202.1 355.4 179.5 360.8M146.9 360.7Q155.7 361.7 165.3 361.4M179.5 360.8Q173.6 360.4 165.3 361.4M217.6 431.7Q217.3 431.5 217.3 431.7M248.4 427.8Q228.2 421.9 211.7 418.6M217.3 431.7Q215.5 426.3 209.6 421.0M211.7 418.6Q209.2 419.7 209.6 421.0M217.3 431.7Q214.4 432.3 211.2 431.2M204.9 428.1Q208.3 428.3 211.2 431.2M204.9 428.1Q202.3 425.9 201.6 422.0M209.6 421.0Q206.8 421.7 201.6 422.0M204.9 428.1Q199.1 428.2 192.4 426.8M211.2 431.2Q204.0 431.8 198.2 435.4M198.2 435.4Q195.5 431.9 191.7 427.6M192.4 426.8Q192.3 426.5 191.7 427.6M217.6 457.5Q208.6 454.8 204.7 450.7M198.2 435.4Q194.8 437.9 194.5 439.4M204.7 450.7Q199.8 443.9 194.5 439.4M172.9 493.5Q171.8 472.3 173.2 455.2M173.2 455.2Q176.0 451.1 178.1 449.0M204.7 450.7Q192.7 451.7 178.1 449.0M201.6 422.0Q201.6 421.9 199.3 421.4M192.4 426.8Q192.2 428.0 191.9 425.4M191.9 425.4Q197.0 422.4 199.3 421.4M126.3 447.9Q122.3 444.9 119.9 442.2M126.3 447.9Q120.3 450.3 114.8 456.3M119.9 442.2Q115.5 443.9 106.3 443.6M114.8 456.3Q109.6 453.8 100.0 449.1M100.0 449.1Q103.1 446.2 106.3 443.6M136.4 503.4Q125.9 477.3 114.8 456.3M78.5 451.3Q89.2 449.9 100.0 449.1M92.4 434.7Q94.8 434.3 99.8 432.9M99.8 432.9Q102.9 433.1 102.3 433.0M102.3 433.0Q104.4 434.3 105.8 435.3M105.8 435.3Q105.1 439.8 106.3 443.6M79.7 410.2Q77.6 414.0 75.7 418.0M79.7 410.2Q75.3 409.3 70.1 408.1M67.9 409.2Q69.1 411.5 66.5 414.3M66.5 414.3Q70.7 415.3 75.7 418.0M99.8 432.9Q96.0 429.0 93.5 424.2M85.3 430.3Q87.7 427.8 88.3 424.7M93.5 424.2Q89.4 425.5 88.3 424.7M102.3 433.0Q105.2 430.1 108.0 427.7M108.0 427.7Q105.2 425.1 103.3 421.5M103.3 421.5Q101.6 421.8 99.1 421.4M93.5 424.2Q93.7 423.4 99.1 421.4M148.3 498.3Q149.4 479.0 146.4 463.6M146.4 463.6Q141.7 457.5 139.2 451.1M126.3 447.9Q130.4 449.5 133.9 447.6M133.9 447.6Q139.0 449.0 139.2 451.1M173.2 455.2Q169.7 452.3 162.6 450.4M178.1 449.0Q178.4 446.8 174.6 445.4M174.6 445.4Q170.4 445.5 163.1 447.4M163.1 447.4Q162.3 448.6 162.6 450.4M146.4 463.6Q149.0 457.1 155.4 452.2M155.4 452.2Q162.0 451.3 162.6 450.4M210.3 413.9Q211.6 414.5 209.4 414.8M210.3 413.9Q211.4 413.0 210.9 411.8M209.4 414.8Q202.6 415.5 197.8 414.9M210.9 411.8Q208.6 411.8 210.1 410.6M210.1 410.6Q204.8 409.3 200.2 407.9M197.8 414.9Q195.2 413.6 191.4 410.0M200.2 407.9Q197.3 407.5 193.5 408.5M191.4 410.0Q191.2 409.6 193.5 408.5M287.5 427.3Q246.4 418.9 210.3 413.9M211.7 418.6Q211.2 416.2 209.4 414.8M272.4 410.1Q242.7 411.6 210.9 411.8M199.3 421.4Q197.3 419.4 195.7 417.7M195.7 417.7Q196.2 414.9 197.8 414.9M251.2 400.8Q237.3 398.2 222.9 397.8M222.9 397.8Q219.5 401.8 213.6 403.8M213.6 403.8Q215.8 406.1 210.1 410.6M213.6 403.8Q205.1 403.6 201.9 404.5M201.9 404.5Q201.5 406.1 200.2 407.9M182.5 415.0Q184.6 417.0 187.5 418.6M182.5 415.0Q184.7 413.2 185.9 410.0M185.9 410.0Q188.5 409.9 191.4 410.0M187.5 418.6Q190.3 419.4 195.7 417.7M192.4 403.9Q192.8 407.2 193.5 408.5M192.4 403.9Q193.5 402.4 198.3 402.7M198.3 402.7Q198.8 403.2 201.9 404.5M169.0 428.0Q170.0 429.9 168.8 432.0M169.0 428.0Q173.9 426.0 178.2 426.1M183.5 429.5Q180.0 426.8 178.2 426.1M183.5 429.5Q182.8 432.4 181.7 435.9M168.8 432.0Q175.6 433.8 181.7 435.9M194.5 439.4Q189.1 437.2 182.4 436.7M174.6 445.4Q175.9 445.0 174.1 442.8M174.1 442.8Q177.8 439.4 182.4 436.7M191.7 427.6Q187.0 429.1 183.5 429.5M181.7 435.9Q182.9 436.7 182.4 436.7M178.2 426.1Q179.1 425.9 178.5 424.7M191.9 425.4Q190.7 424.7 186.3 422.1M178.5 424.7Q183.2 423.8 186.3 422.1M187.5 418.6Q185.9 418.8 186.1 420.8M186.1 420.8Q186.7 420.7 186.3 422.1M224.9 362.1Q212.1 372.4 200.2 386.1M222.9 397.8Q209.8 394.6 203.3 391.5M200.2 386.1Q200.2 389.4 203.3 391.5M198.3 402.7Q198.7 397.1 200.9 392.4M200.9 392.4Q201.3 391.9 203.3 391.5M73.3 381.1Q84.3 385.6 93.2 390.3M88.6 377.8Q96.9 379.6 103.8 381.2M93.2 390.3Q100.6 387.2 103.8 385.1M103.8 385.1Q102.5 383.6 103.8 381.2M112.0 376.7Q109.3 379.2 105.5 380.8M105.5 380.8Q105.8 381.2 103.8 381.2M168.8 432.0Q165.3 434.8 161.3 434.4M163.2 439.5Q169.6 441.8 174.1 442.8M163.2 439.5Q161.5 437.4 160.7 436.9M160.7 436.9Q161.0 436.5 161.3 434.4M105.8 435.3Q112.3 433.6 118.1 434.2M119.9 442.2Q117.5 440.8 121.3 440.4M118.1 434.2Q118.1 437.4 121.3 440.4M112.4 418.0Q115.0 419.9 117.1 420.9M112.4 418.0Q111.4 416.2 113.3 415.2M113.3 415.2Q114.2 414.6 115.9 413.7M115.9 413.7Q123.4 414.3 130.3 415.1M117.1 420.9Q124.0 421.0 130.2 420.4M130.3 415.1Q130.0 416.1 132.2 417.8M130.2 420.4Q132.8 420.1 132.2 417.8M146.1 420.4Q145.4 420.9 141.5 418.2M146.1 420.4Q144.4 423.4 142.2 425.0M141.5 418.2Q135.3 418.8 132.2 417.8M142.2 425.0Q136.8 423.0 131.1 423.6M131.1 423.6Q130.3 422.5 130.2 420.4M61.8 416.2Q62.3 418.5 64.3 422.7M61.8 416.2Q54.9 417.6 50.1 417.5M64.3 422.7Q59.0 422.8 51.9 422.5M50.1 417.5Q51.3 420.4 51.9 422.5M45.3 415.5Q48.0 415.3 50.1 417.5M66.5 414.3Q65.7 415.1 61.8 416.2M43.3 435.4Q48.8 427.9 51.9 422.5M75.7 418.0Q71.2 420.7 66.5 423.5M75.7 418.0Q78.9 419.1 81.5 418.8M81.5 418.8Q81.9 420.3 83.6 423.0M83.6 423.0Q78.1 424.5 73.7 427.3M73.7 427.3Q67.7 426.5 66.7 425.1M66.7 425.1Q66.7 424.4 66.5 423.5M75.7 418.0Q76.0 418.3 75.7 418.0M64.3 422.7Q66.5 421.5 66.5 423.5M99.1 421.4Q98.5 419.6 96.5 418.0M88.3 424.7Q84.4 424.2 83.6 423.0M84.6 417.4Q87.2 416.9 89.3 416.6M84.6 417.4Q82.9 418.9 81.5 418.8M96.5 418.0Q93.6 417.5 89.3 416.6M75.1 432.1Q75.0 428.2 73.7 427.3M52.2 434.0Q60.9 429.2 66.7 425.1M133.9 447.6Q134.5 445.4 136.8 442.3M121.3 440.4Q125.2 438.7 132.1 437.9M132.1 437.9Q133.4 437.5 134.7 438.9M134.7 438.9Q134.6 442.3 136.8 442.3M163.1 447.4Q162.3 447.5 161.6 446.4M163.2 439.5Q161.6 441.1 160.3 443.3M160.3 443.3Q157.9 443.6 161.6 446.4M155.4 452.2Q152.8 449.4 153.3 447.4M161.6 446.4Q157.1 446.1 153.3 447.4M139.2 451.1Q144.4 448.7 150.6 445.4M153.3 447.4Q150.1 446.7 150.6 445.4M182.5 415.0Q177.2 415.9 172.0 415.9M186.1 420.8Q178.6 420.9 172.0 418.8M172.0 415.9Q171.4 417.2 172.0 418.8M148.4 420.4Q153.2 419.0 155.5 416.9M148.4 420.4Q152.2 421.8 156.0 425.6M156.0 425.6Q158.3 424.7 158.2 425.1M158.2 425.1Q158.8 421.0 159.3 419.3M159.3 419.3Q157.1 418.2 155.5 416.9M165.7 425.5Q160.4 425.8 158.2 425.1M165.7 425.5Q168.9 423.1 168.5 420.6M159.3 419.3Q164.7 419.8 168.5 420.6M165.7 425.5Q169.0 428.0 169.0 428.0M178.5 424.7Q172.7 422.1 171.6 419.4M168.5 420.6Q169.6 420.5 171.6 419.4M171.6 419.4Q172.1 419.7 172.0 418.8M116.8 384.8Q113.7 384.1 112.0 381.6M116.8 384.8Q118.8 385.4 116.7 386.9M103.8 385.1Q105.8 386.2 109.3 387.6M112.0 381.6Q108.4 380.2 105.5 380.8M109.3 387.6Q111.1 386.9 116.6 386.9M116.7 386.9Q117.9 387.6 116.6 386.9M185.9 410.0Q184.6 409.9 182.0 408.4M192.4 403.9Q187.0 402.2 184.4 400.1M182.0 408.4Q181.8 407.6 180.5 405.3M180.5 405.3Q180.5 403.0 183.2 400.5M184.4 400.1Q185.2 400.9 183.2 400.5M200.9 392.4Q196.9 394.3 189.5 394.9M184.4 400.1Q187.0 397.2 189.5 394.9M93.3 390.9Q95.2 391.3 96.1 393.1M93.3 390.9Q86.6 393.1 81.4 394.4M96.1 393.1Q88.4 397.1 85.1 400.9M81.4 394.4Q81.9 397.9 83.9 400.8M83.9 400.8Q86.3 400.9 85.1 400.9M93.2 390.3Q93.2 390.8 93.3 390.9M46.8 386.9Q62.5 390.1 81.4 394.4M72.3 402.8Q77.9 401.3 83.9 400.8M144.4 434.1Q150.1 431.9 155.5 431.1M144.4 434.1Q141.9 433.1 140.7 430.7M140.7 430.7Q140.4 428.6 143.7 427.3M143.7 427.3Q150.0 427.2 153.9 427.8M153.9 427.8Q155.0 429.4 155.5 431.1M146.1 420.4Q144.1 419.3 148.4 420.4M156.0 425.6Q154.0 426.8 153.9 427.8M142.2 425.0Q142.0 425.3 143.7 427.3M161.3 434.4Q158.8 432.5 155.5 431.1M128.7 426.4Q130.1 427.4 130.2 430.8M128.7 426.4Q123.1 426.2 117.2 425.8M119.6 433.1Q126.2 432.8 129.3 431.7M119.6 433.1Q116.7 429.0 115.6 426.8M130.2 430.8Q129.4 429.3 129.3 431.7M117.2 425.8Q118.1 426.7 115.6 426.8M131.1 423.6Q129.3 425.3 128.7 426.4M140.7 430.7Q134.3 430.2 130.2 430.8M117.1 420.9Q116.6 422.7 117.2 425.8M118.1 434.2Q119.7 433.8 119.6 433.1M132.1 437.9Q133.0 434.9 129.3 431.7M108.0 427.7Q112.7 427.3 115.6 426.8M134.7 438.9Q139.3 436.8 144.4 434.5M144.4 434.5Q145.9 434.3 144.4 434.1M103.3 421.5Q108.3 419.5 112.4 418.0M154.5 438.1Q151.0 436.5 147.8 437.3M154.5 438.1Q152.6 441.6 151.2 444.2M147.8 437.3Q146.2 438.2 144.8 441.9M144.8 441.9Q145.5 443.1 150.6 444.5M151.2 444.2Q152.4 444.4 150.6 444.5M160.7 436.9Q161.3 437.9 154.5 438.1M144.4 434.5Q144.8 436.5 147.8 437.3M160.3 443.3Q154.1 443.4 151.2 444.2M136.8 442.3Q140.3 441.7 144.8 441.9M150.6 445.4Q150.3 444.7 150.6 444.5M109.3 387.6Q108.4 390.7 108.9 392.2M96.1 393.1Q99.4 393.4 102.5 394.5M108.9 392.2Q102.1 393.3 102.5 394.5M138.1 371.0Q139.0 373.5 141.3 374.8M127.8 375.2Q129.3 376.5 129.7 378.2M129.7 378.2Q129.4 377.4 132.9 378.5M132.9 378.5Q136.9 376.3 141.3 374.8M165.3 361.4Q157.1 369.2 150.1 378.1M141.3 374.8Q144.8 377.4 150.1 378.1M174.0 375.3Q161.6 376.3 150.3 378.3M174.0 375.3Q175.3 368.2 179.5 360.8M150.3 378.3Q151.2 378.1 150.1 378.1M116.8 384.8Q119.9 384.1 121.6 382.8M112.0 381.6Q114.7 380.9 118.3 381.1M121.6 382.8Q120.4 381.7 118.3 381.1M119.1 376.8Q120.5 378.5 121.5 378.7M118.3 381.1Q119.1 379.2 121.5 378.7M129.7 378.2Q128.6 378.5 126.2 379.2M121.5 378.7Q123.2 378.9 126.2 379.2M116.7 386.9Q118.3 386.4 123.8 386.2M121.6 382.8Q122.9 383.0 123.1 383.0M123.8 386.2Q123.3 384.8 123.1 383.0M132.9 378.5Q133.3 379.6 134.9 380.6M134.9 380.6Q133.4 381.8 130.4 383.0M126.2 379.2Q126.9 380.0 126.2 382.1M130.4 383.0Q128.4 382.4 126.2 382.1M123.1 383.0Q125.7 382.9 126.2 382.1M116.6 386.9Q117.8 388.4 119.7 390.9M108.9 392.2Q110.8 392.4 114.5 392.8M119.7 390.9Q116.3 391.7 114.5 392.8M134.9 380.6Q137.8 381.5 141.8 382.0M150.2 379.2Q148.1 379.7 146.9 381.1M150.2 379.2Q150.3 378.7 150.3 378.3M141.8 382.0Q145.1 381.3 146.9 381.1M167.7 385.6Q173.2 383.6 177.4 381.8M167.7 385.6Q163.8 384.6 158.5 384.5M157.3 381.9Q157.1 383.9 158.5 384.5M157.3 381.9Q164.1 380.8 175.9 380.5M175.9 380.5Q176.9 381.0 177.4 381.8M174.0 375.3Q175.4 378.0 175.9 380.5M150.2 379.2Q154.4 381.0 157.3 381.9M200.2 386.1Q189.3 384.2 179.2 382.6M179.2 382.6Q176.5 381.5 177.4 381.8M172.0 415.9Q170.0 414.3 170.2 414.6M182.0 408.4Q177.6 408.8 173.0 409.7M173.0 409.7Q170.8 411.7 170.2 414.6M155.5 416.9Q155.0 414.8 155.6 416.2M155.6 416.2Q158.3 414.5 163.0 413.5M170.2 414.6Q166.6 415.5 163.0 413.5M179.2 382.6Q179.7 386.9 175.9 389.7M189.5 394.9Q185.4 393.7 179.4 392.8M175.9 389.7Q176.9 390.5 179.4 392.8M183.2 400.5Q177.7 400.9 171.8 398.9M179.4 392.8Q174.7 393.5 170.2 395.4M171.8 398.9Q171.2 397.2 170.2 395.4M116.5 410.6Q117.5 411.7 115.9 413.7M116.5 410.6Q114.4 409.8 112.2 407.7M113.3 415.2Q108.4 414.6 103.6 413.0M112.2 407.7Q105.2 406.7 104.3 408.0M104.3 408.0Q104.8 406.9 104.1 408.1M104.1 408.1Q105.2 410.4 103.6 413.0M96.5 418.0Q97.1 415.5 100.5 413.6M103.6 413.0Q103.9 412.5 100.5 413.6M79.7 410.2Q82.7 409.6 82.9 409.9M84.6 417.4Q85.8 413.5 84.8 410.4M82.9 409.9Q82.1 410.4 84.8 410.4M85.1 400.9Q85.7 400.8 87.3 401.9M82.9 409.9Q84.8 405.9 87.3 401.9M102.5 394.5Q105.1 396.0 103.4 397.1M103.4 397.1Q96.7 400.9 92.8 402.7M87.3 401.9Q90.6 400.9 92.8 402.7M116.5 410.6Q120.4 409.9 124.1 407.3M130.3 415.1Q131.4 413.1 133.0 411.8M124.1 407.3Q128.8 408.7 131.9 409.7M133.0 411.8Q132.9 410.8 131.9 409.7M123.8 386.2Q125.5 386.6 126.1 386.9M119.7 390.9Q121.4 391.0 122.1 391.0M122.1 391.0Q124.8 390.7 125.8 389.4M126.1 386.9Q125.5 388.1 125.8 389.4M167.7 385.6Q165.2 387.4 165.8 388.6M175.9 389.7Q172.0 389.7 167.8 390.0M165.8 388.6Q166.4 388.7 167.8 390.0M158.5 384.5Q155.3 385.9 155.9 388.3M165.8 388.6Q161.5 388.9 155.9 388.3M170.2 395.4Q168.2 394.3 166.0 393.9M167.8 390.0Q167.6 391.8 166.0 393.9M180.5 405.3Q174.5 404.7 171.5 404.2M173.0 409.7Q170.3 408.9 168.0 406.9M171.5 404.2Q170.6 405.5 168.0 406.9M171.8 398.9Q172.1 400.5 169.1 400.3M171.5 404.2Q170.7 402.5 169.1 400.3M92.1 412.8Q95.2 412.9 96.0 412.1M92.1 412.8Q88.5 412.6 86.9 410.3M96.0 412.1Q96.1 410.4 96.4 408.7M86.9 410.3Q89.0 409.1 93.9 407.5M96.4 408.7Q97.0 407.9 93.9 407.5M89.3 416.6Q89.7 415.5 92.1 412.8M100.5 413.6Q98.7 413.6 96.0 412.1M84.8 410.4Q86.9 410.5 86.9 410.3M104.1 408.1Q100.3 408.4 96.4 408.7M92.8 402.7Q91.6 402.6 93.6 403.2M93.6 403.2Q94.3 406.1 93.9 407.5M104.3 408.0Q104.2 405.1 103.0 404.2M103.0 404.2Q97.0 403.8 93.6 403.2M112.2 407.7Q111.1 406.2 113.1 405.0M103.0 404.2Q105.2 403.8 107.5 402.3M113.1 405.0Q112.3 404.0 107.5 402.3M124.1 407.3Q122.3 405.5 124.2 405.4M124.2 405.4Q122.7 404.8 123.7 404.7M123.7 404.7Q120.3 403.7 118.5 403.1M113.1 405.0Q116.0 403.3 118.5 403.1M103.4 397.1Q107.3 398.9 108.5 399.3M107.5 402.3Q106.7 400.1 108.5 399.3M117.4 396.1Q121.6 395.8 123.6 395.8M117.4 396.1Q117.0 397.5 114.6 398.7M114.6 398.7Q114.8 399.7 118.1 400.6M118.1 400.6Q120.5 399.2 125.3 399.3M123.6 395.8Q125.1 397.5 126.2 397.7M126.2 397.7Q125.0 399.2 125.3 399.3M114.5 392.8Q116.7 394.0 117.4 396.1M125.3 394.0Q124.3 393.1 122.1 391.0M125.3 394.0Q124.6 396.1 123.6 395.8M108.5 399.3Q110.8 399.4 114.6 398.7M118.5 403.1Q116.5 401.9 118.1 400.6M123.7 404.7Q126.6 402.7 127.8 401.4M127.8 401.4Q125.9 399.6 125.3 399.3M141.5 418.2Q142.3 414.8 145.8 412.3M155.6 416.2Q152.6 414.5 148.8 412.4M145.8 412.3Q148.2 412.4 148.8 412.4M133.0 411.8Q138.2 412.1 143.4 411.4M145.8 412.3Q145.5 412.7 143.4 411.4M124.2 405.4Q130.4 405.4 134.8 404.3M131.9 409.7Q134.3 408.2 136.2 405.9M134.8 404.3Q134.5 404.4 136.2 405.9M143.4 411.4Q143.0 408.2 143.1 406.4M136.2 405.9Q138.3 407.1 143.1 406.4M135.1 387.9Q133.7 386.8 129.5 386.1M135.1 387.9Q135.2 387.1 139.2 386.8M139.0 384.5Q136.6 386.4 139.2 386.8M139.0 384.5Q134.5 384.5 131.0 384.2M131.0 384.2Q131.0 384.6 129.5 386.1M130.4 383.0Q129.0 383.6 131.0 384.2M141.8 382.0Q139.2 383.4 139.0 384.5M126.1 386.9Q127.8 386.2 129.5 386.1M129.0 393.5Q129.4 392.0 129.9 390.4M129.0 393.5Q130.7 393.9 131.1 393.9M131.1 393.9Q133.8 391.8 136.4 391.5M129.9 390.4Q131.7 390.2 134.1 389.9M134.1 389.9Q135.8 391.1 136.4 391.5M125.3 394.0Q127.2 393.2 129.0 393.5M125.8 389.4Q129.5 389.4 129.9 390.4M135.1 387.9Q134.7 388.4 134.1 389.9M126.2 397.7Q129.9 397.0 132.9 397.2M131.1 393.9Q131.6 395.4 133.5 396.0M132.9 397.2Q131.5 396.6 133.5 396.0M155.4 407.5Q152.9 406.0 148.5 404.1M155.4 407.5Q157.6 408.3 159.1 407.7M159.1 407.7Q162.3 407.2 161.6 406.7M161.6 406.7Q161.8 403.4 161.9 400.8M159.6 400.0Q161.6 399.6 161.9 400.8M159.6 400.0Q155.3 401.5 148.3 402.4M148.3 402.4Q150.0 402.6 148.5 404.1M148.8 412.4Q152.9 410.0 155.4 407.5M143.1 406.4Q147.0 405.7 148.5 404.1M163.0 413.5Q163.5 410.8 159.1 407.7M168.0 406.9Q165.5 407.2 161.6 406.7M169.1 400.3Q164.7 400.7 161.9 400.8M157.6 396.1Q159.5 397.3 159.6 400.0M157.6 396.1Q157.8 395.7 161.6 394.1M161.6 394.1Q161.9 393.5 166.0 393.9M140.8 401.0Q138.8 402.8 134.8 404.0M140.8 401.0Q139.6 400.6 137.6 399.0M137.6 399.0Q135.3 400.0 134.8 398.7M134.8 398.7Q135.0 401.0 131.3 401.5M131.3 401.5Q133.1 402.7 134.8 404.0M134.8 404.3Q134.6 404.0 134.8 404.0M147.2 401.7Q144.4 401.8 140.8 401.0M147.2 401.7Q148.3 402.1 148.3 402.4M127.8 401.4Q129.3 401.1 131.3 401.5M132.9 397.2Q134.6 396.7 134.8 398.7M133.5 396.0Q137.4 394.6 140.0 394.2M137.6 399.0Q140.7 397.0 142.4 396.1M142.4 396.1Q142.5 394.9 140.0 394.2M147.2 401.7Q150.1 399.7 147.6 397.0M142.4 396.1Q145.4 396.5 147.6 397.0M157.6 396.1Q152.8 396.8 151.4 395.4M151.4 395.4Q150.1 395.8 147.6 397.0M136.4 391.5Q138.4 391.8 140.3 392.4M140.3 392.4Q139.5 394.4 140.0 394.2M149.9 393.1Q144.7 392.1 142.7 391.6M149.9 393.1Q153.7 390.6 155.2 388.6M142.7 391.6Q144.2 389.7 144.4 388.3M144.4 388.3Q147.1 388.4 149.1 387.4M149.1 387.4Q151.9 388.4 155.2 388.6M155.2 388.6Q153.7 388.6 155.2 388.6M151.4 395.4Q150.7 393.6 149.9 393.1M140.3 392.4Q141.8 390.9 142.7 391.6M161.6 394.1Q159.0 390.8 155.2 388.6M139.2 386.8Q143.0 387.5 144.4 388.3M146.9 381.1Q147.3 385.1 149.1 387.4M155.9 388.3Q154.7 388.2 155.2 388.6" stroke="#ff2a2a" stroke-width="0.9" fill="none" stroke-linecap="round" opacity="1.0"/><g filter="url(#blur2)"><circle cx="135.8" cy="399.8" r="0.84" fill="#ff2a3a" opacity="0.8"/><circle cx="136.3" cy="399.9" r="0.60" fill="#ff2a3a" opacity="0.8"/><circle cx="135.5" cy="400.6" r="0.89" fill="#ff2a3a" opacity="0.8"/><circle cx="135.3" cy="400.9" r="0.87" fill="#ff2a3a" opacity="0.8"/><circle cx="134.5" cy="400.5" r="0.91" fill="#ff2a3a" opacity="0.8"/><circle cx="135.2" cy="399.7" r="0.77" fill="#ff2a3a" opacity="0.8"/></g><circle cx="120.1" cy="419.7" r="0.61" fill="#66f050" opacity="0.95"/><circle cx="120.4" cy="420.4" r="0.87" fill="#66f050" opacity="0.95"/>
</g>
<polygon points="64.1,414.0 136.4,378.4 212.4,412.5 139.7,461.0" stroke="#a8a8b8" stroke-width="0.5" fill="none"/>
<polyline points="64.1,414.0 64.1,417.0 139.7,464.0 212.4,415.5 212.4,412.5" stroke="#b0b0c0" stroke-width="0.5" fill="none"/>
<line x1="139.7" y1="461.0" x2="139.7" y2="464.0" stroke="#c0c0d0" stroke-width="0.5"/>
<rect x="236" y="368" width="165" height="105" fill="#000"/>
<polygon points="240.8,406.6 319.2,460.5 396.2,413.6 396.2,419.6 319.2,466.5 240.8,412.6" stroke="none" fill="#000"/>
<clipPath id="q236"><polygon points="253.3,407.8 319.5,381.1 383.8,413.6 319.2,453.0"/></clipPath>
<g clip-path="url(#q236)">
<polygon points="253.3,407.8 319.5,381.1 383.8,413.6 319.2,453.0" fill="#030308"/>
<g filter="url(#blur)"><polygon points="321.9,394.2 320.5,396.1 323.8,397.6 325.7,396.9 326.2,395.9 324.7,394.3" fill="#1a2590" opacity="0.42"/><polygon points="271.5,420.6 273.4,420.8 275.1,420.3 276.5,415.4 275.6,414.3 274.0,414.0 267.0,418.4 267.4,418.9" fill="#1a2590" opacity="0.41"/><polygon points="378.2,408.2 382.0,405.9 382.0,405.9 378.2,403.9 373.3,405.6" fill="#1a2590" opacity="0.25"/><polygon points="251.8,416.2 251.2,414.5 244.7,411.8 220.9,410.4 205.0,422.5 246.0,421.3" fill="#1a2590" opacity="0.41"/><polygon points="346.0,452.5 336.0,450.6 334.7,446.9 336.2,445.4 345.0,445.3" fill="#1a2590" opacity="0.38"/><polygon points="279.2,400.0 277.8,402.5 287.5,404.4 288.0,404.3 289.5,403.2 287.5,399.9" fill="#1a2590" opacity="0.49"/><polygon points="382.4,415.0 384.4,417.5 384.6,417.5 391.9,416.3 389.3,413.3 388.6,413.1 388.0,413.1" fill="#1a2590" opacity="0.32"/><polygon points="286.4,410.2 294.3,413.7 298.7,411.2 290.5,406.7 289.9,406.8" fill="#1a2590" opacity="0.42"/><polygon points="322.9,389.1 326.6,390.9 324.5,392.6 321.1,392.4 319.2,391.5 321.2,388.9" fill="#1a2590" opacity="0.24"/><polygon points="336.5,396.2 338.2,395.2 342.2,397.4 340.5,399.4 338.0,399.6 337.3,399.2" fill="#1a2590" opacity="0.22"/><polygon points="371.6,424.0 368.1,424.2 367.0,422.5 368.7,421.9 372.1,422.7" fill="#1a2590" opacity="0.23"/><polygon points="244.8,426.0 241.6,424.2 202.6,425.4 198.3,427.7 193.5,435.2 244.6,432.6" fill="#1a2590" opacity="0.50"/><polygon points="352.3,404.3 354.8,405.1 356.2,408.1 352.8,409.4 345.4,407.3 347.6,404.7" fill="#1a2590" opacity="0.36"/><polygon points="296.2,456.1 314.2,462.6 317.8,454.5 311.8,449.3 298.0,453.5" fill="#1a2590" opacity="0.29"/><polygon points="308.3,407.5 305.7,410.2 301.3,410.4 293.1,405.9 294.7,404.7 302.3,403.6" fill="#1a2590" opacity="0.47"/><polygon points="318.0,378.9 319.4,376.3 313.9,374.3 313.3,374.3 307.0,377.1 313.4,379.4" fill="#1a2590" opacity="0.42"/><polygon points="322.9,387.3 325.6,386.0 324.4,384.0 323.6,383.9 320.2,384.9 320.3,386.6 321.4,387.1" fill="#1a2590" opacity="0.20"/><polygon points="284.5,425.0 284.3,424.1 282.8,423.0 276.9,422.1 275.0,422.6 274.6,427.1 277.9,427.8" fill="#1a2590" opacity="0.31"/><polygon points="309.7,426.1 303.2,424.2 302.8,421.9 310.8,420.4 312.5,422.0 311.2,425.6" fill="#1a2590" opacity="0.49"/><polygon points="327.5,420.5 322.6,422.1 326.0,424.1 328.6,422.4" fill="#1a2590" opacity="0.45"/><polygon points="322.4,435.9 331.7,438.8 335.3,435.1 334.4,433.7 323.6,434.0" fill="#1a2590" opacity="0.44"/><polygon points="385.7,419.6 395.0,418.1 408.5,423.6 395.0,427.7" fill="#1a2590" opacity="0.31"/><polygon points="309.3,393.8 309.2,395.8 307.1,397.0 305.6,397.3 300.1,395.0 304.0,391.5 305.4,391.5" fill="#1a2590" opacity="0.34"/><polygon points="258.9,404.0 247.9,397.3 221.0,407.5 220.5,408.3 245.5,409.8" fill="#1a2590" opacity="0.18"/><polygon points="372.2,425.8 373.5,428.1 369.3,429.1 366.9,427.7 368.0,426.1" fill="#1a2590" opacity="0.34"/><polygon points="246.6,440.9 250.8,447.3 249.9,453.4 241.5,467.5 235.4,472.5 156.4,487.8 197.4,443.2 245.9,440.6" fill="#1a2590" opacity="0.26"/><polygon points="376.7,409.4 373.9,411.7 370.0,411.4 367.6,409.5 369.5,406.4 371.8,406.4 376.6,409.0" fill="#1a2590" opacity="0.45"/><polygon points="289.0,432.9 292.1,434.5 291.4,438.2 290.8,438.5 289.1,438.4 286.8,437.1 285.5,434.4" fill="#1a2590" opacity="0.44"/><polygon points="356.2,388.6 359.3,388.6 363.0,386.7 365.8,382.7 358.0,381.7 350.2,386.4 350.9,387.0" fill="#1a2590" opacity="0.18"/><polygon points="317.2,392.2 316.1,392.2 311.8,393.5 311.8,395.7 317.5,395.6 319.3,393.3" fill="#1a2590" opacity="0.22"/><polygon points="275.6,391.4 269.6,388.9 277.5,384.8 284.9,387.8 283.9,390.8" fill="#1a2590" opacity="0.28"/><polygon points="349.6,419.8 351.8,418.9 349.5,416.1 347.5,418.0 348.5,419.6" fill="#1a2590" opacity="0.46"/><polygon points="279.8,397.1 286.4,397.0 288.2,395.3 286.3,394.1 278.5,394.7" fill="#1a2590" opacity="0.30"/><polygon points="353.0,418.3 354.9,418.4 357.4,415.8 353.3,413.9 350.6,414.9 350.6,415.3" fill="#1a2590" opacity="0.36"/><polygon points="329.4,416.8 327.0,415.2 327.1,415.0 331.4,413.5 332.4,413.8 332.6,416.4" fill="#1a2590" opacity="0.42"/><polygon points="318.8,388.5 317.7,388.0 313.1,388.2 312.7,388.7 316.1,390.7 317.0,390.7" fill="#1a2590" opacity="0.37"/><polygon points="331.8,406.2 332.1,406.5 339.3,407.4 340.2,407.0 336.1,403.2 335.5,403.3" fill="#1a2590" opacity="0.32"/><polygon points="328.0,406.7 328.3,407.0 327.5,408.5 323.4,409.1 318.6,407.1 320.1,406.2 326.2,406.1" fill="#1a2590" opacity="0.46"/><polygon points="315.1,391.6 310.6,388.9 306.4,390.6 310.6,393.0" fill="#1a2590" opacity="0.29"/><polygon points="352.5,394.9 352.7,396.4 354.4,397.2 360.0,397.9 361.0,397.3 359.2,392.9 355.4,392.9" fill="#1a2590" opacity="0.31"/><polygon points="373.7,421.6 374.4,421.5 375.7,420.0 368.5,415.8 366.8,416.6 368.7,420.5" fill="#1a2590" opacity="0.37"/><polygon points="293.1,459.1 311.5,465.9 319.3,475.9 306.5,497.6 246.9,480.4 254.4,473.8" fill="#1a2590" opacity="0.49"/><polygon points="289.1,454.9 259.7,465.8 266.7,452.3 286.1,444.3 288.3,444.5 290.6,452.8" fill="#1a2590" opacity="0.49"/><polygon points="311.4,428.5 309.2,432.0 311.3,435.1 318.4,435.5 319.3,435.1 320.6,433.3 320.1,430.0 313.3,427.9" fill="#1a2590" opacity="0.36"/><polygon points="381.0,400.1 382.0,399.7 399.0,399.9 393.1,402.1 384.5,404.1 381.5,402.5" fill="#1a2590" opacity="0.39"/><polygon points="352.7,434.7 341.0,435.7 350.0,441.1 357.1,438.7 353.4,435.0" fill="#1a2590" opacity="0.39"/><polygon points="289.5,426.4 297.8,425.6 299.4,424.5 298.8,421.7 297.3,421.0 287.0,424.0 287.3,424.9" fill="#1a2590" opacity="0.27"/><polygon points="301.7,398.5 300.2,400.7 294.2,401.6 292.3,398.6 294.3,396.5 297.4,396.6" fill="#1a2590" opacity="0.34"/><polygon points="368.8,403.9 365.5,401.5 365.1,400.3 366.0,399.7 374.0,400.2 374.4,402.7 370.7,404.0" fill="#1a2590" opacity="0.23"/><polygon points="348.6,394.5 348.7,396.4 344.0,396.6 339.1,394.0 339.1,393.9 342.3,392.8" fill="#1a2590" opacity="0.45"/><polygon points="342.6,401.6 341.5,401.2 338.7,401.4 337.8,402.5 342.0,406.3 343.3,406.2 345.1,404.0" fill="#1a2590" opacity="0.37"/><polygon points="349.5,400.3 351.1,398.5 349.2,397.7 345.1,397.9 343.4,399.9 344.5,400.3" fill="#1a2590" opacity="0.35"/><polygon points="276.7,410.8 280.8,409.5 283.7,406.7 274.7,404.9 271.7,406.1 272.5,409.0 275.4,410.6" fill="#1a2590" opacity="0.44"/><polygon points="300.1,432.8 305.1,433.3 306.6,435.5 303.7,437.5 297.0,437.9 297.7,433.8" fill="#1a2590" opacity="0.31"/><polygon points="279.5,432.8 274.3,434.5 273.2,437.0 282.8,437.1 281.0,433.2" fill="#1a2590" opacity="0.49"/><polygon points="288.4,418.2 293.4,417.4 295.9,420.3 286.8,423.0 285.3,422.0" fill="#1a2590" opacity="0.20"/><polygon points="364.4,420.6 363.1,420.4 362.4,417.5 364.8,417.4 366.1,420.0" fill="#1a2590" opacity="0.45"/><polygon points="272.2,439.8 266.3,443.0 265.8,447.7 281.9,441.2 279.4,439.9" fill="#1a2590" opacity="0.29"/><polygon points="316.1,402.0 315.6,404.8 314.0,405.9 311.2,406.3 305.2,402.4 307.0,399.6 308.6,399.3" fill="#1a2590" opacity="0.30"/><polygon points="352.7,401.1 354.2,399.4 360.2,400.1 360.5,401.4 355.8,403.6 353.8,402.9" fill="#1a2590" opacity="0.28"/><polygon points="271.8,356.0 302.5,370.9 296.5,373.4 294.8,373.7 281.4,372.0 266.5,358.2" fill="#1a2590" opacity="0.34"/><polygon points="335.7,388.1 338.9,387.2 341.9,387.6 342.8,388.4 341.1,391.4 338.2,392.4 334.0,390.4" fill="#1a2590" opacity="0.36"/><polygon points="300.0,383.5 298.7,378.6 281.5,376.5 279.9,381.7 290.5,386.0 295.4,385.8" fill="#1a2590" opacity="0.44"/><polygon points="279.0,415.6 286.2,417.9 283.1,421.7 277.6,420.8" fill="#1a2590" opacity="0.27"/><polygon points="255.9,357.2 207.3,366.8 254.9,386.7 260.5,386.1 272.2,380.2 274.2,375.0" fill="#1a2590" opacity="0.49"/><polygon points="331.4,424.3 328.8,426.1 328.8,427.1 334.6,428.5 335.2,428.1 335.7,425.6" fill="#1a2590" opacity="0.27"/><polygon points="384.1,406.0 384.1,406.0 395.0,403.4 388.1,408.8" fill="#1a2590" opacity="0.38"/><polygon points="324.6,388.4 327.8,386.8 333.1,387.9 331.3,390.3 328.5,390.4" fill="#1a2590" opacity="0.34"/><polygon points="349.2,421.2 351.0,423.2 349.8,424.5 348.6,424.8 345.1,423.7 346.0,421.5 348.1,421.0" fill="#1a2590" opacity="0.36"/><polygon points="356.8,428.8 353.6,432.7 353.0,432.4 350.2,430.5 350.0,427.2 351.2,426.9" fill="#1a2590" opacity="0.26"/><polygon points="289.6,427.4 297.6,426.6 297.9,430.8 294.6,432.1 289.8,429.7" fill="#1a2590" opacity="0.22"/><polygon points="287.6,427.4 287.8,429.7 282.4,431.9 280.7,431.5 278.7,428.8 285.5,425.9" fill="#1a2590" opacity="0.24"/><polygon points="376.1,425.6 377.5,427.9 387.6,430.6 388.3,429.4 377.3,423.9 376.7,424.0" fill="#1a2590" opacity="0.23"/><polygon points="204.0,404.3 204.4,403.6 191.8,375.3 126.8,376.2 187.4,415.1 190.9,413.3" fill="#1a2590" opacity="0.43"/><polygon points="351.3,420.7 353.1,422.6 357.1,422.5 357.7,421.7 355.3,419.9 353.5,419.8" fill="#1a2590" opacity="0.23"/><polygon points="279.1,413.2 284.6,411.4 293.0,415.1 292.6,415.9 287.4,416.7 280.1,414.5" fill="#1a2590" opacity="0.34"/><polygon points="266.2,425.9 267.8,428.4 268.5,428.4 271.9,427.2 272.2,423.6 270.5,423.4" fill="#1a2590" opacity="0.20"/><polygon points="325.0,470.4 319.8,464.1 322.2,458.5 329.5,457.6 328.4,468.9" fill="#1a2590" opacity="0.25"/><polygon points="330.1,411.8 325.7,413.4 324.9,410.9 328.3,410.4" fill="#1a2590" opacity="0.31"/><polygon points="343.8,420.9 339.1,418.8 338.3,418.9 339.3,423.7 342.7,423.3" fill="#1a2590" opacity="0.28"/><polygon points="331.1,419.4 334.6,419.0 336.0,419.2 336.7,422.9 336.4,423.0 332.1,421.7 331.0,419.7" fill="#1a2590" opacity="0.37"/><polygon points="338.3,411.2 339.2,408.7 331.6,407.8 330.7,409.5 333.2,411.5 334.7,411.8" fill="#1a2590" opacity="0.41"/><polygon points="349.4,433.5 338.8,434.4 338.1,434.2 337.3,433.0 337.7,430.8 338.6,430.3 346.4,431.5" fill="#1a2590" opacity="0.42"/><polygon points="378.6,420.8 377.2,422.4 391.0,429.2 392.5,427.9 383.4,419.9 383.1,419.8" fill="#1a2590" opacity="0.48"/><polygon points="256.2,434.6 261.4,442.0 270.3,437.2 271.6,434.4 267.5,430.7 266.5,430.7" fill="#1a2590" opacity="0.48"/><polygon points="267.2,409.4 256.4,412.7 250.2,410.1 262.2,404.9 266.3,405.5" fill="#1a2590" opacity="0.38"/><polygon points="327.0,418.5 323.3,416.0 314.3,416.5 313.8,418.9 315.8,420.8 319.5,421.2 326.9,418.8" fill="#1a2590" opacity="0.28"/><polygon points="348.4,415.2 348.4,414.7 343.6,414.1 342.8,416.3 346.4,417.0" fill="#1a2590" opacity="0.47"/><polygon points="270.6,397.9 269.3,399.9 266.6,400.9 263.8,400.5 256.9,396.4 259.7,393.3 263.5,392.8 269.3,395.3" fill="#1a2590" opacity="0.42"/><polygon points="262.3,426.7 264.0,429.5 255.4,432.7 254.7,432.4 254.6,426.3 258.1,425.8" fill="#1a2590" opacity="0.35"/><polygon points="329.9,406.0 334.3,402.6 327.4,402.0 327.6,405.1" fill="#1a2590" opacity="0.46"/><polygon points="333.5,386.7 336.4,385.9 332.4,382.7 327.6,383.7 328.9,385.7" fill="#1a2590" opacity="0.22"/><polygon points="334.6,381.4 336.4,377.7 344.8,375.6 355.3,378.4 342.9,385.7 339.6,385.2" fill="#1a2590" opacity="0.41"/><polygon points="276.7,429.1 273.5,428.5 269.5,430.0 273.2,433.3 278.5,431.7" fill="#1a2590" opacity="0.44"/><polygon points="300.4,430.1 306.0,430.7 307.9,427.7 301.4,425.8 300.1,426.7" fill="#1a2590" opacity="0.29"/><polygon points="350.0,401.5 344.7,401.4 347.2,403.7 351.1,403.4" fill="#1a2590" opacity="0.45"/><polygon points="320.7,398.7 317.6,397.2 313.4,397.3 311.9,398.2 317.5,400.2 320.6,399.0" fill="#1a2590" opacity="0.42"/><polygon points="392.8,408.5 399.8,402.9 407.3,400.0 464.8,394.2 394.7,410.6 393.9,410.3" fill="#1a2590" opacity="0.23"/><polygon points="299.6,390.7 295.9,388.7 292.4,388.9 291.5,391.9 293.6,393.2 296.6,393.3" fill="#1a2590" opacity="0.36"/><polygon points="331.1,381.2 332.8,377.9 323.2,377.1 321.7,380.1 324.8,382.1 325.8,382.2" fill="#1a2590" opacity="0.41"/><polygon points="334.1,400.1 334.7,400.5 333.9,401.4 333.4,401.5 328.6,401.0 326.7,399.9 326.8,399.6 328.7,398.8" fill="#1a2590" opacity="0.48"/><polygon points="317.0,448.0 316.8,448.6 321.3,452.4 329.3,451.4 329.7,451.2 328.5,447.3 321.3,446.2" fill="#1a2590" opacity="0.44"/><polygon points="335.9,417.1 335.6,413.2 339.5,412.5 341.6,413.9 340.7,416.4 338.6,417.4 337.7,417.5" fill="#1a2590" opacity="0.18"/><polygon points="364.5,392.7 368.7,390.3 375.0,397.0 374.1,397.4 366.3,396.9" fill="#1a2590" opacity="0.33"/><polygon points="374.7,413.7 378.1,415.1 380.0,417.6 376.3,418.5 370.3,415.1 371.3,413.5" fill="#1a2590" opacity="0.47"/><polygon points="264.4,424.9 269.3,422.1 265.0,420.3 259.9,423.9" fill="#1a2590" opacity="0.46"/><polygon points="333.7,396.1 329.6,396.4 329.2,397.4 334.4,398.7" fill="#1a2590" opacity="0.42"/><polygon points="347.3,419.9 344.7,420.5 339.5,418.2 341.8,417.0 346.1,417.9" fill="#1a2590" opacity="0.45"/><polygon points="379.3,409.5 387.8,411.5 388.6,411.5 387.5,409.7 383.2,406.6 379.1,409.0" fill="#1a2590" opacity="0.49"/><polygon points="360.3,427.1 357.9,423.7 353.2,423.8 351.8,425.4 358.5,427.7" fill="#1a2590" opacity="0.43"/><polygon points="357.2,419.1 359.3,420.6 360.9,420.4 360.1,417.2 359.1,417.1" fill="#1a2590" opacity="0.47"/><polygon points="312.7,386.5 316.6,386.4 316.5,385.0 314.1,384.3 311.3,385.3" fill="#1a2590" opacity="0.19"/><polygon points="315.4,426.3 316.5,422.8 319.6,423.1 323.8,425.6 323.8,426.7 320.9,428.0" fill="#1a2590" opacity="0.28"/><polygon points="308.0,417.8 308.4,416.1 305.6,413.6 302.0,413.8 298.5,415.8 298.2,416.4 300.1,418.6 301.1,419.1" fill="#1a2590" opacity="0.45"/><polygon points="307.7,383.3 304.6,382.7 303.7,379.4 305.1,379.2 310.1,381.0 310.6,382.3" fill="#1a2590" opacity="0.41"/><polygon points="387.5,452.1 385.8,466.6 366.0,463.2 353.5,454.6 351.9,445.0 352.9,444.2 360.4,441.6 370.6,443.9" fill="#1a2590" opacity="0.26"/><polygon points="335.2,439.8 336.2,442.2 345.2,442.1 345.9,441.5 338.6,437.0 338.0,436.8" fill="#1a2590" opacity="0.39"/><polygon points="348.5,413.4 343.4,412.7 341.4,411.4 342.2,408.9 343.1,408.4 344.5,408.4 351.1,410.3 351.2,412.4" fill="#1a2590" opacity="0.22"/><polygon points="241.3,387.1 206.0,371.9 205.8,372.0 219.2,397.1 237.8,390.5" fill="#1a2590" opacity="0.48"/><polygon points="360.6,464.9 334.1,470.0 335.2,454.3 335.7,454.0 348.6,456.4" fill="#1a2590" opacity="0.48"/><polygon points="365.2,424.9 364.0,426.5 361.8,426.2 359.9,423.6 360.5,422.8 362.3,422.5 363.9,422.8" fill="#1a2590" opacity="0.28"/><polygon points="323.1,429.8 326.5,428.3 334.2,430.2 333.8,432.6 323.6,432.8" fill="#1a2590" opacity="0.45"/><polygon points="308.4,387.5 308.1,388.0 305.4,389.0 304.4,389.0 301.0,387.2 303.9,385.7 306.9,386.3" fill="#1a2590" opacity="0.18"/><polygon points="326.2,404.9 318.5,405.0 318.9,401.9 323.4,400.2 326.0,401.8" fill="#1a2590" opacity="0.46"/><polygon points="374.2,433.6 376.1,440.9 388.6,446.9 389.9,446.0 388.3,435.3 378.3,432.6" fill="#1a2590" opacity="0.37"/><polygon points="320.9,413.5 320.8,413.6 314.6,414.0 311.9,411.6 313.8,409.5 315.9,409.2 320.0,410.9" fill="#1a2590" opacity="0.25"/><polygon points="363.7,411.2 359.1,410.5 357.0,411.4 357.1,412.9 360.1,414.3 361.0,414.4 363.4,414.4 364.6,413.8 365.4,412.5" fill="#1a2590" opacity="0.26"/><polygon points="269.4,413.3 266.8,411.8 259.4,414.1 259.8,415.2 264.3,416.4" fill="#1a2590" opacity="0.30"/><polygon points="309.1,446.3 308.8,446.9 298.3,450.0 295.8,442.1 296.6,441.7 304.1,441.2" fill="#1a2590" opacity="0.39"/><polygon points="321.5,436.9 331.1,440.0 332.5,443.2 330.5,445.1 321.2,443.7 320.5,437.3" fill="#1a2590" opacity="0.28"/><polygon points="349.6,393.9 342.9,392.1 344.9,388.6 353.6,391.2" fill="#1a2590" opacity="0.28"/><polygon points="379.0,410.5 385.6,412.0 379.9,413.9 376.6,412.5" fill="#1a2590" opacity="0.36"/><polygon points="329.6,391.7 332.0,391.7 335.9,393.5 335.9,393.7 334.2,394.6 329.4,395.0 327.6,393.3" fill="#1a2590" opacity="0.40"/><polygon points="343.1,425.3 340.7,425.6 340.4,425.7 340.0,428.0 345.9,428.9 345.8,426.2" fill="#1a2590" opacity="0.45"/><polygon points="325.7,374.4 321.3,372.8 331.2,367.2 338.0,373.5 332.5,374.9" fill="#1a2590" opacity="0.26"/><polygon points="317.8,437.4 318.3,443.4 313.2,445.6 307.2,439.6 311.0,437.0" fill="#1a2590" opacity="0.23"/><polygon points="364.1,429.9 361.9,429.6 360.6,430.1 357.7,433.6 360.6,436.6 368.0,438.2 366.4,431.2" fill="#1a2590" opacity="0.49"/><polygon points="365.6,405.6 362.5,403.4 358.4,405.3 359.4,407.3 364.2,408.0" fill="#1a2590" opacity="0.32"/><polygon points="314.9,382.9 314.2,381.1 319.4,380.6 322.6,382.7 318.5,383.9" fill="#1a2590" opacity="0.46"/><polygon points="257.9,422.7 255.2,423.1 253.0,421.9 256.6,418.5 261.3,419.8 261.5,420.2" fill="#1a2590" opacity="0.18"/></g><path d="M97.9 365.7Q147.8 365.2 196.0 365.0M97.9 365.7Q137.4 392.1 190.1 427.5M190.1 427.5Q194.0 425.8 196.0 424.3M217.4 407.9Q205.5 383.5 196.0 365.0M217.4 407.9Q215.5 409.4 216.8 408.9M196.0 424.3Q206.1 417.1 216.8 408.9M190.1 427.5Q187.3 432.2 183.1 437.7M113.1 506.9Q149.9 469.2 183.1 437.7M217.4 407.9Q235.5 402.4 249.6 395.8M196.0 365.0Q196.6 364.7 196.3 364.9M196.3 364.9Q223.2 377.5 255.1 389.9M249.6 395.8Q251.1 392.9 255.1 389.9M373.1 379.8Q370.7 383.3 368.1 387.4M477.7 391.8Q443.7 394.9 406.7 399.0M406.7 399.0Q393.9 398.7 378.8 398.6M368.1 387.4Q371.5 392.7 378.8 398.6M373.1 379.8Q366.3 379.0 358.2 377.9M332.3 362.7Q339.0 367.8 345.3 374.5M358.2 377.9Q351.9 376.8 345.3 374.5M216.8 408.9Q232.1 410.2 246.8 410.7M249.6 395.8Q255.9 400.6 262.7 403.7M246.8 410.7Q254.6 407.6 262.7 403.7M196.0 424.3Q222.1 423.6 248.5 422.8M246.8 410.7Q252.4 411.7 255.0 414.1M255.0 414.1Q258.2 415.2 255.7 416.2M248.5 422.8Q252.9 418.9 255.7 416.2M477.7 391.8Q434.4 401.1 390.6 412.3M390.6 412.3Q391.6 413.7 394.7 417.1M394.7 417.1Q402.1 420.4 411.6 424.0M113.1 506.9Q179.9 492.0 238.5 481.4M310.3 502.3Q276.2 492.5 238.5 481.4M406.7 399.0Q402.8 400.2 397.2 402.6M378.8 398.6Q377.3 399.0 377.2 399.2M383.0 406.0Q389.9 403.0 397.2 402.6M383.0 406.0Q378.5 404.7 378.0 403.3M378.0 403.3Q379.7 400.5 377.2 399.2M332.3 362.7Q322.8 367.7 313.7 373.1M345.3 374.5Q340.3 375.2 335.1 377.1M313.7 373.1Q316.7 374.7 321.9 376.0M335.1 377.1Q328.0 376.5 321.9 376.0M312.9 373.1Q310.5 375.6 303.5 377.4M312.9 373.1Q287.2 360.6 264.8 350.2M279.1 375.0Q289.0 376.9 300.8 377.7M279.1 375.0Q266.4 363.4 256.4 353.5M300.8 377.7Q301.6 376.8 303.5 377.4M256.4 353.5Q259.7 351.5 264.8 350.2M313.7 373.1Q313.0 373.0 312.9 373.1M196.3 364.9Q229.4 359.0 256.4 353.5M262.2 389.1Q260.7 389.4 255.1 389.9M262.2 389.1Q269.7 385.5 276.8 381.6M276.8 381.6Q278.8 378.9 279.1 375.0M255.0 414.1Q262.9 413.7 269.4 409.7M262.7 403.7Q267.2 403.9 268.2 404.5M268.2 404.5Q269.0 406.2 269.4 409.7M301.5 411.8Q296.5 407.6 290.0 405.5M301.5 411.8Q299.8 413.5 295.2 415.3M290.0 405.5Q289.2 405.2 289.0 405.7M295.2 415.3Q290.1 412.1 284.1 410.4M289.0 405.7Q287.4 408.3 284.1 410.4M289.0 398.5Q283.6 398.9 275.7 398.6M289.0 398.5Q291.7 397.0 292.5 394.9M288.7 392.6Q290.1 393.2 292.5 394.9M288.7 392.6Q281.0 394.4 273.2 393.7M273.2 393.7Q274.1 395.1 275.7 398.6M290.0 405.5Q291.6 404.5 292.3 403.7M292.3 403.7Q290.7 401.7 289.0 398.5M273.4 402.5Q283.2 403.9 289.0 405.7M273.4 402.5Q274.7 399.6 275.7 398.6M262.2 389.1Q267.4 391.1 273.2 393.7M276.8 381.6Q282.8 384.7 290.4 387.1M290.4 387.1Q288.9 388.7 288.7 392.6M268.2 404.5Q272.7 402.2 273.4 402.5M294.6 416.4Q292.0 417.2 287.8 417.5M294.6 416.4Q294.2 418.3 298.0 420.4M285.6 424.0Q292.8 421.9 298.0 420.4M285.6 424.0Q286.0 422.8 283.6 422.6M283.6 422.6Q287.6 421.1 287.8 417.5M333.0 452.7Q324.8 453.3 319.9 454.3M333.0 452.7Q333.6 462.6 331.3 473.3M319.9 454.3Q317.8 460.2 315.6 464.3M315.6 464.3Q321.8 470.6 325.0 476.1M331.3 473.3Q330.4 475.6 325.0 476.1M333.6 452.3Q334.8 449.6 331.6 446.1M333.6 452.3Q342.9 453.4 350.3 455.4M331.6 446.1Q333.0 444.2 334.0 443.7M334.0 443.7Q341.2 443.5 348.5 443.5M348.5 443.5Q348.9 448.5 350.3 455.4M333.6 452.3Q332.8 453.6 333.0 452.7M331.3 473.3Q348.3 472.3 366.1 466.5M350.3 455.4Q358.5 460.4 366.1 466.5M310.3 502.3Q318.2 488.6 325.0 476.1M391.3 470.8Q377.9 468.5 366.1 466.5M289.0 440.4Q274.8 446.6 259.4 452.4M289.0 440.4Q289.2 440.6 292.3 440.7M292.3 440.7Q293.0 445.6 296.0 453.1M259.4 452.4Q254.1 463.4 247.7 473.6M247.7 473.6Q270.3 465.5 293.8 456.3M296.0 453.1Q295.5 455.2 293.8 456.3M238.5 481.4Q241.5 478.5 247.7 473.6M315.6 464.3Q303.4 459.0 293.8 456.3M312.7 448.1Q304.2 450.7 296.0 453.1M312.7 448.1Q314.8 451.3 319.9 454.3M390.6 412.3Q390.0 412.6 389.5 411.9M397.2 402.6Q392.7 406.9 388.2 409.7M389.5 411.9Q389.1 410.4 388.2 409.7M383.0 406.0Q384.2 405.3 383.0 406.0M388.2 409.7Q386.6 407.3 383.0 406.0M368.1 387.4Q364.9 389.3 361.0 391.2M377.2 399.2Q371.9 398.4 363.9 398.4M363.9 398.4Q362.5 394.5 361.0 391.2M321.9 376.0Q320.1 377.7 319.9 380.1M303.5 377.4Q308.1 378.8 313.0 380.8M313.0 380.8Q317.0 379.8 319.9 380.1M290.4 387.1Q295.3 387.2 296.7 386.9M300.8 377.7Q302.1 381.2 302.5 384.0M296.7 386.9Q299.2 385.3 302.5 384.0M260.5 443.6Q265.6 440.6 271.4 437.7M260.5 443.6Q261.7 448.0 259.4 452.4M289.0 440.4Q285.9 439.4 284.4 437.9M284.4 437.9Q279.3 437.5 271.4 437.7M301.5 411.8Q303.2 411.0 307.7 411.5M307.7 411.5Q309.6 408.6 311.3 407.7M292.3 403.7Q298.0 403.1 302.9 402.2M302.9 402.2Q307.5 404.8 311.3 407.7M292.5 394.9Q295.7 395.3 297.9 395.1M296.7 386.9Q300.1 388.8 303.3 390.4M297.9 395.1Q301.5 393.1 303.3 390.4M302.9 402.2Q303.1 399.7 305.5 398.3M297.9 395.1Q301.5 397.0 305.5 398.3M394.7 417.1Q390.2 419.5 383.2 419.0M411.6 424.0Q402.9 426.1 394.8 429.2M394.8 429.2Q390.7 423.9 383.2 419.0M358.2 377.9Q349.8 382.2 343.0 387.0M335.1 377.1Q333.9 379.0 332.7 381.6M343.0 387.0Q341.0 387.5 338.9 386.4M338.9 386.4Q336.7 384.4 332.7 381.6M324.1 382.9Q322.2 381.2 319.9 380.1M324.1 382.9Q324.7 383.3 325.5 383.0M325.5 383.0Q330.6 382.1 332.7 381.6M307.7 411.5Q309.3 412.8 312.8 415.9M295.2 415.3Q295.7 416.0 294.6 416.4M312.8 415.9Q313.8 417.2 312.0 418.9M298.0 420.4Q299.2 421.4 299.8 421.2M299.8 421.2Q307.9 418.9 312.0 418.9M312.7 448.1Q311.8 447.1 313.1 447.3M293.5 440.0Q300.5 439.3 305.1 439.3M293.5 440.0Q293.8 441.5 292.3 440.7M305.1 439.3Q307.9 442.7 313.1 447.3M331.6 446.1Q326.0 444.3 320.0 444.4M320.0 444.4Q317.1 447.4 313.1 447.3M322.7 410.2Q322.7 410.0 329.2 409.3M322.7 410.2Q325.3 413.5 324.3 415.0M324.3 415.0Q328.8 413.9 332.6 412.1M329.2 409.3Q329.6 410.3 332.6 412.1M312.8 415.9Q316.9 417.0 324.2 415.3M324.2 415.3Q325.0 414.8 324.3 415.0M311.3 407.7Q314.5 408.0 315.1 407.1M315.1 407.1Q319.1 409.3 322.7 410.2M392.9 430.9Q392.9 429.1 394.8 429.2M392.9 430.9Q393.6 433.4 392.0 432.8M392.0 432.8Q393.8 441.2 395.1 450.8M349.7 442.5Q347.8 442.0 348.5 443.5M349.7 442.5Q357.2 440.5 359.1 439.3M391.3 470.8Q391.6 462.7 392.9 452.4M359.1 439.3Q365.4 442.2 371.7 442.2M371.7 442.2Q380.8 446.2 392.9 452.4M395.1 450.8Q393.3 452.4 392.9 452.4M334.0 443.7Q334.6 443.4 332.3 439.8M349.7 442.5Q342.5 438.3 337.8 435.3M337.8 435.3Q338.6 435.5 336.8 435.0M336.8 435.0Q334.7 437.7 332.3 439.8M283.6 422.6Q278.4 421.6 276.2 421.4M287.8 417.5Q283.2 416.7 278.1 414.5M276.2 421.4Q277.6 418.1 278.1 414.5M284.1 410.4Q280.3 411.9 276.9 412.8M278.1 414.5Q279.1 414.1 276.9 412.8M255.7 416.2Q259.2 416.3 264.7 418.6M269.4 409.7Q271.5 411.6 274.5 412.4M264.7 418.6Q269.4 414.5 274.5 412.4M274.5 412.4Q274.1 412.2 276.9 412.8M260.5 443.6Q256.3 439.3 254.1 434.5M271.4 437.7Q272.7 436.3 272.9 434.3M267.9 429.8Q270.8 432.8 272.9 434.3M267.9 429.8Q270.2 429.6 266.7 429.8M266.7 429.8Q261.8 431.4 254.1 434.5M183.1 437.7Q217.0 436.1 253.1 434.1M253.1 434.1Q251.5 433.5 254.1 434.5M248.5 422.8Q251.2 425.3 253.0 425.2M253.1 434.1Q254.2 428.8 253.0 425.2M318.1 396.2Q322.3 397.1 323.8 399.0M318.1 396.2Q316.0 395.6 310.5 396.3M310.5 396.3Q309.3 397.1 307.6 398.0M307.6 398.0Q313.9 400.5 318.0 401.6M318.0 401.6Q319.5 401.0 323.7 399.6M323.7 399.6Q324.8 399.6 323.8 399.0M317.4 405.6Q316.3 406.1 315.1 407.1M317.4 405.6Q315.0 404.2 318.0 401.6M305.5 398.3Q306.3 397.5 307.6 398.0M337.8 435.3Q346.8 435.5 353.3 433.9M337.5 429.4Q337.1 430.9 336.3 430.0M337.5 429.4Q343.9 429.8 348.9 431.0M336.3 430.0Q339.3 432.6 335.7 433.3M335.7 433.3Q336.0 433.9 336.8 435.0M348.9 431.0Q349.5 431.4 353.3 433.9M359.1 439.3Q358.2 437.0 354.3 434.3M354.3 434.3Q353.1 434.7 353.3 433.9M375.3 422.1Q376.2 421.2 377.1 420.2M375.3 422.1Q383.3 426.5 392.9 430.9M383.2 419.0Q383.5 418.4 382.8 418.9M382.8 418.9Q380.3 419.7 377.1 420.2M330.4 406.9Q336.7 407.4 340.9 408.2M330.4 406.9Q331.4 407.8 329.2 409.3M340.9 408.2Q340.3 409.3 339.8 411.7M332.6 412.1Q333.4 411.6 334.7 412.5M334.7 412.5Q337.2 411.5 339.8 411.7M360.7 415.9Q359.4 415.2 359.0 415.7M360.7 415.9Q360.6 418.1 362.1 421.6M362.1 421.6Q359.9 420.7 359.2 422.0M359.2 422.0Q358.7 420.4 355.6 419.3M359.0 415.7Q361.0 417.4 355.6 419.3M340.9 408.2Q342.9 409.4 342.2 407.6M353.1 410.1Q354.0 411.4 353.4 413.0M353.1 410.1Q346.4 408.8 344.1 407.5M344.1 407.5Q343.2 407.1 342.2 407.6M339.8 411.7Q341.3 412.6 342.6 413.5M342.6 413.5Q345.9 414.8 349.6 414.4M353.4 413.0Q350.7 414.7 349.6 414.4M326.9 401.5Q333.2 402.6 335.3 402.3M326.9 401.5Q326.5 403.4 327.1 405.4M335.3 402.3Q330.7 404.5 329.9 406.5M327.1 405.4Q329.2 406.2 329.9 406.5M317.4 405.6Q323.6 406.1 327.1 405.4M323.7 399.6Q324.7 400.0 326.9 401.5M330.4 406.9Q329.9 406.7 329.9 406.5M342.2 407.6Q337.4 404.6 336.2 402.2M336.2 402.2Q337.3 402.6 335.3 402.3M310.1 435.8Q314.5 435.9 319.2 436.4M310.1 435.8Q308.3 434.5 307.5 432.0M307.5 432.0Q309.6 430.0 310.3 427.5M322.0 433.6Q322.3 435.6 320.4 436.0M322.0 433.6Q321.8 431.7 321.4 429.5M321.4 429.5Q317.6 429.1 312.8 426.8M319.2 436.4Q320.8 437.3 320.4 436.0M312.8 426.8Q310.4 427.7 310.3 427.5M305.1 439.3Q309.6 437.8 310.1 435.8M320.0 444.4Q320.4 440.5 319.2 436.4M335.7 433.3Q328.0 433.7 322.0 433.6M332.3 439.8Q326.2 438.8 320.4 436.0M336.3 430.0Q330.3 428.8 325.9 427.4M325.9 427.4Q322.6 429.1 321.4 429.5M319.4 421.9Q321.7 423.4 325.9 425.7M319.4 421.9Q317.4 421.6 314.6 421.4M314.6 421.4Q312.5 424.1 312.8 426.8M325.9 427.4Q325.5 426.8 325.9 425.7M299.8 421.2Q299.3 422.7 300.5 424.6M312.0 418.9Q313.5 420.3 314.6 421.4M300.5 424.6Q304.5 425.3 310.3 427.5M300.5 424.6Q298.7 425.7 298.6 426.0M307.5 432.0Q305.1 432.2 298.9 431.1M298.6 426.0Q297.7 427.5 298.9 431.1M293.5 440.0Q296.3 437.3 294.8 432.9M294.8 432.9Q295.8 430.7 298.9 431.1M338.9 424.6Q338.2 424.8 338.3 424.9M338.9 424.6Q337.4 420.5 337.5 418.1M338.3 424.9Q334.3 423.9 330.7 422.5M330.7 422.5Q328.5 420.9 328.7 418.9M337.5 418.1Q335.7 416.8 335.1 417.6M335.1 417.6Q333.4 418.3 328.8 418.5M328.7 418.9Q327.9 418.8 328.8 418.5M337.5 429.4Q337.9 427.5 338.3 424.9M325.9 425.7Q328.2 424.3 330.7 422.5M319.4 421.9Q323.1 420.9 328.7 418.9M338.6 418.1Q341.9 418.4 341.3 416.7M338.6 418.1Q337.4 418.0 337.5 418.1M334.7 412.5Q334.7 415.8 335.1 417.6M341.3 416.7Q341.4 415.1 342.6 413.5M324.2 415.3Q327.0 416.4 328.8 418.5M344.3 388.0Q345.1 389.9 341.9 392.3M344.3 388.0Q347.3 389.2 354.7 391.2M341.9 392.3Q346.2 393.4 350.0 394.4M354.7 391.2Q351.9 392.8 350.0 394.4M343.0 387.0Q345.0 387.7 344.3 388.0M361.0 391.2Q360.4 391.4 354.7 391.2M337.8 393.8Q339.3 394.0 337.8 393.6M337.8 393.8Q341.7 394.9 344.1 397.2M337.8 393.6Q340.2 393.3 341.9 392.3M350.2 397.0Q346.7 397.7 344.1 397.2M350.2 397.0Q350.6 395.6 350.0 394.4M363.9 398.4Q363.8 399.3 362.3 399.4M350.2 397.0Q352.3 398.3 353.1 398.3M362.3 399.4Q358.6 398.7 353.1 398.3M305.3 390.4Q308.1 392.1 310.6 393.5M305.3 390.4Q309.3 390.0 310.6 388.4M310.6 388.4Q312.8 390.5 316.3 391.7M310.6 393.5Q315.1 393.8 316.3 391.7M303.3 390.4Q305.3 390.4 305.3 390.4M310.5 396.3Q311.1 395.4 310.6 393.5M318.7 384.4Q316.3 384.4 313.9 383.1M318.7 384.4Q319.7 386.3 318.8 387.2M318.8 387.2Q316.5 386.7 311.3 387.6M313.9 383.1Q311.1 384.1 308.4 385.1M308.4 385.1Q309.1 386.4 311.3 387.6M313.0 380.8Q314.1 381.7 313.9 383.1M324.1 382.9Q321.0 383.8 318.7 384.4M302.5 384.0Q304.9 385.0 308.4 385.1M310.6 388.4Q310.1 388.5 311.3 387.6M282.0 432.6Q281.8 432.1 280.0 432.1M282.0 432.6Q283.7 431.0 288.8 429.8M280.0 432.1Q279.8 430.5 277.5 428.7M277.5 428.7Q282.5 426.6 285.9 425.1M288.8 429.8Q289.0 429.4 288.5 426.9M285.9 425.1Q288.2 425.5 288.5 426.9M284.4 437.9Q284.4 434.5 282.0 432.6M272.9 434.3Q276.3 432.9 280.0 432.1M294.8 432.9Q293.1 431.4 288.8 429.8M273.3 427.9Q269.8 428.7 267.9 429.8M273.3 427.9Q275.8 428.6 277.5 428.7M285.6 424.0Q284.9 424.4 285.9 425.1M273.3 427.9Q275.0 423.7 273.8 422.1M276.2 421.4Q273.9 420.9 273.8 422.1M298.6 426.0Q293.8 426.4 288.5 426.9M265.2 419.3Q269.1 420.6 271.0 421.8M265.2 419.3Q262.3 422.0 258.1 424.4M271.0 421.8Q268.9 423.9 264.2 425.7M258.1 424.4Q260.5 424.3 264.2 425.7M273.8 422.1Q273.9 421.2 271.0 421.8M264.7 418.6Q262.8 419.8 265.2 419.3M253.0 425.2Q255.2 423.2 258.1 424.4M266.7 429.8Q263.1 427.9 264.2 425.7M327.1 397.6Q332.0 398.7 336.5 400.0M327.1 397.6Q329.1 396.0 328.0 395.9M328.0 395.9Q332.1 396.3 335.3 395.3M336.5 400.0Q337.0 398.0 335.3 395.3M337.5 400.6Q337.0 401.2 336.2 402.2M337.5 400.6Q336.2 400.5 336.5 400.0M323.8 399.0Q326.7 399.0 327.1 397.6M337.5 400.6Q339.0 399.8 341.5 400.3M337.8 393.8Q336.1 393.8 335.3 395.3M341.5 400.3Q343.2 398.2 344.1 397.2M338.9 386.4Q337.3 386.8 334.4 387.6M337.8 393.6Q335.9 391.6 332.0 390.8M332.0 390.8Q332.7 388.7 334.4 387.6M325.5 383.0Q325.4 384.9 327.4 386.1M327.4 386.1Q332.2 387.4 334.4 387.6M325.3 393.3Q327.3 392.5 328.3 390.9M325.3 393.3Q323.4 393.1 320.5 393.1M320.5 393.1Q321.3 391.7 317.7 391.8M317.7 391.8Q317.6 388.4 320.7 388.1M328.3 390.9Q326.7 388.6 323.1 388.3M320.7 388.1Q322.2 388.7 323.1 388.3M328.0 395.9Q325.5 395.0 325.3 393.3M332.0 390.8Q329.1 391.4 328.3 390.9M318.1 396.2Q320.8 394.0 320.5 393.1M316.3 391.7Q315.9 391.3 317.7 391.8M318.8 387.2Q317.6 387.1 320.7 388.1M327.4 386.1Q326.3 386.8 323.1 388.3M346.7 404.3Q344.5 402.7 343.1 400.9M346.7 404.3Q350.3 404.3 352.4 403.8M343.1 400.9Q345.6 402.0 350.8 401.0M352.4 403.8Q351.1 401.9 350.8 401.0M344.1 407.5Q344.9 406.3 346.7 404.3M341.5 400.3Q342.3 401.2 343.1 400.9M357.3 408.5Q356.9 409.3 353.1 410.1M357.3 408.5Q356.7 406.0 355.5 404.8M355.5 404.8Q354.5 404.7 352.4 403.8M353.1 398.3Q350.8 399.3 350.8 401.0M362.3 399.4Q361.8 401.0 362.9 401.4M362.9 401.4Q360.5 403.4 355.5 404.8M348.9 431.0Q349.6 428.3 348.7 425.8M338.9 424.6Q341.4 424.3 343.5 424.1M348.7 425.8Q346.1 425.1 343.5 424.1M338.6 418.1Q341.1 418.9 344.9 420.8M343.5 424.1Q345.0 421.7 344.9 420.8M358.3 423.2Q360.2 427.0 361.4 427.5M358.3 423.2Q355.8 424.1 352.4 423.3M352.4 423.3Q350.2 424.6 350.6 425.4M350.6 425.4Q354.6 426.8 359.1 428.3M359.1 428.3Q359.2 427.2 361.4 427.5M354.3 434.3Q356.4 430.8 359.1 428.3M348.7 425.8Q348.8 425.1 350.6 425.4M392.0 432.8Q381.9 429.6 375.7 428.5M371.7 442.2Q370.6 434.8 368.8 430.2M375.7 428.5Q373.0 429.5 368.8 430.2M361.4 427.5Q364.5 426.3 365.0 428.0M368.8 430.2Q364.4 428.6 365.0 428.0M367.9 420.9Q367.1 421.9 364.7 421.9M367.9 420.9Q371.3 421.3 374.5 422.4M364.7 421.9Q366.0 423.2 366.8 425.3M366.8 425.3Q368.6 424.2 373.5 424.8M374.5 422.4Q375.4 423.2 373.5 424.8M360.7 415.9Q361.9 415.2 365.4 415.8M365.4 415.8Q368.8 419.4 367.9 420.9M362.1 421.6Q362.5 421.6 364.7 421.9M375.3 422.1Q374.9 421.4 374.5 422.4M365.4 415.8Q367.0 415.6 367.6 414.8M367.6 414.8Q371.9 417.8 377.1 420.2M359.2 422.0Q358.7 422.7 358.3 423.2M365.0 428.0Q366.2 426.3 366.8 425.3M375.7 428.5Q374.6 426.1 373.5 424.8M389.5 411.9Q391.3 412.8 388.6 411.9M382.8 418.9Q381.8 417.3 379.7 414.9M388.6 411.9Q383.1 412.8 379.7 414.9M346.6 417.7Q349.1 416.6 349.5 415.0M346.6 417.7Q348.5 420.1 348.1 420.1M349.5 415.0Q352.4 417.4 352.9 419.1M352.9 419.1Q350.2 419.7 349.7 420.4M348.1 420.1Q348.3 420.2 349.7 420.4M341.3 416.7Q344.0 417.2 346.6 417.7M349.6 414.4Q349.1 414.2 349.5 415.0M344.9 420.8Q346.4 420.1 348.1 420.1M359.0 415.7Q356.2 413.6 353.4 413.0M355.6 419.3Q353.6 419.4 352.9 419.1M352.4 423.3Q352.4 421.9 349.7 420.4M369.1 412.3Q371.3 412.9 374.5 412.6M369.1 412.3Q366.1 410.1 365.9 409.7M374.5 412.6Q376.3 410.4 378.3 409.5M365.9 409.7Q368.3 408.4 368.5 405.4M371.7 405.5Q371.4 405.8 368.5 405.4M371.7 405.5Q376.4 408.2 378.1 408.9M378.1 408.9Q377.6 408.1 378.3 409.5M367.6 414.8Q367.0 412.7 369.1 412.3M379.7 414.9Q379.6 414.3 374.5 412.6M357.3 408.5Q361.5 408.8 365.9 409.7M388.6 411.9Q383.5 411.3 378.3 409.5M362.9 401.4Q364.2 402.4 368.5 405.4M378.0 403.3Q373.0 405.0 371.7 405.5M383.0 406.0Q381.0 408.6 378.1 408.9" stroke="#e02a3a" stroke-width="0.95" fill="none" stroke-linecap="round" opacity="0.8"/><g filter="url(#blur2)"><circle cx="271.0" cy="423.6" r="0.61" fill="#ff2a3a" opacity="0.8"/><circle cx="269.4" cy="425.4" r="0.54" fill="#ff2a3a" opacity="0.8"/><circle cx="271.7" cy="425.2" r="0.97" fill="#ff2a3a" opacity="0.8"/><circle cx="269.7" cy="424.1" r="0.61" fill="#ff2a3a" opacity="0.8"/><circle cx="266.2" cy="425.1" r="1.01" fill="#ff2a3a" opacity="0.8"/><circle cx="270.5" cy="424.6" r="0.99" fill="#ff2a3a" opacity="0.8"/><circle cx="271.5" cy="424.9" r="0.65" fill="#ff2a3a" opacity="0.8"/><circle cx="271.5" cy="425.5" r="0.96" fill="#ff2a3a" opacity="0.8"/><circle cx="268.2" cy="422.3" r="0.55" fill="#ff2a3a" opacity="0.8"/><circle cx="270.4" cy="424.8" r="0.91" fill="#ff2a3a" opacity="0.8"/><circle cx="273.1" cy="423.2" r="0.81" fill="#ff2a3a" opacity="0.8"/><circle cx="268.3" cy="424.4" r="0.99" fill="#ff2a3a" opacity="0.8"/><circle cx="266.5" cy="425.7" r="0.99" fill="#ff2a3a" opacity="0.8"/><circle cx="268.9" cy="426.3" r="0.94" fill="#ff2a3a" opacity="0.8"/><circle cx="268.1" cy="425.4" r="0.64" fill="#ff2a3a" opacity="0.8"/></g><circle cx="300.9" cy="394.5" r="0.64" fill="#66f050" opacity="0.95"/><circle cx="300.6" cy="393.9" r="0.98" fill="#66f050" opacity="0.95"/><circle cx="301.2" cy="394.1" r="0.73" fill="#66f050" opacity="0.95"/><circle cx="345.7" cy="430.4" r="0.74" fill="#66f050" opacity="0.95"/><circle cx="347.6" cy="431.6" r="0.73" fill="#66f050" opacity="0.95"/><circle cx="349.0" cy="431.7" r="1.07" fill="#66f050" opacity="0.95"/><circle cx="347.2" cy="431.9" r="0.99" fill="#66f050" opacity="0.95"/><circle cx="345.0" cy="431.3" r="1.04" fill="#66f050" opacity="0.95"/><circle cx="345.6" cy="430.7" r="0.79" fill="#66f050" opacity="0.95"/><circle cx="328.1" cy="454.8" r="0.89" fill="#66f050" opacity="0.95"/><circle cx="327.1" cy="457.3" r="1.07" fill="#66f050" opacity="0.95"/><circle cx="328.0" cy="457.9" r="0.85" fill="#66f050" opacity="0.95"/><circle cx="326.9" cy="457.0" r="1.07" fill="#66f050" opacity="0.95"/><circle cx="325.2" cy="456.4" r="1.05" fill="#66f050" opacity="0.95"/><circle cx="323.9" cy="457.2" r="0.78" fill="#66f050" opacity="0.95"/><circle cx="328.4" cy="456.1" r="0.86" fill="#66f050" opacity="0.95"/><circle cx="385.2" cy="415.4" r="1.09" fill="#66f050" opacity="0.95"/><circle cx="384.9" cy="415.2" r="1.08" fill="#66f050" opacity="0.95"/><circle cx="268.8" cy="405.3" r="1.04" fill="#66f050" opacity="0.95"/><circle cx="270.4" cy="405.0" r="0.91" fill="#66f050" opacity="0.95"/><circle cx="269.3" cy="404.8" r="0.78" fill="#66f050" opacity="0.95"/>
</g>
<polygon points="240.8,406.6 319.6,374.9 396.2,413.6 319.2,460.5" stroke="#a8a8b8" stroke-width="0.5" fill="none"/>
<polyline points="240.8,406.6 240.8,412.6 319.2,466.5 396.2,419.6 396.2,413.6" stroke="#b0b0c0" stroke-width="0.5" fill="none"/>
<line x1="319.2" y1="460.5" x2="319.2" y2="466.5" stroke="#c0c0d0" stroke-width="0.5"/>
<rect x="417" y="368" width="164" height="105" fill="#000"/>
<polygon points="420.8,411.0 500.7,465.7 577.1,409.2 577.1,411.8 500.7,468.3 420.8,413.6" stroke="none" fill="#14145a"/>
<clipPath id="q416"><polygon points="420.8,411.0 498.5,369.1 577.1,409.2 500.7,465.7"/></clipPath>
<g clip-path="url(#q416)">
<polygon points="420.8,411.0 498.5,369.1 577.1,409.2 500.7,465.7" fill="#06082a"/>
<g filter="url(#blur)"><polygon points="493.9,371.7 496.7,371.0 500.5,367.5 492.7,362.5 491.2,363.2 488.2,369.3 492.2,371.6" fill="#1e2aa8" opacity="0.34"/><polygon points="512.5,397.6 510.7,398.8 513.3,401.9 517.0,401.0 517.9,400.3 515.7,397.2 515.1,397.1" fill="#1e2aa8" opacity="0.38"/><polygon points="461.4,376.6 460.4,376.4 463.7,370.0 470.9,372.8 468.9,375.3" fill="#1e2aa8" opacity="0.38"/><polygon points="428.2,423.0 426.9,427.7 415.1,435.5 406.0,435.6 415.2,420.5 425.9,420.4" fill="#1e2aa8" opacity="0.25"/><polygon points="491.4,381.3 487.9,378.8 491.7,376.0 493.4,376.1 495.6,379.3 494.9,380.0" fill="#1e2aa8" opacity="0.38"/><polygon points="444.9,395.8 444.3,390.5 449.1,388.5 456.5,391.0 453.9,394.6" fill="#1e2aa8" opacity="0.39"/><polygon points="458.1,406.4 465.1,408.8 464.7,412.2 459.3,413.6 452.2,412.2 452.1,412.1 457.2,406.6" fill="#1e2aa8" opacity="0.37"/><polygon points="492.1,468.2 492.3,469.6 490.3,474.2 484.1,477.9 479.8,471.6 490.7,467.8" fill="#1e2aa8" opacity="0.66"/><polygon points="547.7,383.5 551.1,388.9 545.1,391.7 539.3,391.7 536.8,389.1 539.1,386.0" fill="#1e2aa8" opacity="0.58"/><polygon points="518.2,403.4 520.4,405.5 520.3,407.0 519.5,407.5 512.9,405.7 514.3,404.3" fill="#1e2aa8" opacity="0.34"/><polygon points="563.4,433.6 571.1,439.1 578.3,437.6 575.0,431.9 570.1,431.2" fill="#1e2aa8" opacity="0.35"/><polygon points="471.4,384.2 465.4,383.8 466.0,387.4 471.6,386.3" fill="#1e2aa8" opacity="0.25"/><polygon points="533.4,416.5 537.0,416.7 540.8,411.0 535.9,407.8 533.4,407.8 531.3,409.6 530.3,413.9 531.5,415.4" fill="#1e2aa8" opacity="0.47"/><polygon points="544.0,401.1 548.5,398.2 552.3,399.0 553.8,403.3 552.8,404.3" fill="#1e2aa8" opacity="0.28"/><polygon points="440.4,395.9 440.0,391.6 424.8,388.9 434.2,397.6 439.5,396.8" fill="#1e2aa8" opacity="0.46"/><polygon points="507.6,422.1 505.8,424.8 500.2,423.7 502.1,420.9" fill="#1e2aa8" opacity="0.55"/><polygon points="537.9,406.0 543.6,409.7 553.1,408.7 552.3,405.3 542.5,401.8 542.0,401.8" fill="#1e2aa8" opacity="0.38"/><polygon points="510.4,407.8 511.8,407.2 518.1,408.9 518.0,410.8 513.1,411.8" fill="#1e2aa8" opacity="0.25"/><polygon points="469.0,420.9 470.5,418.4 466.8,416.1 462.3,417.3 461.9,418.2 462.8,422.5 462.9,422.6" fill="#1e2aa8" opacity="0.59"/><polygon points="445.7,386.5 449.3,380.1 433.7,377.5 422.3,385.2 422.4,385.2 440.9,388.5" fill="#1e2aa8" opacity="0.60"/><polygon points="512.8,363.2 530.1,352.5 527.0,344.3 505.2,349.4 499.5,357.4 508.4,362.8" fill="#1e2aa8" opacity="0.67"/><polygon points="449.6,422.7 449.8,423.1 459.5,424.7 458.2,418.1" fill="#1e2aa8" opacity="0.34"/><polygon points="489.2,437.6 490.6,437.1 492.7,434.4 489.4,430.1 481.6,431.6 479.7,433.7 480.1,436.0" fill="#1e2aa8" opacity="0.43"/><polygon points="520.6,393.0 518.3,389.6 522.2,388.4 524.2,388.7 524.6,392.8" fill="#1e2aa8" opacity="0.49"/><polygon points="507.5,400.0 510.4,403.5 508.9,405.0 507.3,405.7 503.8,405.6 500.9,404.1 501.4,401.7 506.8,400.0" fill="#1e2aa8" opacity="0.25"/><polygon points="556.2,431.0 552.0,431.3 544.8,425.6 544.6,422.2 551.8,421.8 556.2,424.6" fill="#1e2aa8" opacity="0.38"/><polygon points="559.2,422.5 555.2,419.9 560.8,414.6 563.4,415.4 567.3,420.0 564.4,422.0" fill="#1e2aa8" opacity="0.30"/><polygon points="526.9,393.7 526.4,388.4 526.8,388.3 534.6,389.7 537.1,392.2 532.9,395.3 530.9,395.5" fill="#1e2aa8" opacity="0.28"/><polygon points="516.9,428.4 517.3,426.3 510.1,427.1 510.7,429.1" fill="#1e2aa8" opacity="0.27"/><polygon points="497.5,386.7 497.1,388.1 501.5,389.0 503.2,386.0 500.7,385.8" fill="#1e2aa8" opacity="0.64"/><polygon points="500.8,395.3 499.4,394.2 497.2,394.5 495.9,396.2 497.7,396.9 500.8,395.6" fill="#1e2aa8" opacity="0.57"/><polygon points="540.3,364.9 534.1,357.5 520.2,366.3 521.4,367.2 529.8,368.4" fill="#1e2aa8" opacity="0.43"/><polygon points="527.9,435.5 531.6,434.4 535.7,437.5 530.0,440.5 527.6,439.5" fill="#1e2aa8" opacity="0.49"/><polygon points="467.6,397.1 469.5,393.5 475.0,393.2 477.7,394.7 472.4,398.3" fill="#1e2aa8" opacity="0.61"/><polygon points="489.8,447.2 492.5,449.1 497.1,449.1 498.6,445.3 493.6,442.0 492.4,442.4" fill="#1e2aa8" opacity="0.42"/><polygon points="501.0,390.8 500.7,390.4 496.6,389.6 494.8,390.6 496.8,392.5 499.4,392.3" fill="#1e2aa8" opacity="0.43"/><polygon points="488.1,426.1 488.7,425.2 483.1,418.9 477.6,419.5 475.7,422.6 480.0,427.6" fill="#1e2aa8" opacity="0.33"/><polygon points="547.7,392.7 553.1,390.2 562.5,393.2 561.7,394.2 553.4,397.3 549.6,396.4" fill="#1e2aa8" opacity="0.68"/><polygon points="444.0,455.1 458.1,449.2 465.7,451.7 464.1,455.3 447.1,457.8 444.0,455.6" fill="#1e2aa8" opacity="0.43"/><polygon points="532.2,378.6 530.1,374.9 532.4,372.0 548.3,366.6 555.4,370.4 547.5,378.6" fill="#1e2aa8" opacity="0.58"/><polygon points="572.5,412.5 576.0,409.0 579.3,409.9 585.4,415.1" fill="#1e2aa8" opacity="0.58"/><polygon points="448.1,418.9 450.4,415.3 456.4,416.4 456.0,417.4 450.2,420.4" fill="#1e2aa8" opacity="0.56"/><polygon points="475.0,429.3 471.1,424.8 464.5,426.7 463.7,430.2 473.2,431.3" fill="#1e2aa8" opacity="0.56"/><polygon points="556.9,413.3 556.6,413.0 553.1,411.1 545.6,412.0 542.2,417.2 545.0,418.7 551.5,418.4" fill="#1e2aa8" opacity="0.67"/><polygon points="495.5,469.7 493.0,475.4 499.1,477.0 502.7,473.8" fill="#1e2aa8" opacity="0.27"/><polygon points="510.0,466.7 505.8,465.1 500.5,467.3 500.8,468.4 505.7,471.2 514.1,470.9 513.8,469.7" fill="#1e2aa8" opacity="0.68"/><polygon points="461.1,383.4 458.1,381.2 457.0,381.0 455.6,381.3 453.0,386.0 458.5,387.9 461.2,387.4 461.7,386.8" fill="#1e2aa8" opacity="0.50"/><polygon points="483.5,388.5 482.5,388.4 479.4,389.4 478.6,391.5 480.6,392.6 482.5,392.8 485.2,390.3" fill="#1e2aa8" opacity="0.38"/><polygon points="453.5,437.0 459.4,441.8 457.8,445.4 441.1,452.3 438.7,447.0 448.5,437.8" fill="#1e2aa8" opacity="0.27"/><polygon points="446.5,398.2 453.9,397.2 457.6,399.4 455.5,402.8 454.7,402.9 447.8,401.4 445.6,399.1" fill="#1e2aa8" opacity="0.34"/><polygon points="501.9,435.9 498.3,435.9 496.1,438.9 502.2,442.8 505.1,441.9 506.3,438.6" fill="#1e2aa8" opacity="0.51"/><polygon points="486.9,465.4 477.0,468.8 475.4,468.0 477.2,462.2 483.5,461.7" fill="#1e2aa8" opacity="0.31"/><polygon points="576.5,404.6 575.9,405.0 577.3,406.8 579.6,407.4 582.9,404.7 582.7,404.2 582.5,404.0" fill="#1e2aa8" opacity="0.30"/><polygon points="498.8,453.5 501.8,455.2 502.5,461.2 494.8,464.4 493.1,463.9 488.5,459.0 492.3,453.5" fill="#1e2aa8" opacity="0.47"/><polygon points="475.3,375.9 477.8,372.6 483.4,371.7 488.0,374.5 483.6,377.7 479.8,378.3" fill="#1e2aa8" opacity="0.29"/><polygon points="457.5,427.3 457.3,427.3 451.2,426.3 448.4,429.7 450.9,432.6 454.3,432.0 456.7,430.5" fill="#1e2aa8" opacity="0.59"/><polygon points="514.2,420.9 519.0,424.5 518.4,425.2 508.8,426.2 508.5,425.9 511.0,422.1" fill="#1e2aa8" opacity="0.52"/><polygon points="522.1,409.3 522.0,411.2 527.0,412.8 527.8,409.3 522.8,408.8" fill="#1e2aa8" opacity="0.40"/><polygon points="510.5,377.8 510.1,376.5 513.5,375.1 516.1,376.7 515.3,377.9 512.1,378.3" fill="#1e2aa8" opacity="0.33"/><polygon points="564.0,401.1 568.6,403.8 572.0,403.9 572.9,403.3 569.9,393.5 565.6,394.0 564.7,395.0" fill="#1e2aa8" opacity="0.64"/><polygon points="521.9,444.0 518.5,446.7 519.1,450.4 521.5,451.4 531.3,452.7 531.6,452.6 527.9,444.9 524.7,443.7" fill="#1e2aa8" opacity="0.53"/><polygon points="530.9,405.4 522.9,405.7 522.8,407.7 529.8,408.3 532.3,406.2" fill="#1e2aa8" opacity="0.66"/><polygon points="588.3,415.4 592.4,417.3 594.4,415.5 586.5,406.7 582.2,410.3" fill="#1e2aa8" opacity="0.52"/><polygon points="516.0,417.3 527.9,416.2 526.5,414.6 520.3,412.5 514.1,413.8 513.7,414.6" fill="#1e2aa8" opacity="0.38"/><polygon points="475.6,369.6 466.6,366.1 465.0,363.4 484.5,361.8 481.0,368.7" fill="#1e2aa8" opacity="0.65"/><polygon points="428.0,398.9 416.7,399.2 412.9,389.0 418.7,387.8 418.9,387.9 429.6,397.9" fill="#1e2aa8" opacity="0.62"/><polygon points="561.2,362.2 577.2,364.9 606.4,352.5 555.4,335.4 546.0,344.8 549.2,352.0 556.3,359.6" fill="#1e2aa8" opacity="0.63"/><polygon points="520.7,434.1 517.4,435.3 516.5,437.3 520.5,439.9 523.0,439.6 523.4,434.9" fill="#1e2aa8" opacity="0.30"/><polygon points="510.5,414.0 510.9,413.2 507.4,407.9 503.3,407.7 498.1,413.7 501.5,415.6" fill="#1e2aa8" opacity="0.56"/><polygon points="557.1,383.1 559.3,386.5 566.0,388.6 568.7,388.3 574.4,386.8 579.3,383.6 578.2,378.7 562.4,375.9 557.3,381.6" fill="#1e2aa8" opacity="0.39"/><polygon points="484.0,406.5 485.5,413.2 482.4,415.1 476.0,415.9 470.5,412.6 470.9,408.6 476.6,405.9 482.6,405.7" fill="#1e2aa8" opacity="0.41"/><polygon points="502.5,396.5 498.2,398.4 500.0,400.3 505.6,398.6" fill="#1e2aa8" opacity="0.47"/><polygon points="517.0,420.1 521.2,423.3 525.1,422.9 530.2,418.7 528.4,417.7 517.2,418.7" fill="#1e2aa8" opacity="0.38"/><polygon points="518.7,432.0 517.4,429.7 510.7,430.4 510.6,430.9 515.2,433.2" fill="#1e2aa8" opacity="0.36"/><polygon points="597.1,414.6 620.1,405.4 587.9,404.0 588.2,404.9" fill="#1e2aa8" opacity="0.33"/><polygon points="485.1,449.3 489.2,452.2 485.0,458.1 475.8,458.8 472.3,455.6 474.4,450.7 477.2,449.0" fill="#1e2aa8" opacity="0.39"/><polygon points="498.0,419.1 495.9,422.1 492.9,423.2 487.7,417.4 490.1,415.8 495.4,415.9 497.9,417.4" fill="#1e2aa8" opacity="0.56"/><polygon points="568.7,415.0 573.1,414.3 585.8,416.8 590.0,418.7 589.9,419.4 580.5,421.7 572.9,419.7" fill="#1e2aa8" opacity="0.35"/><polygon points="444.1,420.5 432.6,422.1 431.1,427.4 443.0,429.2 447.6,423.5 447.3,423.0" fill="#1e2aa8" opacity="0.62"/><polygon points="501.3,407.0 497.9,405.3 487.1,406.0 488.7,413.1 496.0,413.2" fill="#1e2aa8" opacity="0.63"/><polygon points="541.5,399.9 541.9,399.9 546.2,397.1 544.4,393.4 539.2,393.4 535.5,396.3" fill="#1e2aa8" opacity="0.68"/><polygon points="461.0,360.7 485.7,358.7 488.0,357.8 495.6,347.7 425.7,341.1 438.1,352.7" fill="#1e2aa8" opacity="0.66"/><polygon points="440.9,399.5 433.8,400.6 431.9,401.8 430.4,407.6 433.8,410.0 438.0,409.4 443.8,402.6" fill="#1e2aa8" opacity="0.56"/><polygon points="562.6,411.7 562.3,411.3 568.2,406.3 571.0,406.4 572.7,408.6 569.4,411.9 565.2,412.5" fill="#1e2aa8" opacity="0.61"/><polygon points="488.5,383.4 484.7,385.6 483.5,385.5 480.1,381.8 480.7,380.8 484.6,380.2 488.6,383.2" fill="#1e2aa8" opacity="0.57"/><polygon points="532.0,398.7 533.4,398.6 537.7,401.3 535.0,403.9 533.2,404.0 532.4,403.5 529.9,400.9" fill="#1e2aa8" opacity="0.41"/><polygon points="512.8,391.5 513.9,390.6 515.8,390.6 517.8,393.5 515.9,394.5 515.3,394.4" fill="#1e2aa8" opacity="0.56"/><polygon points="569.9,428.2 576.2,429.1 579.0,423.6 570.5,421.4 567.1,423.8" fill="#1e2aa8" opacity="0.32"/><polygon points="587.8,402.0 588.0,402.2 620.0,403.5 620.4,403.4 591.6,386.4 584.4,391.3" fill="#1e2aa8" opacity="0.58"/><polygon points="468.2,458.2 471.3,461.0 468.9,468.3 453.3,470.1 448.3,461.2" fill="#1e2aa8" opacity="0.62"/><polygon points="442.1,417.8 434.8,418.7 433.0,416.9 435.9,413.1 438.7,412.7 444.3,414.1 444.4,414.3" fill="#1e2aa8" opacity="0.66"/><polygon points="536.2,432.1 541.9,428.7 547.4,433.1 543.3,435.9 540.7,435.5 536.2,432.2" fill="#1e2aa8" opacity="0.54"/><polygon points="527.8,381.9 521.9,382.2 520.7,383.9 523.1,386.3 525.1,386.6 525.5,386.6 528.3,383.5" fill="#1e2aa8" opacity="0.30"/><polygon points="530.4,383.6 527.0,387.4 535.0,388.8 537.3,385.6" fill="#1e2aa8" opacity="0.36"/><polygon points="484.0,398.3 481.9,396.7 479.9,396.4 475.7,399.3 477.9,402.3 482.2,402.2" fill="#1e2aa8" opacity="0.44"/><polygon points="471.9,436.5 471.6,434.7 463.4,433.7 461.0,435.3 465.2,438.6 471.1,437.4" fill="#1e2aa8" opacity="0.43"/><polygon points="582.6,424.8 593.2,422.2 613.5,443.7 584.2,437.9 579.8,430.4" fill="#1e2aa8" opacity="0.28"/><polygon points="556.4,402.2 561.5,400.7 562.0,396.2 555.2,398.8" fill="#1e2aa8" opacity="0.33"/><polygon points="474.4,384.0 477.8,382.5 481.1,386.2 477.3,387.4 474.7,386.4" fill="#1e2aa8" opacity="0.45"/><polygon points="491.2,383.7 495.9,386.0 500.0,384.9 496.3,381.6 491.3,383.4" fill="#1e2aa8" opacity="0.41"/><polygon points="544.2,454.5 560.8,460.8 561.7,450.6 548.0,442.9" fill="#1e2aa8" opacity="0.64"/><polygon points="490.7,384.8 486.7,387.1 489.2,389.4 492.1,389.5 494.3,388.4 494.7,386.8" fill="#1e2aa8" opacity="0.43"/><polygon points="507.8,390.8 503.8,390.2 503.4,389.6 505.4,386.1 506.0,386.0 508.4,386.2 511.6,389.0 510.1,390.2" fill="#1e2aa8" opacity="0.51"/><polygon points="520.1,387.0 517.7,384.5 513.5,384.4 510.8,385.8 513.7,388.2 515.9,388.3" fill="#1e2aa8" opacity="0.57"/><polygon points="507.3,391.7 503.1,391.1 500.9,393.0 503.1,394.7 507.0,393.7" fill="#1e2aa8" opacity="0.36"/><polygon points="407.6,413.4 406.6,407.6 412.5,405.9 414.8,409.4 410.8,413.7" fill="#1e2aa8" opacity="0.65"/><polygon points="517.7,454.1 512.2,463.0 506.4,460.7 505.6,454.9 515.1,453.0" fill="#1e2aa8" opacity="0.51"/><polygon points="533.8,419.3 537.5,419.6 540.7,421.4 540.8,424.8 533.4,429.2 528.5,423.7" fill="#1e2aa8" opacity="0.32"/><polygon points="521.9,431.6 520.4,428.8 520.9,426.3 521.4,425.7 525.6,425.2 530.6,430.8 530.5,431.0 525.2,432.5" fill="#1e2aa8" opacity="0.61"/><polygon points="507.2,394.8 504.1,395.6 504.1,396.0 507.0,397.9 507.7,397.9 509.6,396.6" fill="#1e2aa8" opacity="0.40"/><polygon points="459.3,404.1 468.4,407.1 474.7,404.3 471.6,399.8 466.0,398.3 462.1,399.5" fill="#1e2aa8" opacity="0.55"/><polygon points="574.8,402.2 572.1,393.7 580.0,391.6 582.9,401.4" fill="#1e2aa8" opacity="0.40"/><polygon points="497.6,381.4 498.6,380.4 503.8,380.8 504.9,384.7 504.3,384.9 501.2,384.7" fill="#1e2aa8" opacity="0.65"/><polygon points="483.7,445.5 486.3,440.9 478.5,439.5 477.7,440.4 478.7,445.4" fill="#1e2aa8" opacity="0.32"/><polygon points="444.6,435.8 434.2,445.3 418.3,437.9 430.3,429.8 441.1,431.5" fill="#1e2aa8" opacity="0.46"/><polygon points="509.2,392.5 509.0,393.8 510.9,395.2 513.1,394.9 510.8,392.1" fill="#1e2aa8" opacity="0.45"/><polygon points="488.3,395.7 486.5,394.4 489.1,392.0 491.2,392.1 492.9,393.7 491.6,395.4" fill="#1e2aa8" opacity="0.61"/><polygon points="543.5,440.1 543.9,440.8 540.1,452.3 536.5,451.8 532.4,443.7 540.2,439.6" fill="#1e2aa8" opacity="0.65"/><polygon points="555.7,408.5 559.7,410.5 566.3,405.1 562.2,402.6 555.9,404.4 554.9,405.5" fill="#1e2aa8" opacity="0.52"/><polygon points="513.5,434.6 508.8,432.3 504.7,434.6 509.0,437.3 512.6,436.7" fill="#1e2aa8" opacity="0.26"/><polygon points="472.9,387.6 475.9,388.7 474.7,391.8 468.9,392.2 465.1,389.8 465.8,389.0" fill="#1e2aa8" opacity="0.29"/><polygon points="519.6,375.5 525.7,374.7 527.8,372.1 516.2,370.3 515.9,373.4" fill="#1e2aa8" opacity="0.49"/><polygon points="557.5,434.9 553.9,435.1 549.4,438.3 549.8,438.9 561.7,445.5 565.4,440.6 557.6,434.9" fill="#1e2aa8" opacity="0.38"/><polygon points="559.0,431.8 558.9,425.1 564.8,424.5 567.5,428.9 559.1,431.9" fill="#1e2aa8" opacity="0.29"/><polygon points="533.2,381.3 533.6,382.5 537.9,383.7 543.3,382.3 543.6,380.8 533.7,380.8" fill="#1e2aa8" opacity="0.29"/><polygon points="513.0,419.6 513.2,418.2 511.0,415.5 502.6,417.0 502.8,419.1 510.0,420.7" fill="#1e2aa8" opacity="0.44"/><polygon points="496.9,375.3 500.0,374.6 505.4,376.4 505.9,378.0 503.4,379.0 499.3,378.7" fill="#1e2aa8" opacity="0.41"/><polygon points="452.8,377.0 436.2,374.2 436.1,355.5 458.3,363.3 460.1,366.7 454.8,376.6" fill="#1e2aa8" opacity="0.28"/><polygon points="418.1,408.2 427.6,407.5 429.1,401.9 416.2,402.3 415.1,403.8" fill="#1e2aa8" opacity="0.51"/><polygon points="454.3,405.4 448.4,411.7 440.7,409.8 445.9,403.5" fill="#1e2aa8" opacity="0.26"/><polygon points="518.2,383.0 513.5,382.9 512.5,379.8 517.2,379.3 519.5,381.2" fill="#1e2aa8" opacity="0.50"/><polygon points="426.0,416.7 416.5,416.8 414.6,415.1 418.8,410.5 426.9,409.9 429.6,412.0" fill="#1e2aa8" opacity="0.34"/><polygon points="527.9,380.1 521.5,380.5 519.2,378.6 520.3,376.9 526.6,376.1 528.5,379.5" fill="#1e2aa8" opacity="0.52"/><polygon points="508.7,384.2 506.8,384.0 505.9,380.9 508.4,379.9 510.2,380.4 511.1,382.9" fill="#1e2aa8" opacity="0.53"/><polygon points="512.2,447.0 507.1,445.5 504.5,446.3 502.9,450.5 505.2,451.8 512.6,450.3" fill="#1e2aa8" opacity="0.65"/><polygon points="531.6,456.4 520.4,468.3 514.9,464.1 520.4,455.0" fill="#1e2aa8" opacity="0.53"/><polygon points="472.1,382.1 474.9,380.8 475.3,380.1 471.7,378.1 463.6,379.5 466.6,381.7" fill="#1e2aa8" opacity="0.38"/><polygon points="520.8,401.5 519.8,402.3 522.4,404.9 529.7,404.6 526.1,400.9" fill="#1e2aa8" opacity="0.60"/><polygon points="505.3,430.0 501.7,432.0 498.6,432.0 495.5,428.2 496.1,427.4 499.0,426.3 504.7,427.4 504.9,427.6 505.5,429.5" fill="#1e2aa8" opacity="0.38"/><polygon points="474.4,447.1 472.1,448.4 463.6,445.7 465.0,442.3 473.2,440.6" fill="#1e2aa8" opacity="0.30"/><polygon points="518.0,396.2 520.8,400.1 526.0,399.5 529.1,396.5 525.4,394.8 520.7,395.0" fill="#1e2aa8" opacity="0.45"/><polygon points="513.0,373.0 513.4,369.6 511.6,368.3 506.0,367.8 500.7,372.8 507.8,375.1" fill="#1e2aa8" opacity="0.65"/><polygon points="461.6,397.4 464.6,396.5 466.3,393.3 463.1,391.2 459.8,391.9 457.5,395.0" fill="#1e2aa8" opacity="0.50"/><polygon points="488.7,398.9 486.8,403.2 488.0,403.8 496.2,403.2 496.6,401.1 495.0,399.4 492.8,398.5" fill="#1e2aa8" opacity="0.58"/><polygon points="517.6,441.7 514.6,444.0 509.4,442.6 510.4,439.6 513.7,439.1" fill="#1e2aa8" opacity="0.30"/></g><path d="M549.5 324.1Q592.8 337.8 637.4 352.4M549.5 324.1Q542.1 331.5 533.2 339.3M419.0 339.1Q458.7 342.8 500.9 346.8M533.2 339.3Q517.6 343.4 500.9 346.8M533.2 339.3Q535.7 346.0 538.1 351.4M500.9 346.8Q496.9 352.9 492.1 358.7M492.1 358.7Q497.9 363.3 505.4 367.1M538.1 351.4Q523.8 359.7 512.2 367.6M505.4 367.1Q507.8 367.0 512.2 367.6M419.0 339.1Q425.8 345.8 433.2 352.7M492.1 358.7Q489.3 358.4 489.4 359.8M489.4 359.8Q474.5 361.0 460.2 362.2M433.2 352.7Q445.0 357.3 460.2 362.2M637.4 352.4Q615.5 362.6 587.6 374.7M626.1 404.8Q609.4 393.9 590.0 383.6M590.0 383.6Q587.9 379.4 587.6 374.7M489.4 359.8Q485.6 365.7 484.4 370.1M460.2 362.2Q459.1 364.7 462.5 366.2M462.5 366.2Q470.3 368.7 476.2 371.5M484.4 370.1Q478.7 370.9 476.2 371.5M449.6 472.8Q462.8 470.7 471.8 470.1M471.8 470.1Q472.8 471.4 474.7 471.6M481.4 481.9Q477.0 475.7 474.7 471.6M499.6 477.9Q492.5 475.6 491.6 475.8M481.4 481.9Q487.0 478.7 491.6 475.8M499.6 477.9Q504.3 475.8 504.3 473.8M520.4 473.2Q513.8 475.2 504.3 473.8M491.6 475.8Q493.5 473.5 494.8 468.4M504.3 473.8Q498.2 471.0 494.8 468.4M619.3 446.8Q599.7 443.9 582.7 439.5M619.3 446.8Q608.0 431.5 593.8 420.0M582.7 439.5Q579.9 434.2 577.2 430.1M593.8 420.0Q588.4 421.6 580.7 423.2M577.2 430.1Q581.0 427.2 580.7 423.2M625.6 404.9Q611.9 410.9 596.7 416.5M625.6 404.9Q607.2 403.6 585.3 403.2M585.3 403.2Q586.3 404.9 585.6 404.3M585.6 404.3Q590.7 409.5 596.7 416.5M626.1 404.8Q624.9 405.1 625.6 404.9M593.8 420.0Q594.9 419.2 593.9 419.0M596.7 416.5Q599.0 418.6 593.9 419.0M538.1 351.4Q545.3 357.4 550.0 365.0M512.2 367.6Q514.0 369.3 514.4 369.3M514.4 369.3Q521.1 370.4 530.3 371.7M530.3 371.7Q540.5 368.5 550.0 365.0M587.6 374.7Q573.1 372.4 558.7 369.6M550.0 365.0Q552.1 368.3 558.7 369.6M433.2 352.7Q433.7 363.9 433.1 375.5M433.1 375.5Q425.9 380.2 417.9 385.6M409.8 387.2Q417.2 385.6 417.9 385.6M415.0 401.7Q424.0 401.3 431.1 401.2M415.0 401.7Q412.2 393.6 409.8 387.2M417.9 385.6Q417.2 386.3 418.1 385.7M418.1 385.7Q424.4 393.7 433.3 399.8M433.3 399.8Q432.4 401.1 431.1 401.2M404.4 406.3Q404.7 410.3 405.9 415.4M404.4 406.3Q408.0 405.1 413.6 403.6M413.6 403.6Q418.0 406.3 417.3 409.0M417.3 409.0Q414.1 412.6 410.9 415.9M410.9 415.9Q408.7 417.0 405.9 415.4M415.0 401.7Q414.1 402.2 413.6 403.6M429.2 408.2Q429.2 405.7 431.1 401.2M429.2 408.2Q425.4 407.6 417.3 409.0M413.8 418.4Q405.9 428.2 401.2 438.6M413.8 418.4Q409.9 416.1 410.9 415.9M579.6 409.3Q583.9 411.9 588.1 416.4M579.6 409.3Q572.8 408.1 575.2 408.1M575.2 408.1Q573.3 410.4 570.3 412.9M588.1 416.4Q581.4 414.3 570.3 412.9M585.6 404.3Q580.5 406.0 579.6 409.3M593.9 419.0Q590.5 417.2 588.1 416.4M580.9 389.6Q574.0 390.2 570.2 392.5M580.9 389.6Q582.4 396.2 585.0 403.0M570.2 392.5Q569.2 398.0 573.8 404.1M585.0 403.0Q577.8 404.8 573.8 404.1M585.3 403.2Q586.0 402.4 585.0 403.0M590.0 383.6Q583.6 387.8 580.9 389.6M572.7 404.9Q572.2 405.6 573.8 404.1M572.7 404.9Q575.7 405.7 575.2 408.1M471.8 470.1Q471.5 467.9 475.0 460.0M474.7 471.6Q486.0 469.8 492.2 465.6M475.0 460.0Q481.9 459.6 486.1 459.1M486.1 459.1Q488.7 464.8 492.2 465.6M494.8 468.4Q490.9 466.8 494.4 466.3M492.2 465.6Q494.7 466.1 494.4 466.3M462.5 366.2Q461.5 372.1 456.0 378.5M433.1 375.5Q443.9 377.2 453.6 378.9M456.0 378.5Q455.9 378.5 453.6 378.9M505.4 367.1Q500.9 369.0 498.9 373.2M514.4 369.3Q513.8 371.2 514.0 373.5M498.9 373.2Q502.9 374.0 507.5 376.0M507.5 376.0Q512.2 374.6 514.0 373.5M530.3 371.7Q528.1 374.0 527.5 375.3M527.5 375.3Q522.7 375.1 519.0 376.3M514.0 373.5Q514.3 375.9 519.0 376.3M507.5 376.0Q508.2 377.2 508.3 378.5M519.0 376.3Q519.4 377.1 517.5 378.6M517.5 378.6Q515.2 378.0 511.2 379.4M511.2 379.4Q510.9 378.1 508.3 378.5M413.8 418.4Q419.8 416.9 427.9 418.3M429.2 408.2Q431.4 410.9 433.3 411.2M433.3 411.2Q430.7 414.7 427.9 418.3M413.5 438.5Q406.6 439.9 401.2 438.6M413.5 438.5Q421.6 434.8 429.3 428.0M429.3 428.0Q430.4 424.1 431.1 421.7M427.9 418.3Q428.1 420.2 431.1 421.7M564.0 394.3Q559.1 396.2 553.0 398.3M564.0 394.3Q562.7 398.9 563.2 401.5M563.2 401.5Q560.1 404.3 554.9 403.9M553.0 398.3Q553.4 402.6 554.9 403.9M572.7 404.9Q570.1 405.7 568.6 404.7M565.1 393.0Q565.9 393.2 564.0 394.3M565.1 393.0Q565.2 392.6 570.2 392.5M568.6 404.7Q566.2 401.9 563.2 401.5M460.8 446.1Q469.1 448.4 473.2 450.1M460.8 446.1Q449.4 453.5 437.6 455.8M442.7 460.2Q456.4 458.1 470.7 456.0M442.7 460.2Q439.1 459.4 437.5 456.7M470.7 456.0Q473.6 453.4 473.2 450.1M437.5 456.7Q439.9 456.2 437.6 455.8M449.6 472.8Q445.9 466.4 442.7 460.2M475.0 460.0Q473.2 458.0 470.7 456.0M413.5 438.5Q426.2 443.1 434.4 448.3M434.4 448.3Q434.9 451.4 437.6 455.8M498.9 373.2Q494.7 374.5 494.0 374.4M504.3 380.3Q504.7 378.5 508.3 378.5M504.3 380.3Q501.0 380.3 497.8 379.8M497.8 379.8Q494.9 376.3 494.0 374.4M484.4 370.1Q486.0 371.8 491.2 374.2M491.2 374.2Q493.6 374.0 494.0 374.4M476.2 371.5Q476.1 372.4 472.4 376.3M484.7 378.9Q489.3 375.8 491.2 374.2M484.7 378.9Q482.8 379.8 479.0 379.8M479.0 379.8Q473.0 378.4 472.4 376.3M456.0 378.5Q459.2 378.4 458.0 378.8M472.4 376.3Q467.4 376.9 458.0 378.8M434.4 448.3Q441.6 442.8 448.0 435.7M429.3 428.0Q435.7 429.3 443.3 430.1M443.3 430.1Q444.7 432.4 448.0 435.7M462.9 441.2Q464.9 442.6 460.8 446.1M462.9 441.2Q459.4 438.1 454.8 434.6M448.0 435.7Q450.4 435.3 454.8 434.6M504.3 380.3Q505.4 382.8 505.7 385.2M505.7 385.2Q506.6 387.1 508.8 385.5M511.2 379.4Q509.4 382.0 512.6 383.5M512.6 383.5Q509.7 385.2 508.8 385.5M448.9 413.3Q445.8 418.2 444.7 419.9M448.9 413.3Q455.9 414.5 459.8 415.4M459.8 415.4Q460.0 415.6 459.1 417.2M459.1 417.2Q453.2 419.2 448.4 422.8M448.4 422.8Q446.5 421.9 444.7 419.9M433.3 411.2Q434.2 411.5 438.5 410.5M431.1 421.7Q438.2 421.6 444.7 419.9M448.7 413.1Q443.7 411.2 438.5 410.5M448.7 413.1Q451.3 413.8 448.9 413.3M448.8 423.3Q456.0 423.7 460.7 425.3M448.8 423.3Q447.9 422.4 448.4 422.8M460.7 425.3Q459.6 421.7 459.1 417.2M448.8 423.3Q445.2 425.5 443.3 430.1M582.7 439.5Q574.2 440.8 570.8 442.0M563.8 464.4Q562.5 457.5 565.0 450.0M570.8 442.0Q566.3 445.2 565.0 450.0M565.1 393.0Q556.3 390.3 552.6 389.0M553.0 398.3Q550.5 398.0 547.9 397.2M552.6 389.0Q547.0 390.1 545.4 392.3M547.9 397.2Q547.7 393.1 545.4 392.3M486.1 459.1Q486.7 453.6 491.2 452.0M494.4 466.3Q498.8 464.9 504.6 462.0M504.6 462.0Q504.1 458.2 503.6 454.2M503.6 454.2Q500.8 452.4 499.7 451.8M491.2 452.0Q494.2 452.4 499.7 451.8M520.4 473.2Q518.6 472.1 519.9 470.8M504.6 462.0Q509.1 463.4 512.5 465.1M519.9 470.8Q516.8 469.2 512.5 465.1M468.4 392.9Q466.7 395.2 465.8 397.7M468.4 392.9Q473.0 392.3 475.9 392.4M475.9 392.4Q476.6 394.5 479.6 394.5M479.6 394.5Q474.1 397.6 472.4 399.4M472.4 399.4Q469.8 398.7 465.8 397.7M418.1 385.7Q429.0 388.1 442.6 390.0M453.6 378.9Q453.5 383.7 448.9 387.4M442.6 390.0Q448.2 388.1 448.9 387.4M464.4 388.7Q464.9 384.6 463.4 382.7M464.4 388.7Q469.3 388.3 473.5 386.9M463.4 382.7Q467.7 382.0 473.2 383.4M473.5 386.9Q473.6 384.2 473.2 383.4M463.6 389.8Q459.9 389.7 458.6 390.7M463.6 389.8Q464.5 390.0 464.4 388.7M458.0 378.8Q458.9 381.1 463.4 382.7M458.6 390.7Q454.1 389.3 448.9 387.4M463.6 389.8Q467.6 390.5 468.4 392.9M475.9 392.4Q476.2 389.1 477.4 388.4M477.4 388.4Q472.9 386.8 473.5 386.9M479.0 379.8Q479.1 379.7 478.2 381.2M478.2 381.2Q475.3 381.5 473.2 383.4M477.4 388.4Q478.3 387.6 483.1 386.7M483.1 386.7Q479.6 384.1 478.2 381.2M460.7 425.3Q459.0 426.5 460.9 425.4M454.8 434.6Q456.0 431.5 459.6 431.5M459.6 431.5Q457.4 428.7 460.9 425.4M468.1 413.2Q472.2 416.9 475.2 417.6M468.1 413.2Q463.5 413.1 459.8 415.4M475.2 417.6Q477.1 418.7 472.3 422.3M460.9 425.4Q463.6 423.6 472.3 422.3M517.5 378.6Q517.8 379.0 520.6 381.2M512.6 383.5Q516.6 383.9 518.8 383.6M520.6 381.2Q518.3 382.5 518.8 383.6M568.6 404.7Q564.9 409.5 559.9 412.0M559.9 412.0Q558.2 410.5 554.6 409.2M554.9 403.9Q554.8 404.1 553.6 405.3M553.6 405.3Q553.8 407.8 554.6 409.2M547.9 397.2Q545.5 398.6 542.0 401.1M553.6 405.3Q546.5 402.8 542.0 401.1M520.5 411.8Q522.5 409.8 520.6 408.7M520.5 411.8Q524.9 413.1 528.8 414.5M528.8 414.5Q529.8 411.4 530.1 408.6M530.1 408.6Q527.0 407.8 521.8 407.9M521.8 407.9Q521.9 407.9 520.6 408.7M545.4 392.3Q542.6 393.2 538.5 392.3M538.5 392.3Q538.4 394.4 533.4 396.1M542.0 401.1Q540.7 401.0 541.5 401.1M533.4 396.1Q535.9 399.6 541.5 401.1M543.3 410.5Q540.4 409.4 536.5 406.0M543.3 410.5Q549.0 411.1 554.6 409.2M541.5 401.1Q537.8 404.2 536.5 406.0M530.1 408.6Q532.2 406.4 533.1 406.1M522.0 405.5Q523.0 406.8 521.8 407.9M522.0 405.5Q527.8 407.3 531.5 405.2M533.1 406.1Q530.8 406.2 531.5 405.2M459.6 431.5Q468.3 432.6 475.8 433.4M472.3 422.3Q477.7 426.1 478.9 429.9M475.8 433.4Q475.8 432.4 478.9 429.9M475.2 417.6Q477.6 418.5 483.6 416.5M483.6 416.5Q487.5 422.0 492.2 426.3M492.2 426.3Q488.9 427.3 491.3 427.6M478.9 429.9Q486.3 428.9 491.3 427.6M563.8 464.4Q551.0 459.8 540.4 455.5M565.0 450.0Q554.0 444.6 545.8 439.3M545.8 439.3Q545.5 449.5 540.4 455.5M503.6 454.2Q509.0 451.1 516.4 451.5M502.5 444.8Q499.5 447.9 499.7 451.8M502.5 444.8Q507.2 445.5 506.9 443.4M506.9 443.4Q512.6 443.8 515.5 445.8M516.4 451.5Q516.2 448.3 515.5 445.8M512.5 465.1Q514.6 459.3 520.0 453.1M516.4 451.5Q517.5 450.3 520.0 453.1M519.9 470.8Q531.6 463.5 534.8 455.0M520.0 453.1Q528.7 454.8 534.8 455.0M540.4 455.5Q537.7 454.9 535.3 454.9M534.8 455.0Q532.2 456.0 535.3 454.9M455.2 395.4Q450.9 395.4 443.3 397.0M455.2 395.4Q459.3 398.2 461.3 399.0M461.3 399.0Q457.8 400.7 457.9 404.4M445.5 402.2Q451.8 404.6 456.6 404.7M445.5 402.2Q444.6 399.5 441.9 398.5M456.6 404.7Q458.0 404.0 457.9 404.4M441.9 398.5Q445.7 396.8 443.3 397.0M458.6 390.7Q458.6 392.6 455.2 395.4M442.6 390.0Q444.7 393.3 443.3 397.0M465.8 397.7Q463.4 398.0 461.3 399.0M468.7 408.0Q472.1 406.5 476.1 404.7M468.7 408.0Q464.8 406.1 457.9 404.4M476.1 404.7Q475.6 401.1 472.4 399.4M448.7 413.1Q451.2 407.5 456.6 404.7M438.5 410.5Q440.9 406.3 445.5 402.2M433.3 399.8Q437.8 399.2 441.9 398.5M468.1 413.2Q468.4 411.1 468.7 408.0M483.1 394.9Q485.4 392.7 488.3 390.1M483.1 394.9Q481.0 395.1 479.6 394.5M483.1 386.7Q483.3 386.9 484.9 386.8M488.3 390.1Q484.8 388.2 484.9 386.8M483.7 404.4Q485.2 403.8 485.5 405.4M483.7 404.4Q485.9 400.2 486.7 397.6M485.5 405.4Q492.2 405.0 498.7 404.5M496.8 398.4Q495.7 399.3 499.4 401.0M496.8 398.4Q495.9 397.3 493.2 396.9M499.4 401.0Q496.9 403.3 498.7 404.5M493.2 396.9Q490.3 398.2 486.7 397.6M483.6 416.5Q486.0 414.9 487.5 414.0M476.1 404.7Q481.3 404.2 483.7 404.4M487.5 414.0Q484.5 409.3 485.5 405.4M483.1 394.9Q484.2 394.9 486.7 397.6M495.8 393.5Q493.6 390.4 492.5 390.3M495.8 393.5Q495.0 396.2 493.2 396.9M492.5 390.3Q492.2 390.3 488.3 390.1M487.5 414.0Q490.2 414.8 496.4 414.1M498.7 404.5Q500.3 405.4 502.8 406.7M496.4 414.1Q499.3 410.9 502.8 406.7M520.5 411.8Q515.4 412.1 512.3 413.5M510.2 405.8Q514.6 407.4 520.6 408.7M510.2 405.8Q508.8 406.2 507.9 406.9M512.3 413.5Q508.7 411.1 507.9 406.9M508.8 385.5Q512.7 387.8 512.9 389.1M512.9 389.1Q515.0 389.8 516.3 389.2M518.8 383.6Q521.3 386.3 522.3 387.2M516.3 389.2Q519.3 388.3 522.3 387.2M495.8 393.5Q497.9 393.5 500.1 393.1M502.3 389.9Q497.9 388.5 495.5 388.7M502.3 389.9Q502.3 389.5 502.9 390.7M495.5 388.7Q494.7 390.0 492.5 390.3M500.1 393.1Q500.8 391.7 502.9 390.7M510.2 405.8Q514.2 404.5 512.4 403.6M522.0 405.5Q522.6 403.6 518.6 402.2M512.4 403.6Q516.2 402.7 518.6 402.2M559.9 412.0Q558.0 412.6 560.4 412.6M538.1 418.5Q540.6 420.8 542.3 420.8M538.1 418.5Q543.7 413.5 543.3 410.5M542.3 420.8Q548.6 421.5 552.1 420.3M552.1 420.3Q556.1 416.3 560.4 412.6M580.7 423.2Q576.6 422.5 570.0 420.5M570.3 412.9Q568.7 412.8 564.2 413.8M570.0 420.5Q567.2 418.2 564.2 413.8M564.2 413.8Q560.7 413.1 560.4 412.6M545.8 439.3Q543.8 438.5 545.2 438.3M535.3 454.9Q533.6 450.8 529.5 443.3M529.5 443.3Q534.0 441.1 540.5 437.6M540.5 437.6Q540.5 438.5 545.2 438.3M502.5 444.8Q497.6 442.1 493.3 438.8M506.9 443.4Q507.8 440.8 508.6 438.5M493.3 438.8Q495.8 438.1 496.6 434.4M496.6 434.4Q499.5 433.5 502.0 434.3M508.6 438.5Q504.6 436.2 502.0 434.3M474.8 438.7Q475.0 442.9 476.7 448.1M474.8 438.7Q477.3 437.9 476.3 436.9M476.3 436.9Q483.9 438.6 491.0 439.6M491.0 439.6Q489.3 445.3 486.2 448.4M476.7 448.1Q481.5 448.9 486.2 448.4M462.9 441.2Q468.4 439.1 474.8 438.7M473.2 450.1Q472.1 449.9 476.7 448.1M475.8 433.4Q474.3 435.4 476.3 436.9M491.3 427.6Q493.7 431.0 496.6 434.4M493.3 438.8Q493.4 440.8 491.0 439.6M491.2 452.0Q488.3 451.8 486.2 448.4M542.6 425.4Q547.2 428.3 552.4 433.3M542.6 425.4Q540.9 427.9 532.6 431.4M552.4 433.3Q549.7 435.9 545.2 438.3M540.5 437.6Q537.3 435.0 532.5 431.7M532.5 431.7Q533.4 432.6 532.6 431.4M501.1 385.2Q499.2 385.1 496.1 386.5M501.1 385.2Q498.6 384.4 496.6 381.1M496.1 386.5Q492.7 384.6 490.5 383.7M496.6 381.1Q495.1 381.6 490.6 383.3M490.6 383.3Q490.0 384.7 490.5 383.7M504.9 385.4Q500.9 387.3 502.3 389.9M504.9 385.4Q502.2 385.6 501.1 385.2M495.5 388.7Q496.3 389.7 496.1 386.5M505.7 385.2Q505.7 385.3 504.9 385.4M497.8 379.8Q497.3 380.7 496.6 381.1M484.9 386.8Q486.7 385.5 490.5 383.7M484.7 378.9Q488.4 380.4 490.6 383.3M496.8 398.4Q499.9 396.8 502.9 395.8M499.4 401.0Q506.2 399.4 507.2 398.6M507.2 398.6Q506.2 397.4 502.9 395.8M507.9 406.9Q506.0 406.7 502.8 406.7M512.4 403.6Q510.6 398.4 508.2 398.6M507.2 398.6Q507.7 398.7 508.2 398.6M500.1 393.1Q501.0 392.8 502.9 395.1M502.9 395.8Q502.7 396.0 502.9 395.1M526.8 400.3Q527.8 399.7 530.9 396.3M526.8 400.3Q524.4 399.0 519.9 401.1M519.9 401.1Q517.0 400.0 516.3 396.0M530.9 396.3Q530.3 396.4 526.1 394.1M526.1 394.1Q522.0 394.1 519.8 394.4M519.8 394.4Q520.4 395.2 516.3 396.0M533.4 396.1Q535.4 396.8 530.9 396.3M536.5 406.0Q535.4 405.7 533.1 406.1M531.5 405.2Q528.6 403.0 526.8 400.3M518.6 402.2Q518.4 401.6 519.9 401.1M538.5 392.3Q533.8 390.2 535.5 389.3M525.4 387.7Q526.5 390.8 526.1 394.1M525.4 387.7Q525.1 388.9 525.9 387.6M535.5 389.3Q527.9 389.6 525.9 387.6M516.3 389.2Q517.8 391.5 519.8 394.4M525.4 387.7Q525.6 387.7 522.3 387.2M538.3 385.5Q535.2 383.7 530.0 383.1M538.3 385.5Q544.4 383.0 548.6 382.6M549.1 379.8Q538.6 379.8 530.1 379.8M549.1 379.8Q547.9 381.4 548.6 382.6M530.0 383.1Q527.0 381.8 529.3 380.7M530.1 379.8Q531.5 379.8 529.3 380.7M535.5 389.3Q538.1 387.0 538.3 385.5M525.9 387.6Q528.3 386.5 530.0 383.1M552.6 389.0Q550.0 384.8 548.6 382.6M558.7 369.6Q552.6 373.3 549.1 379.8M527.5 375.3Q528.8 376.6 530.1 379.8M520.6 381.2Q525.0 380.1 529.3 380.7M565.7 423.4Q563.2 423.3 558.0 424.1M565.7 423.4Q568.3 425.9 569.1 429.0M558.0 424.1Q559.4 428.5 558.2 432.9M569.1 429.0Q561.8 428.9 558.3 432.9M558.3 432.9Q557.3 432.8 558.2 432.9M552.1 420.3Q554.7 422.3 558.0 424.1M570.0 420.5Q570.2 421.0 565.7 423.4M577.2 430.1Q571.4 430.2 569.1 429.0M542.3 420.8Q542.2 421.8 542.6 425.4M552.4 433.3Q554.8 432.5 558.2 432.9M570.8 442.0Q564.5 437.0 558.3 432.9M492.2 426.3Q494.4 425.2 497.3 424.4M507.7 426.7Q508.0 427.8 507.3 426.3M507.7 426.7Q508.7 428.1 508.6 430.0M502.0 434.3Q507.1 431.6 508.4 430.7M497.3 424.4Q502.5 425.5 507.3 426.3M508.6 430.0Q507.3 430.1 508.4 430.7M507.7 426.7Q514.6 424.3 519.7 425.4M519.7 425.4Q521.0 426.6 519.0 428.8M508.6 430.0Q512.4 430.0 519.0 428.8M538.1 418.5Q534.8 418.7 533.1 418.1M532.6 431.4Q529.0 426.6 526.0 424.0M526.0 424.0Q527.5 420.9 533.1 418.1M528.8 414.5Q531.1 414.7 530.5 416.6M530.5 416.6Q532.3 417.2 533.1 418.1M500.5 416.5Q506.7 417.2 511.8 414.5M500.5 416.5Q497.3 417.3 500.7 419.4M500.7 419.4Q505.3 419.4 510.5 421.6M511.8 414.5Q514.9 416.1 514.8 418.1M514.8 418.1Q515.4 419.4 514.4 420.1M510.5 421.6Q512.7 420.0 514.4 420.1M496.4 414.1Q496.4 415.0 500.5 416.5M512.3 413.5Q510.8 413.8 511.8 414.5M497.3 424.4Q497.1 422.1 500.7 419.4M507.3 426.3Q512.0 422.7 510.5 421.6M530.5 416.6Q523.1 419.2 514.8 418.1M520.4 424.6Q521.3 425.4 526.0 424.0M520.4 424.6Q515.2 422.4 514.4 420.1M519.7 425.4Q520.0 425.7 520.4 424.6M515.4 395.9Q512.5 394.7 511.1 396.6M515.4 395.9Q511.9 393.1 510.9 390.7M511.1 396.6Q510.6 395.4 507.6 393.9M507.6 393.9Q505.8 393.0 508.0 391.5M510.9 390.7Q509.4 391.9 508.0 391.5M508.2 398.6Q508.4 397.5 511.1 396.6M516.3 396.0Q514.5 395.9 515.4 395.9M512.9 389.1Q513.6 390.7 510.9 390.7M502.9 395.1Q502.9 395.1 507.6 393.9M502.9 390.7Q503.6 389.8 508.0 391.5M514.1 437.6Q515.6 435.9 515.6 434.3M514.1 437.6Q515.8 438.8 520.7 441.9M515.6 434.3Q520.2 432.3 521.0 432.5M524.8 441.4Q523.7 442.6 520.7 441.9M524.8 441.4Q522.6 438.1 525.4 433.7M525.4 433.7Q521.1 434.2 521.0 432.5M508.6 438.5Q511.1 437.7 514.1 437.6M508.4 430.7Q512.4 433.1 515.6 434.3M515.5 445.8Q517.0 444.1 520.7 441.9M519.0 428.8Q519.3 431.9 521.0 432.5M529.5 443.3Q528.6 443.7 524.8 441.4M532.5 431.7Q528.9 433.4 525.4 433.7" stroke="#ff2a44" stroke-width="0.95" fill="none" stroke-linecap="round" opacity="0.95"/><g filter="url(#blur2)"><circle cx="526.5" cy="416.7" r="0.92" fill="#ff2a3a" opacity="0.8"/><circle cx="532.2" cy="419.7" r="0.69" fill="#ff2a3a" opacity="0.8"/><circle cx="532.0" cy="421.6" r="0.89" fill="#ff2a3a" opacity="0.8"/><circle cx="525.6" cy="415.1" r="0.87" fill="#ff2a3a" opacity="0.8"/><circle cx="524.9" cy="421.4" r="0.73" fill="#ff2a3a" opacity="0.8"/><circle cx="530.3" cy="418.3" r="0.64" fill="#ff2a3a" opacity="0.8"/><circle cx="531.4" cy="421.7" r="0.70" fill="#ff2a3a" opacity="0.8"/><circle cx="524.8" cy="420.8" r="0.64" fill="#ff2a3a" opacity="0.8"/><circle cx="532.1" cy="419.8" r="1.00" fill="#ff2a3a" opacity="0.8"/><circle cx="525.4" cy="419.8" r="0.73" fill="#ff2a3a" opacity="0.8"/><circle cx="533.2" cy="417.0" r="1.03" fill="#ff2a3a" opacity="0.8"/><circle cx="529.7" cy="419.1" r="0.91" fill="#ff2a3a" opacity="0.8"/><circle cx="525.2" cy="419.9" r="1.04" fill="#ff2a3a" opacity="0.8"/><circle cx="529.2" cy="420.9" r="0.73" fill="#ff2a3a" opacity="0.8"/><circle cx="528.7" cy="416.9" r="1.02" fill="#ff2a3a" opacity="0.8"/><circle cx="529.9" cy="421.0" r="0.51" fill="#ff2a3a" opacity="0.8"/><circle cx="522.1" cy="421.9" r="1.07" fill="#ff2a3a" opacity="0.8"/><circle cx="526.6" cy="418.5" r="0.90" fill="#ff2a3a" opacity="0.8"/><circle cx="526.4" cy="419.2" r="0.65" fill="#ff2a3a" opacity="0.8"/><circle cx="528.9" cy="418.4" r="0.93" fill="#ff2a3a" opacity="0.8"/><circle cx="525.5" cy="419.4" r="0.67" fill="#ff2a3a" opacity="0.8"/><circle cx="519.9" cy="416.9" r="0.80" fill="#ff2a3a" opacity="0.8"/><circle cx="523.4" cy="414.5" r="0.65" fill="#ff2a3a" opacity="0.8"/><circle cx="523.5" cy="414.1" r="0.70" fill="#ff2a3a" opacity="0.8"/><circle cx="524.5" cy="414.7" r="0.88" fill="#ff2a3a" opacity="0.8"/><circle cx="524.4" cy="418.0" r="0.98" fill="#ff2a3a" opacity="0.8"/><circle cx="521.8" cy="413.3" r="1.00" fill="#ff2a3a" opacity="0.8"/><circle cx="526.4" cy="413.9" r="0.75" fill="#ff2a3a" opacity="0.8"/><circle cx="524.1" cy="416.7" r="1.01" fill="#ff2a3a" opacity="0.8"/><circle cx="523.5" cy="414.6" r="0.72" fill="#ff2a3a" opacity="0.8"/><circle cx="523.5" cy="414.8" r="0.63" fill="#ff2a3a" opacity="0.8"/><circle cx="524.7" cy="415.8" r="0.70" fill="#ff2a3a" opacity="0.8"/><circle cx="519.0" cy="412.3" r="0.95" fill="#ff2a3a" opacity="0.8"/><circle cx="519.6" cy="414.4" r="0.52" fill="#ff2a3a" opacity="0.8"/><circle cx="521.7" cy="412.4" r="0.99" fill="#ff2a3a" opacity="0.8"/><circle cx="518.5" cy="414.3" r="0.78" fill="#ff2a3a" opacity="0.8"/><circle cx="456.3" cy="394.7" r="1.07" fill="#ff2a3a" opacity="0.8"/><circle cx="457.2" cy="396.4" r="0.67" fill="#ff2a3a" opacity="0.8"/><circle cx="456.2" cy="397.8" r="0.81" fill="#ff2a3a" opacity="0.8"/><circle cx="457.6" cy="396.4" r="1.04" fill="#ff2a3a" opacity="0.8"/><circle cx="455.7" cy="395.1" r="0.65" fill="#ff2a3a" opacity="0.8"/><circle cx="456.9" cy="395.0" r="1.08" fill="#ff2a3a" opacity="0.8"/><circle cx="457.2" cy="396.6" r="0.65" fill="#ff2a3a" opacity="0.8"/><circle cx="455.5" cy="396.6" r="0.59" fill="#ff2a3a" opacity="0.8"/><circle cx="455.1" cy="396.0" r="0.79" fill="#ff2a3a" opacity="0.8"/><circle cx="456.4" cy="396.1" r="0.64" fill="#ff2a3a" opacity="0.8"/><circle cx="455.7" cy="397.5" r="0.68" fill="#ff2a3a" opacity="0.8"/><circle cx="459.6" cy="395.9" r="0.86" fill="#ff2a3a" opacity="0.8"/><circle cx="472.2" cy="439.5" r="0.61" fill="#ff2a3a" opacity="0.8"/><circle cx="469.8" cy="439.7" r="1.01" fill="#ff2a3a" opacity="0.8"/><circle cx="471.0" cy="440.7" r="0.88" fill="#ff2a3a" opacity="0.8"/><circle cx="469.4" cy="440.3" r="0.99" fill="#ff2a3a" opacity="0.8"/><circle cx="470.2" cy="439.1" r="0.86" fill="#ff2a3a" opacity="0.8"/><circle cx="473.2" cy="440.7" r="0.83" fill="#ff2a3a" opacity="0.8"/><circle cx="471.0" cy="441.9" r="0.52" fill="#ff2a3a" opacity="0.8"/><circle cx="474.7" cy="439.8" r="0.84" fill="#ff2a3a" opacity="0.8"/><circle cx="473.6" cy="438.6" r="0.61" fill="#ff2a3a" opacity="0.8"/><circle cx="472.9" cy="439.7" r="0.96" fill="#ff2a3a" opacity="0.8"/><circle cx="472.9" cy="440.3" r="0.60" fill="#ff2a3a" opacity="0.8"/><circle cx="473.0" cy="439.5" r="0.85" fill="#ff2a3a" opacity="0.8"/></g><circle cx="489.2" cy="417.5" r="1.17" fill="#66f050" opacity="0.95"/><circle cx="490.4" cy="417.4" r="0.76" fill="#66f050" opacity="0.95"/><circle cx="490.2" cy="416.6" r="0.95" fill="#66f050" opacity="0.95"/>
</g>
<polygon points="420.8,411.0 498.5,369.1 577.1,409.2 500.7,465.7" stroke="#a8a8b8" stroke-width="0.5" fill="none"/>
<polyline points="420.8,411.0 420.8,413.6 500.7,468.3 577.1,411.8 577.1,409.2" stroke="#b0b0c0" stroke-width="0.5" fill="none"/>
<line x1="500.7" y1="465.7" x2="500.7" y2="468.3" stroke="#c0c0d0" stroke-width="0.5"/>
<text x="61.50" y="467.30" font-size="10.8" text-anchor="start" font-weight="bold" fill="#1c1cb8" stroke="#1c1cb8" stroke-width="0.32" style="" >DAPI</text>
<text x="92.40" y="467.30" font-size="10.8" text-anchor="start" font-weight="bold" fill="#30d830" stroke="#30d830" stroke-width="0.32" style="" ><tspan font-style="italic">Sm</tspan></text>
<text x="168.80" y="467.30" font-size="10.8" text-anchor="start" font-weight="bold" fill="#ee2020" stroke="#ee2020" stroke-width="0.32" style="" >ZO-1</text>
<text x="32.50" y="503.00" font-size="13" text-anchor="start" font-weight="bold" fill="#111" stroke="#111" stroke-width="0.39" style="" >E.</text>
<line x1="91.20" y1="514.50" x2="91.20" y2="648.00" stroke="#111" stroke-width="1.6"/>
<line x1="90.40" y1="647.30" x2="234.30" y2="647.30" stroke="#111" stroke-width="1.6"/>
<line x1="86.80" y1="631.19" x2="91.20" y2="631.19" stroke="#111" stroke-width="1.4"/>
<text x="86.80" y="634.39" font-size="9" text-anchor="end" font-weight="bold" fill="#111" stroke="#111" stroke-width="0.27" style="" >10<tspan font-size="6.2" dy="-3.0">3</tspan></text>
<line x1="86.80" y1="614.52" x2="91.20" y2="614.52" stroke="#111" stroke-width="1.4"/>
<text x="86.80" y="617.72" font-size="9" text-anchor="end" font-weight="bold" fill="#111" stroke="#111" stroke-width="0.27" style="" >10<tspan font-size="6.2" dy="-3.0">4</tspan></text>
<line x1="86.80" y1="597.85" x2="91.20" y2="597.85" stroke="#111" stroke-width="1.4"/>
<text x="86.80" y="601.05" font-size="9" text-anchor="end" font-weight="bold" fill="#111" stroke="#111" stroke-width="0.27" style="" >10<tspan font-size="6.2" dy="-3.0">5</tspan></text>
<line x1="86.80" y1="581.18" x2="91.20" y2="581.18" stroke="#111" stroke-width="1.4"/>
<text x="86.80" y="584.38" font-size="9" text-anchor="end" font-weight="bold" fill="#111" stroke="#111" stroke-width="0.27" style="" >10<tspan font-size="6.2" dy="-3.0">6</tspan></text>
<line x1="86.80" y1="564.51" x2="91.20" y2="564.51" stroke="#111" stroke-width="1.4"/>
<text x="86.80" y="567.71" font-size="9" text-anchor="end" font-weight="bold" fill="#111" stroke="#111" stroke-width="0.27" style="" >10<tspan font-size="6.2" dy="-3.0">7</tspan></text>
<line x1="86.80" y1="547.84" x2="91.20" y2="547.84" stroke="#111" stroke-width="1.4"/>
<text x="86.80" y="551.04" font-size="9" text-anchor="end" font-weight="bold" fill="#111" stroke="#111" stroke-width="0.27" style="" >10<tspan font-size="6.2" dy="-3.0">8</tspan></text>
<line x1="86.80" y1="531.17" x2="91.20" y2="531.17" stroke="#111" stroke-width="1.4"/>
<text x="86.80" y="534.37" font-size="9" text-anchor="end" font-weight="bold" fill="#111" stroke="#111" stroke-width="0.27" style="" >10<tspan font-size="6.2" dy="-3.0">9</tspan></text>
<line x1="86.80" y1="514.50" x2="91.20" y2="514.50" stroke="#111" stroke-width="1.4"/>
<text x="86.80" y="517.70" font-size="9" text-anchor="end" font-weight="bold" fill="#111" stroke="#111" stroke-width="0.27" style="" >10<tspan font-size="6.2" dy="-3.0">10</tspan></text>
<text x="63.40" y="580.40" font-size="9.85" text-anchor="middle" font-weight="bold" fill="#111" stroke="#111" stroke-width="0.30" transform="rotate(-90 63.4 580.4)" style="" >CFU/lung <tspan font-style="italic">Sm</tspan></text>
<line x1="119.65" y1="560.10" x2="119.65" y2="573.10" stroke="#1a1a1a" stroke-width="1.6"/>
<line x1="119.65" y1="607.80" x2="119.65" y2="631.50" stroke="#1a1a1a" stroke-width="1.6"/>
<line x1="111.90" y1="560.10" x2="127.40" y2="560.10" stroke="#1a1a1a" stroke-width="1.6"/>
<line x1="111.90" y1="631.50" x2="127.40" y2="631.50" stroke="#1a1a1a" stroke-width="1.6"/>
<rect x="105.90" y="573.10" width="27.50" height="34.70" fill="#9a9898" stroke="#1a1a1a" stroke-width="1.6"/>
<line x1="105.90" y1="588.60" x2="133.40" y2="588.60" stroke="#1a1a1a" stroke-width="1.6"/>
<circle cx="115.30" cy="573.30" r="2.0" fill="#3a3a3a"/>
<circle cx="124.00" cy="570.60" r="2.0" fill="#3a3a3a"/>
<circle cx="115.30" cy="581.70" r="2.0" fill="#3a3a3a"/>
<circle cx="124.00" cy="585.50" r="2.0" fill="#3a3a3a"/>
<circle cx="119.70" cy="593.40" r="2.0" fill="#3a3a3a"/>
<circle cx="119.70" cy="600.40" r="2.0" fill="#3a3a3a"/>
<circle cx="119.70" cy="607.10" r="2.0" fill="#3a3a3a"/>
<circle cx="119.70" cy="618.00" r="2.0" fill="#3a3a3a"/>
<circle cx="119.70" cy="560.10" r="2.0" fill="#3a3a3a"/>
<circle cx="119.70" cy="631.50" r="2.0" fill="#3a3a3a"/>
<line x1="162.90" y1="523.70" x2="162.90" y2="523.70" stroke="#1a3a55" stroke-width="1.6"/>
<line x1="162.90" y1="569.50" x2="162.90" y2="577.90" stroke="#1a3a55" stroke-width="1.6"/>
<line x1="155.15" y1="523.70" x2="170.65" y2="523.70" stroke="#1a3a55" stroke-width="1.6"/>
<line x1="155.15" y1="577.90" x2="170.65" y2="577.90" stroke="#1a3a55" stroke-width="1.6"/>
<rect x="149.30" y="523.70" width="27.20" height="45.80" fill="#8fb0cf" stroke="#1a3a55" stroke-width="1.6"/>
<line x1="149.30" y1="553.70" x2="176.50" y2="553.70" stroke="#1a3a55" stroke-width="1.6"/>
<rect x="156.60" y="520.60" width="3.8" height="3.8" fill="#2a6898"/>
<rect x="165.10" y="520.60" width="3.8" height="3.8" fill="#2a6898"/>
<rect x="161.00" y="536.10" width="3.8" height="3.8" fill="#2a6898"/>
<rect x="161.00" y="551.80" width="3.8" height="3.8" fill="#2a6898"/>
<rect x="156.80" y="565.10" width="3.8" height="3.8" fill="#2a6898"/>
<rect x="165.20" y="568.10" width="3.8" height="3.8" fill="#2a6898"/>
<rect x="161.00" y="576.10" width="3.8" height="3.8" fill="#2a6898"/>
<line x1="206.05" y1="553.60" x2="206.05" y2="561.80" stroke="#8a7848" stroke-width="1.6"/>
<line x1="206.05" y1="616.70" x2="206.05" y2="629.75" stroke="#8a7848" stroke-width="1.6"/>
<line x1="198.30" y1="553.60" x2="213.80" y2="553.60" stroke="#8a7848" stroke-width="1.6"/>
<line x1="198.30" y1="629.75" x2="213.80" y2="629.75" stroke="#8a7848" stroke-width="1.6"/>
<rect x="192.30" y="561.80" width="27.50" height="54.90" fill="#fde59a" stroke="#8a7848" stroke-width="1.6"/>
<line x1="192.30" y1="606.00" x2="219.80" y2="606.00" stroke="#8a7848" stroke-width="1.6"/>
<polygon points="206.00,552.11 208.10,555.89 203.90,555.89" fill="#f4d47e" opacity="1"/>
<polygon points="206.00,560.11 208.10,563.89 203.90,563.89" fill="#f4d47e" opacity="1"/>
<polygon points="206.00,568.61 208.10,572.39 203.90,572.39" fill="#f4d47e" opacity="1"/>
<polygon points="206.00,604.11 208.10,607.89 203.90,607.89" fill="#f4d47e" opacity="1"/>
<polygon points="202.00,614.11 204.10,617.89 199.90,617.89" fill="#f4d47e" opacity="1"/>
<polygon points="210.00,615.11 212.10,618.89 207.90,618.89" fill="#f4d47e" opacity="1"/>
<polygon points="206.00,628.11 208.10,631.89 203.90,631.89" fill="#f4d47e" opacity="1"/>
<path d="M119.5 553.7V510.7H160.9V516.8M164.5 516.8V510.7H206V547.1" stroke="#222" stroke-width="1.3" fill="none"/>
<text x="140.30" y="510.30" font-size="15" text-anchor="middle" font-weight="bold" fill="#111" stroke="#111" stroke-width="0.45" style="" >**</text>
<text x="185.50" y="510.30" font-size="15" text-anchor="middle" font-weight="bold" fill="#111" stroke="#111" stroke-width="0.45" style="" >*</text>
<rect x="227.50" y="512.70" width="12.50" height="6.20" fill="#9a9898" stroke="#1a1a1a" stroke-width="1.5"/>
<text x="245.80" y="518.90" font-size="8.5" text-anchor="start" font-weight="bold" fill="#111" stroke="#111" stroke-width="0.26" style="" >- <tspan font-style="italic">Pa</tspan></text>
<rect x="227.50" y="526.10" width="12.50" height="6.80" fill="#8fb0cf" stroke="#1a3a55" stroke-width="1.5"/>
<text x="245.80" y="532.60" font-size="8.5" text-anchor="start" font-weight="bold" fill="#111" stroke="#111" stroke-width="0.26" style="" >+ <tspan font-style="italic">Pa</tspan></text>
<rect x="227.50" y="539.60" width="12.50" height="6.80" fill="#fde59a" stroke="#8a7848" stroke-width="1.5"/>
<text x="245.80" y="546.10" font-size="8.5" text-anchor="start" font-weight="bold" fill="#111" stroke="#111" stroke-width="0.26" style="" >+ <tspan font-style="italic">Pa lasB</tspan></text>
<text x="241.50" y="650.30" font-size="7.5" text-anchor="start" font-weight="bold" fill="#111" stroke="#111" stroke-width="0.22" style="" >LOD</text>
<text x="325.90" y="503.00" font-size="13" text-anchor="start" font-weight="bold" fill="#111" stroke="#111" stroke-width="0.39" style="" >F.</text>
<line x1="396.10" y1="516.70" x2="396.10" y2="648.00" stroke="#111" stroke-width="1.6"/>
<line x1="395.30" y1="647.30" x2="571.50" y2="647.30" stroke="#111" stroke-width="1.6"/>
<line x1="391.60" y1="631.50" x2="396.10" y2="631.50" stroke="#111" stroke-width="1.4"/>
<text x="390.00" y="635.10" font-size="9.8" text-anchor="end" font-weight="bold" fill="#111" stroke="#111" stroke-width="0.29" style="" >10<tspan font-size="7" dy="-3.0">3</tspan></text>
<line x1="391.60" y1="615.10" x2="396.10" y2="615.10" stroke="#111" stroke-width="1.4"/>
<text x="390.00" y="618.70" font-size="9.8" text-anchor="end" font-weight="bold" fill="#111" stroke="#111" stroke-width="0.29" style="" >10<tspan font-size="7" dy="-3.0">4</tspan></text>
<line x1="391.60" y1="598.70" x2="396.10" y2="598.70" stroke="#111" stroke-width="1.4"/>
<text x="390.00" y="602.30" font-size="9.8" text-anchor="end" font-weight="bold" fill="#111" stroke="#111" stroke-width="0.29" style="" >10<tspan font-size="7" dy="-3.0">5</tspan></text>
<line x1="391.60" y1="582.30" x2="396.10" y2="582.30" stroke="#111" stroke-width="1.4"/>
<text x="390.00" y="585.90" font-size="9.8" text-anchor="end" font-weight="bold" fill="#111" stroke="#111" stroke-width="0.29" style="" >10<tspan font-size="7" dy="-3.0">6</tspan></text>
<line x1="391.60" y1="565.90" x2="396.10" y2="565.90" stroke="#111" stroke-width="1.4"/>
<text x="390.00" y="569.50" font-size="9.8" text-anchor="end" font-weight="bold" fill="#111" stroke="#111" stroke-width="0.29" style="" >10<tspan font-size="7" dy="-3.0">7</tspan></text>
<line x1="391.60" y1="549.50" x2="396.10" y2="549.50" stroke="#111" stroke-width="1.4"/>
<text x="390.00" y="553.10" font-size="9.8" text-anchor="end" font-weight="bold" fill="#111" stroke="#111" stroke-width="0.29" style="" >10<tspan font-size="7" dy="-3.0">8</tspan></text>
<line x1="391.60" y1="533.10" x2="396.10" y2="533.10" stroke="#111" stroke-width="1.4"/>
<text x="390.00" y="536.70" font-size="9.8" text-anchor="end" font-weight="bold" fill="#111" stroke="#111" stroke-width="0.29" style="" >10<tspan font-size="7" dy="-3.0">9</tspan></text>
<line x1="391.60" y1="516.70" x2="396.10" y2="516.70" stroke="#111" stroke-width="1.4"/>
<text x="390.00" y="520.30" font-size="9.8" text-anchor="end" font-weight="bold" fill="#111" stroke="#111" stroke-width="0.29" style="" >10<tspan font-size="7" dy="-3.0">10</tspan></text>
<text x="348.40" y="581.75" font-size="12.26" text-anchor="middle" font-weight="bold" fill="#111" stroke="#111" stroke-width="0.37" transform="rotate(-90 348.4 581.75)" style="" >CFU/lung <tspan font-style="italic">Pa</tspan></text>
<line x1="422.65" y1="532.90" x2="422.65" y2="544.50" stroke="#1a1a1a" stroke-width="1.7"/>
<line x1="422.65" y1="602.70" x2="422.65" y2="632.40" stroke="#1a1a1a" stroke-width="1.7"/>
<line x1="414.90" y1="532.90" x2="430.40" y2="532.90" stroke="#1a1a1a" stroke-width="1.7"/>
<line x1="414.90" y1="632.40" x2="430.40" y2="632.40" stroke="#1a1a1a" stroke-width="1.7"/>
<rect x="409.80" y="544.50" width="25.70" height="58.20" fill="#9a9898" stroke="#1a1a1a" stroke-width="1.7"/>
<line x1="409.80" y1="600.00" x2="435.50" y2="600.00" stroke="#1a1a1a" stroke-width="1.7"/>
<circle cx="418.50" cy="543.50" r="2.0" fill="#3a3a3a"/>
<circle cx="426.30" cy="543.00" r="2.0" fill="#3a3a3a"/>
<circle cx="422.60" cy="562.50" r="2.0" fill="#3a3a3a"/>
<circle cx="422.60" cy="532.90" r="2.0" fill="#3a3a3a"/>
<circle cx="422.60" cy="626.00" r="2.0" fill="#3a3a3a"/>
<circle cx="422.60" cy="632.40" r="2.0" fill="#3a3a3a"/>
<circle cx="414.00" cy="601.00" r="2.0" fill="#3a3a3a"/>
<circle cx="418.00" cy="600.00" r="2.0" fill="#3a3a3a"/>
<circle cx="427.00" cy="600.00" r="2.0" fill="#3a3a3a"/>
<circle cx="431.00" cy="599.00" r="2.0" fill="#3a3a3a"/>
<line x1="463.55" y1="530.50" x2="463.55" y2="540.60" stroke="#0f2c44" stroke-width="1.7"/>
<line x1="463.55" y1="558.50" x2="463.55" y2="586.90" stroke="#0f2c44" stroke-width="1.7"/>
<line x1="455.80" y1="530.50" x2="471.30" y2="530.50" stroke="#0f2c44" stroke-width="1.7"/>
<line x1="455.80" y1="586.90" x2="471.30" y2="586.90" stroke="#0f2c44" stroke-width="1.7"/>
<rect x="450.50" y="540.60" width="26.10" height="17.90" fill="#8fb0cf" stroke="#0f2c44" stroke-width="1.7"/>
<line x1="450.50" y1="553.50" x2="476.60" y2="553.50" stroke="#0f2c44" stroke-width="1.7"/>
<rect x="461.50" y="528.40" width="4.2" height="4.2" fill="#2a6898"/>
<rect x="455.90" y="536.40" width="4.2" height="4.2" fill="#2a6898"/>
<rect x="466.40" y="538.40" width="4.2" height="4.2" fill="#2a6898"/>
<rect x="455.90" y="554.90" width="4.2" height="4.2" fill="#2a6898"/>
<rect x="466.40" y="550.90" width="4.2" height="4.2" fill="#2a6898"/>
<rect x="466.40" y="556.90" width="4.2" height="4.2" fill="#2a6898"/>
<rect x="461.50" y="584.80" width="4.2" height="4.2" fill="#2a6898"/>
<line x1="504.20" y1="582.20" x2="504.20" y2="595.20" stroke="#8a7848" stroke-width="1.7"/>
<line x1="504.20" y1="612.30" x2="504.20" y2="620.50" stroke="#8a7848" stroke-width="1.7"/>
<line x1="496.45" y1="582.20" x2="511.95" y2="582.20" stroke="#8a7848" stroke-width="1.7"/>
<line x1="496.45" y1="620.50" x2="511.95" y2="620.50" stroke="#8a7848" stroke-width="1.7"/>
<rect x="491.20" y="595.20" width="26.00" height="17.10" fill="#fde59a" stroke="#8a7848" stroke-width="1.7"/>
<line x1="491.20" y1="599.30" x2="517.20" y2="599.30" stroke="#8a7848" stroke-width="1.7"/>
<polygon points="504.20,580.31 506.30,584.09 502.10,584.09" fill="#f4d47e" opacity="1"/>
<polygon points="504.20,593.11 506.30,596.89 502.10,596.89" fill="#f4d47e" opacity="1"/>
<polygon points="504.20,604.11 506.30,607.89 502.10,607.89" fill="#f4d47e" opacity="1"/>
<polygon points="498.00,618.11 500.10,621.89 495.90,621.89" fill="#f4d47e" opacity="1"/>
<polygon points="510.00,617.11 512.10,620.89 507.90,620.89" fill="#f4d47e" opacity="1"/>
<line x1="544.75" y1="551.40" x2="544.75" y2="557.90" stroke="#4f7a70" stroke-width="1.7"/>
<line x1="544.75" y1="599.20" x2="544.75" y2="611.50" stroke="#4f7a70" stroke-width="1.7"/>
<line x1="537.00" y1="551.40" x2="552.50" y2="551.40" stroke="#4f7a70" stroke-width="1.7"/>
<line x1="537.00" y1="611.50" x2="552.50" y2="611.50" stroke="#4f7a70" stroke-width="1.7"/>
<rect x="531.80" y="557.90" width="25.90" height="41.30" fill="#d8ece4" stroke="#4f7a70" stroke-width="1.7"/>
<line x1="531.80" y1="578.80" x2="557.70" y2="578.80" stroke="#4f7a70" stroke-width="1.7"/>
<polygon points="541.00,549.11 543.10,552.89 538.90,552.89" fill="#bcdcd0" opacity="1"/>
<polygon points="551.00,549.61 553.10,553.39 548.90,553.39" fill="#bcdcd0" opacity="1"/>
<polygon points="544.70,570.11 546.80,573.89 542.60,573.89" fill="#bcdcd0" opacity="1"/>
<polygon points="549.00,573.11 551.10,576.89 546.90,576.89" fill="#bcdcd0" opacity="1"/>
<polygon points="544.70,583.11 546.80,586.89 542.60,586.89" fill="#bcdcd0" opacity="1"/>
<path d="M422.4 526.1V515.3H463.7V526.1" stroke="#222" stroke-width="1.4" fill="none"/>
<text x="443.40" y="516.50" font-size="17.5" text-anchor="middle" font-weight="bold" fill="#111" stroke="#111" stroke-width="0.50" style="" >*</text>
<rect x="583.10" y="521.40" width="15.50" height="8.30" fill="#9a9898" stroke="#1a1a1a" stroke-width="1.8"/>
<text x="606.20" y="529.25" font-size="10.4" text-anchor="start" font-weight="bold" fill="#111" stroke="#111" stroke-width="0.31" style="" ><tspan font-style="italic">Pa - Sm</tspan></text>
<rect x="583.10" y="538.40" width="15.50" height="8.20" fill="#8fb0cf" stroke="#0f2c44" stroke-width="1.8"/>
<text x="606.20" y="546.20" font-size="10.4" text-anchor="start" font-weight="bold" fill="#111" stroke="#111" stroke-width="0.31" style="" ><tspan font-style="italic">Pa + Sm</tspan></text>
<rect x="583.10" y="556.70" width="15.50" height="8.10" fill="#fde59a" stroke="#8a7848" stroke-width="1.8"/>
<text x="606.20" y="564.45" font-size="10.4" text-anchor="start" font-weight="bold" fill="#111" stroke="#111" stroke-width="0.31" style="" ><tspan font-style="italic">Pa lasB - Sm</tspan></text>
<rect x="583.10" y="573.30" width="15.50" height="9.10" fill="#d8ece4" stroke="#4f7a70" stroke-width="1.8"/>
<text x="606.20" y="581.55" font-size="10.4" text-anchor="start" font-weight="bold" fill="#111" stroke="#111" stroke-width="0.31" style="" ><tspan font-style="italic">Pa lasB + Sm</tspan></text>
<text x="579.70" y="651.60" font-size="9.4" text-anchor="start" font-weight="bold" fill="#111" stroke="#111" stroke-width="0.28" style="" >LOD</text>
</svg></body></html>
